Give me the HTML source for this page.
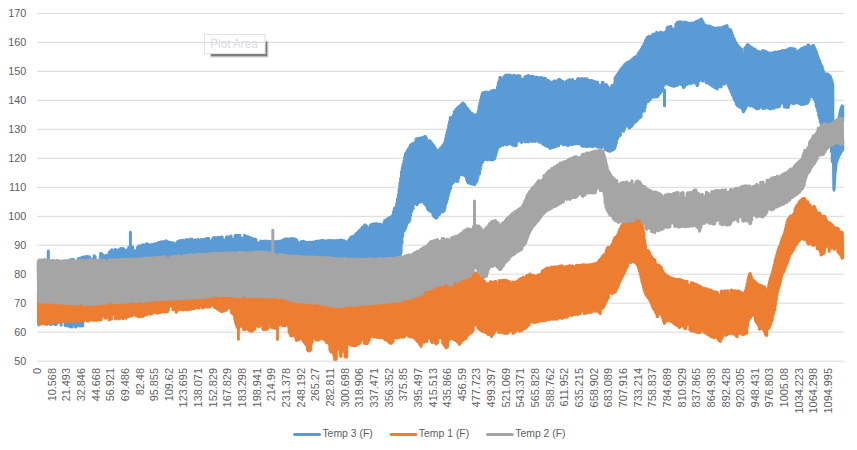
<!DOCTYPE html>
<html><head><meta charset="utf-8"><title>chart</title>
<style>
html,body{margin:0;padding:0;background:#fff;}
body{width:857px;height:450px;overflow:hidden;font-family:"Liberation Sans",sans-serif;}
svg{display:block;}
text{font-family:"Liberation Sans",sans-serif;font-size:10.4px;fill:#606060;}
.tip text{fill:#DCDCE4;font-size:12px;}
</style></head><body>
<svg width="857" height="450" viewBox="0 0 857 450">
<rect width="857" height="450" fill="#fff"/>
<g>
<line x1="37" y1="13.4" x2="844.2" y2="13.4" stroke="#D9D9D9" stroke-width="1"/>
<line x1="37" y1="42.4" x2="844.2" y2="42.4" stroke="#D9D9D9" stroke-width="1"/>
<line x1="37" y1="71.4" x2="844.2" y2="71.4" stroke="#D9D9D9" stroke-width="1"/>
<line x1="37" y1="100.3" x2="844.2" y2="100.3" stroke="#D9D9D9" stroke-width="1"/>
<line x1="37" y1="129.3" x2="844.2" y2="129.3" stroke="#D9D9D9" stroke-width="1"/>
<line x1="37" y1="158.3" x2="844.2" y2="158.3" stroke="#D9D9D9" stroke-width="1"/>
<line x1="37" y1="187.3" x2="844.2" y2="187.3" stroke="#D9D9D9" stroke-width="1"/>
<line x1="37" y1="216.3" x2="844.2" y2="216.3" stroke="#D9D9D9" stroke-width="1"/>
<line x1="37" y1="245.2" x2="844.2" y2="245.2" stroke="#D9D9D9" stroke-width="1"/>
<line x1="37" y1="274.2" x2="844.2" y2="274.2" stroke="#D9D9D9" stroke-width="1"/>
<line x1="37" y1="303.2" x2="844.2" y2="303.2" stroke="#D9D9D9" stroke-width="1"/>
<line x1="37" y1="332.2" x2="844.2" y2="332.2" stroke="#D9D9D9" stroke-width="1"/>
<line x1="37" y1="361.2" x2="844.2" y2="361.2" stroke="#D9D9D9" stroke-width="1"/>
</g>
<g>
<path d="M38.3,263.6 L39.1,266.2 L39.9,266.1 L40.7,265.3 L41.5,265.6 L42.3,265.5 L43.1,263.8 L43.9,263.6 L44.7,263.6 L45.5,262.5 L46.3,262.3 L47.1,262.8 L47.9,262.2 L48.7,262.4 L49.5,261.9 L50.3,262.2 L51.1,262.0 L51.9,262.0 L52.7,262.6 L53.5,262.1 L54.3,261.9 L55.1,262.3 L55.9,262.1 L56.7,262.4 L57.5,262.1 L58.3,262.4 L59.1,262.4 L59.9,263.2 L60.7,262.2 L61.5,261.9 L62.3,262.6 L63.1,261.8 L63.9,262.4 L64.7,261.9 L65.5,261.5 L66.3,261.0 L67.1,261.5 L67.9,261.2 L68.7,261.2 L69.5,260.8 L70.3,260.0 L71.1,259.4 L71.9,260.0 L72.7,259.4 L73.5,259.6 L74.3,262.4 L75.1,261.6 L75.9,262.3 L76.7,261.8 L77.5,261.7 L78.3,258.7 L79.1,258.5 L79.9,258.2 L80.7,258.1 L81.5,257.8 L82.3,257.3 L83.1,257.6 L83.9,257.1 L84.7,256.8 L85.5,257.0 L86.3,257.0 L87.1,256.4 L87.9,256.6 L88.7,257.2 L89.5,256.8 L90.3,259.6 L91.1,259.6 L91.9,259.2 L92.7,259.0 L93.5,259.2 L94.3,255.8 L95.1,256.7 L95.9,260.7 L96.7,263.2 L97.5,263.9 L98.3,261.4 L99.1,261.4 L99.9,259.0 L100.7,253.6 L101.5,253.4 L102.3,254.2 L103.1,255.7 L103.9,256.2 L104.7,255.9 L105.5,255.5 L106.3,256.0 L107.1,255.6 L107.9,256.3 L108.7,254.0 L109.5,252.1 L110.3,251.7 L111.1,250.6 L111.9,249.8 L112.7,250.7 L113.5,253.0 L114.3,252.5 L115.1,249.4 L115.9,250.0 L116.7,250.1 L117.5,250.5 L118.3,250.1 L119.1,249.8 L119.9,249.4 L120.7,248.6 L121.5,248.7 L122.3,248.4 L123.1,248.6 L123.9,248.9 L124.7,250.5 L125.5,251.2 L126.3,250.5 L127.1,250.0 L127.9,249.9 L128.7,247.4 L129.5,247.7 L130.3,247.1 L131.1,246.6 L131.9,247.0 L132.7,246.7 L133.5,250.2 L134.3,250.8 L135.1,251.3 L135.9,250.8 L136.7,250.1 L137.5,247.6 L138.3,246.4 L139.1,246.1 L139.9,246.0 L140.7,245.7 L141.5,245.7 L142.3,245.0 L143.1,244.7 L143.9,245.5 L144.7,245.1 L145.5,244.9 L146.3,244.1 L147.1,243.7 L147.9,244.1 L148.7,244.6 L149.5,247.1 L150.3,246.8 L151.1,244.9 L151.9,244.6 L152.7,244.6 L153.5,245.3 L154.3,244.1 L155.1,244.2 L155.9,244.3 L156.7,243.8 L157.5,243.3 L158.3,242.7 L159.1,242.5 L159.9,242.9 L160.7,242.1 L161.5,241.8 L162.3,242.0 L163.1,241.8 L163.9,241.8 L164.7,241.4 L165.5,241.2 L166.3,240.8 L167.1,241.8 L167.9,242.1 L168.7,241.9 L169.5,242.5 L170.3,242.4 L171.1,242.7 L171.9,243.1 L172.7,243.0 L173.5,243.0 L174.3,243.0 L175.1,245.3 L175.9,244.5 L176.7,245.4 L177.5,241.7 L178.3,241.8 L179.1,240.9 L179.9,241.0 L180.7,240.6 L181.5,241.1 L182.3,240.8 L183.1,240.2 L183.9,240.4 L184.7,241.3 L185.5,240.6 L186.3,239.8 L187.1,239.4 L187.9,239.9 L188.7,239.8 L189.5,239.6 L190.3,239.3 L191.1,240.0 L191.9,239.0 L192.7,240.0 L193.5,241.0 L194.3,240.2 L195.1,240.1 L195.9,239.9 L196.7,240.8 L197.5,239.7 L198.3,239.6 L199.1,240.6 L199.9,240.9 L200.7,240.0 L201.5,239.6 L202.3,239.7 L203.1,240.2 L203.9,239.4 L204.7,239.3 L205.5,238.9 L206.3,239.3 L207.1,238.6 L207.9,238.5 L208.7,238.6 L209.5,240.9 L210.3,240.9 L211.1,241.0 L211.9,240.8 L212.7,238.7 L213.5,237.8 L214.3,237.6 L215.1,238.5 L215.9,237.7 L216.7,238.6 L217.5,237.6 L218.3,237.2 L219.1,237.6 L219.9,237.9 L220.7,237.5 L221.5,236.9 L222.3,237.2 L223.1,240.7 L223.9,240.9 L224.7,240.3 L225.5,241.3 L226.3,237.6 L227.1,236.8 L227.9,237.0 L228.7,240.3 L229.5,239.6 L230.3,236.6 L231.1,236.1 L231.9,239.1 L232.7,239.8 L233.5,239.2 L234.3,239.1 L235.1,235.7 L235.9,235.3 L236.7,235.9 L237.5,235.2 L238.3,236.3 L239.1,235.4 L239.9,235.3 L240.7,238.6 L241.5,238.8 L242.3,238.8 L243.1,238.2 L243.9,238.7 L244.7,235.2 L245.5,235.9 L246.3,236.8 L247.1,236.8 L247.9,236.8 L248.7,237.1 L249.5,238.0 L250.3,237.7 L251.1,237.9 L251.9,239.1 L252.7,238.8 L253.5,238.9 L254.3,240.4 L255.1,239.1 L255.9,239.4 L256.7,242.8 L257.5,243.0 L258.3,242.9 L259.1,243.3 L259.9,243.7 L260.7,241.0 L261.5,241.4 L262.3,241.5 L263.1,241.2 L263.9,241.9 L264.7,242.1 L265.5,241.1 L266.3,241.2 L267.1,241.7 L267.9,241.3 L268.7,241.2 L269.5,241.5 L270.3,241.7 L271.1,241.7 L271.9,241.4 L272.7,240.9 L273.5,241.5 L274.3,241.4 L275.1,242.2 L275.9,241.7 L276.7,241.8 L277.5,241.3 L278.3,241.2 L279.1,241.9 L279.9,241.6 L280.7,241.1 L281.5,240.8 L282.3,240.6 L283.1,240.3 L283.9,239.4 L284.7,239.5 L285.5,239.4 L286.3,238.7 L287.1,238.9 L287.9,240.2 L288.7,240.0 L289.5,238.7 L290.3,239.3 L291.1,238.7 L291.9,238.5 L292.7,239.0 L293.5,238.8 L294.3,238.8 L295.1,239.6 L295.9,239.4 L296.7,240.0 L297.5,242.2 L298.3,242.2 L299.1,242.7 L299.9,243.0 L300.7,242.8 L301.5,241.5 L302.3,241.4 L303.1,241.3 L303.9,241.8 L304.7,242.0 L305.5,242.0 L306.3,242.8 L307.1,242.6 L307.9,242.6 L308.7,242.8 L309.5,242.3 L310.3,242.3 L311.1,242.7 L311.9,242.3 L312.7,242.1 L313.5,242.7 L314.3,242.4 L315.1,241.8 L315.9,241.2 L316.7,241.4 L317.5,241.7 L318.3,241.0 L319.1,240.9 L319.9,241.3 L320.7,241.1 L321.5,240.6 L322.3,240.6 L323.1,240.8 L323.9,240.8 L324.7,240.9 L325.5,240.9 L326.3,241.9 L327.1,241.3 L327.9,240.6 L328.7,241.2 L329.5,240.6 L330.3,240.7 L331.1,240.5 L331.9,240.8 L332.7,240.8 L333.5,241.0 L334.3,240.4 L335.1,241.2 L335.9,241.6 L336.7,240.6 L337.5,240.7 L338.3,240.9 L339.1,240.6 L339.9,240.6 L340.7,240.0 L341.5,240.6 L342.3,240.3 L343.1,240.7 L343.9,240.7 L344.7,241.0 L345.5,242.1 L346.3,242.0 L347.1,243.1 L347.9,241.5 L348.7,240.5 L349.5,239.2 L350.3,238.2 L351.1,237.1 L351.9,237.3 L352.7,236.5 L353.5,238.0 L354.3,237.7 L355.1,234.7 L355.9,233.9 L356.7,233.3 L357.5,232.7 L358.3,231.9 L359.1,230.8 L359.9,230.4 L360.7,229.6 L361.5,228.7 L362.3,227.3 L363.1,227.0 L363.9,226.8 L364.7,225.0 L365.5,225.0 L366.3,226.1 L367.1,226.6 L367.9,229.3 L368.7,230.1 L369.5,228.5 L370.3,225.4 L371.1,225.0 L371.9,224.3 L372.7,224.8 L373.5,223.9 L374.3,223.7 L375.1,223.8 L375.9,224.3 L376.7,223.8 L377.5,224.1 L378.3,224.6 L379.1,224.3 L379.9,224.0 L380.7,224.5 L381.5,225.2 L382.3,225.1 L383.1,224.6 L383.9,222.9 L384.7,220.6 L385.5,220.2 L386.3,219.7 L387.1,219.2 L387.9,218.7 L388.7,218.1 L389.5,218.1 L390.3,217.4 L391.1,217.1 L391.9,217.1 L392.7,215.2 L393.5,212.1 L394.3,208.4 L395.1,208.8 L395.9,206.8 L396.7,203.5 L397.5,199.3 L398.3,195.2 L399.1,189.2 L399.9,183.1 L400.7,178.3 L401.5,171.7 L402.3,167.8 L403.1,164.6 L403.9,161.1 L404.7,156.9 L405.5,154.0 L406.3,152.9 L407.1,150.9 L407.9,150.0 L408.7,148.4 L409.5,147.4 L410.3,145.6 L411.1,144.7 L411.9,143.9 L412.7,143.7 L413.5,143.2 L414.3,143.9 L415.1,142.9 L415.9,139.5 L416.7,138.7 L417.5,138.9 L418.3,138.3 L419.1,138.5 L419.9,138.2 L420.7,138.2 L421.5,137.8 L422.3,137.7 L423.1,137.6 L423.9,137.4 L424.7,136.5 L425.5,136.5 L426.3,137.8 L427.1,141.5 L427.9,141.6 L428.7,143.4 L429.5,140.4 L430.3,141.0 L431.1,142.5 L431.9,142.9 L432.7,144.4 L433.5,145.3 L434.3,146.5 L435.1,147.4 L435.9,149.0 L436.7,152.5 L437.5,153.5 L438.3,150.6 L439.1,150.3 L439.9,149.1 L440.7,147.9 L441.5,147.8 L442.3,146.2 L443.1,145.3 L443.9,143.9 L444.7,142.5 L445.5,139.1 L446.3,135.2 L447.1,132.0 L447.9,129.5 L448.7,125.2 L449.5,121.7 L450.3,117.4 L451.1,118.8 L451.9,117.5 L452.7,116.8 L453.5,115.1 L454.3,111.7 L455.1,110.9 L455.9,109.6 L456.7,109.2 L457.5,107.8 L458.3,107.6 L459.1,106.4 L459.9,106.3 L460.7,105.2 L461.5,104.5 L462.3,103.4 L463.1,103.1 L463.9,104.3 L464.7,104.6 L465.5,105.9 L466.3,107.4 L467.1,108.7 L467.9,108.7 L468.7,111.1 L469.5,111.0 L470.3,112.2 L471.1,113.1 L471.9,114.4 L472.7,113.8 L473.5,114.9 L474.3,115.1 L475.1,115.7 L475.9,114.7 L476.7,114.7 L477.5,115.3 L478.3,111.0 L479.1,106.5 L479.9,103.3 L480.7,99.6 L481.5,96.2 L482.3,93.6 L483.1,92.7 L483.9,93.1 L484.7,92.3 L485.5,92.4 L486.3,92.1 L487.1,92.6 L487.9,92.2 L488.7,92.7 L489.5,92.8 L490.3,91.9 L491.1,91.0 L491.9,91.9 L492.7,90.9 L493.5,90.3 L494.3,90.6 L495.1,90.5 L495.9,92.9 L496.7,90.9 L497.5,87.1 L498.3,83.1 L499.1,81.3 L499.9,77.4 L500.7,77.4 L501.5,80.1 L502.3,79.5 L503.1,79.8 L503.9,76.7 L504.7,76.5 L505.5,75.3 L506.3,75.8 L507.1,75.1 L507.9,75.3 L508.7,75.2 L509.5,75.6 L510.3,74.9 L511.1,75.7 L511.9,76.2 L512.7,75.7 L513.5,75.7 L514.3,75.3 L515.1,75.7 L515.9,75.9 L516.7,76.6 L517.5,76.4 L518.3,75.5 L519.1,76.1 L519.9,75.8 L520.7,78.4 L521.5,79.3 L522.3,79.3 L523.1,79.4 L523.9,79.4 L524.7,77.2 L525.5,76.4 L526.3,76.4 L527.1,76.0 L527.9,76.6 L528.7,75.5 L529.5,76.5 L530.3,76.4 L531.1,76.4 L531.9,76.6 L532.7,76.3 L533.5,77.4 L534.3,77.2 L535.1,77.3 L535.9,77.1 L536.7,77.7 L537.5,77.2 L538.3,78.1 L539.1,78.1 L539.9,77.9 L540.7,77.5 L541.5,77.7 L542.3,77.9 L543.1,78.4 L543.9,78.2 L544.7,78.3 L545.5,78.5 L546.3,79.7 L547.1,80.6 L547.9,80.3 L548.7,80.8 L549.5,81.6 L550.3,82.3 L551.1,82.7 L551.9,82.8 L552.7,82.1 L553.5,82.0 L554.3,80.9 L555.1,81.0 L555.9,81.1 L556.7,81.7 L557.5,81.1 L558.3,79.7 L559.1,79.6 L559.9,79.8 L560.7,79.9 L561.5,81.1 L562.3,81.6 L563.1,81.6 L563.9,82.4 L564.7,83.2 L565.5,82.9 L566.3,81.4 L567.1,81.1 L567.9,80.5 L568.7,80.1 L569.5,79.9 L570.3,79.8 L571.1,80.3 L571.9,80.4 L572.7,79.5 L573.5,81.0 L574.3,81.8 L575.1,81.5 L575.9,81.5 L576.7,81.1 L577.5,79.3 L578.3,78.6 L579.1,79.0 L579.9,78.8 L580.7,79.2 L581.5,78.7 L582.3,78.4 L583.1,78.9 L583.9,78.9 L584.7,78.8 L585.5,79.0 L586.3,79.0 L587.1,78.8 L587.9,80.0 L588.7,82.3 L589.5,82.5 L590.3,80.4 L591.1,80.6 L591.9,80.7 L592.7,80.8 L593.5,81.3 L594.3,82.2 L595.1,81.8 L595.9,82.2 L596.7,82.3 L597.5,82.0 L598.3,86.0 L599.1,85.1 L599.9,85.5 L600.7,85.2 L601.5,85.9 L602.3,82.4 L603.1,82.3 L603.9,85.2 L604.7,85.1 L605.5,85.0 L606.3,84.5 L607.1,85.4 L607.9,86.9 L608.7,89.5 L609.5,88.9 L610.3,88.0 L611.1,87.5 L611.9,85.6 L612.7,88.0 L613.5,85.4 L614.3,84.0 L615.1,77.8 L615.9,77.1 L616.7,75.5 L617.5,74.6 L618.3,73.5 L619.1,72.3 L619.9,70.7 L620.7,69.8 L621.5,68.5 L622.3,67.8 L623.1,66.9 L623.9,65.8 L624.7,64.4 L625.5,63.9 L626.3,63.4 L627.1,62.7 L627.9,62.3 L628.7,61.7 L629.5,62.0 L630.3,61.0 L631.1,60.6 L631.9,60.0 L632.7,58.8 L633.5,58.4 L634.3,57.6 L635.1,57.1 L635.9,57.3 L636.7,56.6 L637.5,55.5 L638.3,53.4 L639.1,52.7 L639.9,51.3 L640.7,50.6 L641.5,48.9 L642.3,47.2 L643.1,46.2 L643.9,44.5 L644.7,43.1 L645.5,40.6 L646.3,39.6 L647.1,37.4 L647.9,37.1 L648.7,37.1 L649.5,36.1 L650.3,36.7 L651.1,36.7 L651.9,36.5 L652.7,34.5 L653.5,34.5 L654.3,33.9 L655.1,34.0 L655.9,33.7 L656.7,32.3 L657.5,33.1 L658.3,33.3 L659.1,32.9 L659.9,32.8 L660.7,32.1 L661.5,32.9 L662.3,32.8 L663.1,32.9 L663.9,32.7 L664.7,33.4 L665.5,32.1 L666.3,31.0 L667.1,28.1 L667.9,27.1 L668.7,27.4 L669.5,27.0 L670.3,26.6 L671.1,26.6 L671.9,30.0 L672.7,29.5 L673.5,29.5 L674.3,28.8 L675.1,28.4 L675.9,24.1 L676.7,23.9 L677.5,22.2 L678.3,22.8 L679.1,22.0 L679.9,21.8 L680.7,21.8 L681.5,22.3 L682.3,22.2 L683.1,23.3 L683.9,23.1 L684.7,22.1 L685.5,22.8 L686.3,22.3 L687.1,22.7 L687.9,23.4 L688.7,23.0 L689.5,23.5 L690.3,23.5 L691.1,23.2 L691.9,23.0 L692.7,23.0 L693.5,23.0 L694.3,22.7 L695.1,22.8 L695.9,21.8 L696.7,21.3 L697.5,21.0 L698.3,21.0 L699.1,20.6 L699.9,19.8 L700.7,19.4 L701.5,18.9 L702.3,20.4 L703.1,21.7 L703.9,24.0 L704.7,25.2 L705.5,25.2 L706.3,25.8 L707.1,26.0 L707.9,25.9 L708.7,26.5 L709.5,26.1 L710.3,26.9 L711.1,26.7 L711.9,27.4 L712.7,27.7 L713.5,27.9 L714.3,28.3 L715.1,28.0 L715.9,28.9 L716.7,29.2 L717.5,28.0 L718.3,27.8 L719.1,28.1 L719.9,27.9 L720.7,27.7 L721.5,27.9 L722.3,27.4 L723.1,27.5 L723.9,26.7 L724.7,26.3 L725.5,26.8 L726.3,26.9 L727.1,25.5 L727.9,28.3 L728.7,29.6 L729.5,31.5 L730.3,29.6 L731.1,30.7 L731.9,32.9 L732.7,35.2 L733.5,37.8 L734.3,38.7 L735.1,40.9 L735.9,42.5 L736.7,43.8 L737.5,44.9 L738.3,45.8 L739.1,47.2 L739.9,47.5 L740.7,48.6 L741.5,49.1 L742.3,53.5 L743.1,54.0 L743.9,54.7 L744.7,48.6 L745.5,47.6 L746.3,46.6 L747.1,45.0 L747.9,44.5 L748.7,45.2 L749.5,45.9 L750.3,46.4 L751.1,47.2 L751.9,47.6 L752.7,48.8 L753.5,48.9 L754.3,49.1 L755.1,48.9 L755.9,51.5 L756.7,51.2 L757.5,51.1 L758.3,51.5 L759.1,51.7 L759.9,52.2 L760.7,52.9 L761.5,52.7 L762.3,50.7 L763.1,50.7 L763.9,51.0 L764.7,51.1 L765.5,51.6 L766.3,52.2 L767.1,52.3 L767.9,52.8 L768.7,53.0 L769.5,53.7 L770.3,52.9 L771.1,53.4 L771.9,53.4 L772.7,53.3 L773.5,52.6 L774.3,53.3 L775.1,52.1 L775.9,52.7 L776.7,52.2 L777.5,52.1 L778.3,51.8 L779.1,51.5 L779.9,51.4 L780.7,51.6 L781.5,51.8 L782.3,50.6 L783.1,51.1 L783.9,50.9 L784.7,50.6 L785.5,50.3 L786.3,50.3 L787.1,50.0 L787.9,49.6 L788.7,49.1 L789.5,48.9 L790.3,48.3 L791.1,48.6 L791.9,49.3 L792.7,48.4 L793.5,49.4 L794.3,49.9 L795.1,49.1 L795.9,50.9 L796.7,51.5 L797.5,52.3 L798.3,52.1 L799.1,50.5 L799.9,50.4 L800.7,49.5 L801.5,48.6 L802.3,48.3 L803.1,48.0 L803.9,47.8 L804.7,47.1 L805.5,47.0 L806.3,49.1 L807.1,48.3 L807.9,45.0 L808.7,44.9 L809.5,47.0 L810.3,47.3 L811.1,47.1 L811.9,46.3 L812.7,46.8 L813.5,45.3 L814.3,47.0 L815.1,48.8 L815.9,50.5 L816.7,52.5 L817.5,55.5 L818.3,57.5 L819.1,60.2 L819.9,60.7 L820.7,63.7 L821.5,65.5 L822.3,66.7 L823.1,70.1 L823.9,71.7 L824.7,73.7 L825.5,75.2 L826.3,75.8 L827.1,73.8 L827.9,74.5 L828.7,74.7 L829.5,75.5 L830.3,76.1 L831.1,82.2 L831.9,82.4 L832.3,161.8 L831.5,151.8 L830.7,138.1 L829.9,131.5 L829.1,129.9 L828.3,128.3 L827.5,126.5 L826.7,117.5 L825.9,115.4 L825.1,120.4 L824.3,126.7 L823.5,126.6 L822.7,126.8 L821.9,126.5 L821.1,124.5 L820.3,121.7 L819.5,118.4 L818.7,115.2 L817.9,111.5 L817.1,108.5 L816.3,106.2 L815.5,102.1 L814.7,99.3 L813.9,99.1 L813.1,96.8 L812.3,96.7 L811.5,96.8 L810.7,96.7 L809.9,97.1 L809.1,100.2 L808.3,102.1 L807.5,103.3 L806.7,103.6 L805.9,103.7 L805.1,103.7 L804.3,104.2 L803.5,104.1 L802.7,104.4 L801.9,104.4 L801.1,104.6 L800.3,104.1 L799.5,103.7 L798.7,102.6 L797.9,103.1 L797.1,102.7 L796.3,102.7 L795.5,103.1 L794.7,103.0 L793.9,103.7 L793.1,103.4 L792.3,102.5 L791.5,102.9 L790.7,102.4 L789.9,102.5 L789.1,104.8 L788.3,107.6 L787.5,107.3 L786.7,107.4 L785.9,106.7 L785.1,107.0 L784.3,106.9 L783.5,103.1 L782.7,102.3 L781.9,102.0 L781.1,103.4 L780.3,102.2 L779.5,106.4 L778.7,106.2 L777.9,107.0 L777.1,107.2 L776.3,107.0 L775.5,107.0 L774.7,107.8 L773.9,108.2 L773.1,108.6 L772.3,106.1 L771.5,106.3 L770.7,108.9 L769.9,109.0 L769.1,108.4 L768.3,108.3 L767.5,107.4 L766.7,107.0 L765.9,107.5 L765.1,108.5 L764.3,108.2 L763.5,107.9 L762.7,108.6 L761.9,106.1 L761.1,105.7 L760.3,105.2 L759.5,107.7 L758.7,108.4 L757.9,108.0 L757.1,108.8 L756.3,108.7 L755.5,107.7 L754.7,107.5 L753.9,106.9 L753.1,105.7 L752.3,106.0 L751.5,105.7 L750.7,105.1 L749.9,105.9 L749.1,105.0 L748.3,104.8 L747.5,104.8 L746.7,106.2 L745.9,107.7 L745.1,109.5 L744.3,110.4 L743.5,111.9 L742.7,110.2 L741.9,108.2 L741.1,107.4 L740.3,107.3 L739.5,107.2 L738.7,106.6 L737.9,105.9 L737.1,105.6 L736.3,104.0 L735.5,101.4 L734.7,99.9 L733.9,98.6 L733.1,96.3 L732.3,94.9 L731.5,92.7 L730.7,91.2 L729.9,89.1 L729.1,87.5 L728.3,85.5 L727.5,82.1 L726.7,82.3 L725.9,81.7 L725.1,83.8 L724.3,84.0 L723.5,83.9 L722.7,84.1 L721.9,84.6 L721.1,86.9 L720.3,86.0 L719.5,86.5 L718.7,87.1 L717.9,87.1 L717.1,88.9 L716.3,87.9 L715.5,87.7 L714.7,87.7 L713.9,86.7 L713.1,86.3 L712.3,86.2 L711.5,85.3 L710.7,84.8 L709.9,84.5 L709.1,83.9 L708.3,83.0 L707.5,82.7 L706.7,82.9 L705.9,82.2 L705.1,79.4 L704.3,78.2 L703.5,78.7 L702.7,81.2 L701.9,78.2 L701.1,78.9 L700.3,79.5 L699.5,80.7 L698.7,81.3 L697.9,85.1 L697.1,85.7 L696.3,83.8 L695.5,82.5 L694.7,82.0 L693.9,82.7 L693.1,82.6 L692.3,82.6 L691.5,83.1 L690.7,83.7 L689.9,83.4 L689.1,83.0 L688.3,83.4 L687.5,84.3 L686.7,84.6 L685.9,84.6 L685.1,85.7 L684.3,87.0 L683.5,87.8 L682.7,85.0 L681.9,85.0 L681.1,82.6 L680.3,83.9 L679.5,83.8 L678.7,84.3 L677.9,85.1 L677.1,85.4 L676.3,85.6 L675.5,85.6 L674.7,86.2 L673.9,86.2 L673.1,86.1 L672.3,85.9 L671.5,85.2 L670.7,85.4 L669.9,84.4 L669.1,84.5 L668.3,84.4 L667.5,84.0 L666.7,81.3 L665.9,81.3 L665.1,83.7 L664.3,85.1 L663.5,85.7 L662.7,90.1 L661.9,90.9 L661.1,92.3 L660.3,92.7 L659.5,94.1 L658.7,94.9 L657.9,96.6 L657.1,96.9 L656.3,96.4 L655.5,96.7 L654.7,97.3 L653.9,96.4 L653.1,96.6 L652.3,97.1 L651.5,97.9 L650.7,98.8 L649.9,100.0 L649.1,100.3 L648.3,101.6 L647.5,100.6 L646.7,101.5 L645.9,104.1 L645.1,107.6 L644.3,111.2 L643.5,109.6 L642.7,111.0 L641.9,112.3 L641.1,116.5 L640.3,117.5 L639.5,117.9 L638.7,118.3 L637.9,119.5 L637.1,120.2 L636.3,121.4 L635.5,121.7 L634.7,122.0 L633.9,123.3 L633.1,123.9 L632.3,125.6 L631.5,126.4 L630.7,127.0 L629.9,127.8 L629.1,127.9 L628.3,124.7 L627.5,126.0 L626.7,126.1 L625.9,126.3 L625.1,127.1 L624.3,130.0 L623.5,131.6 L622.7,129.1 L621.9,129.4 L621.1,130.8 L620.3,135.2 L619.5,136.1 L618.7,136.3 L617.9,138.1 L617.1,139.6 L616.3,143.2 L615.5,146.2 L614.7,148.5 L613.9,149.3 L613.1,149.7 L612.3,150.2 L611.5,149.9 L610.7,150.8 L609.9,151.4 L609.1,151.0 L608.3,150.7 L607.5,150.7 L606.7,149.9 L605.9,149.6 L605.1,149.4 L604.3,145.4 L603.5,144.9 L602.7,144.1 L601.9,147.4 L601.1,147.6 L600.3,147.0 L599.5,146.9 L598.7,147.1 L597.9,147.3 L597.1,147.0 L596.3,146.2 L595.5,143.3 L594.7,143.2 L593.9,145.8 L593.1,146.7 L592.3,146.3 L591.5,146.4 L590.7,145.9 L589.9,145.7 L589.1,146.3 L588.3,146.3 L587.5,145.9 L586.7,146.7 L585.9,146.5 L585.1,145.9 L584.3,145.8 L583.5,146.2 L582.7,146.4 L581.9,146.1 L581.1,144.9 L580.3,143.6 L579.5,143.1 L578.7,143.7 L577.9,143.7 L577.1,143.2 L576.3,143.8 L575.5,144.0 L574.7,143.8 L573.9,143.9 L573.1,144.0 L572.3,144.4 L571.5,144.4 L570.7,144.4 L569.9,144.4 L569.1,145.1 L568.3,145.6 L567.5,145.2 L566.7,145.3 L565.9,143.4 L565.1,144.1 L564.3,144.6 L563.5,145.1 L562.7,143.4 L561.9,143.5 L561.1,143.4 L560.3,143.1 L559.5,142.6 L558.7,145.8 L557.9,145.6 L557.1,145.8 L556.3,146.5 L555.5,146.2 L554.7,146.9 L553.9,146.5 L553.1,147.5 L552.3,147.5 L551.5,147.8 L550.7,147.9 L549.9,148.4 L549.1,144.4 L548.3,144.3 L547.5,146.8 L546.7,146.3 L545.9,145.6 L545.1,145.4 L544.3,145.1 L543.5,144.6 L542.7,144.1 L541.9,143.3 L541.1,142.5 L540.3,141.9 L539.5,142.1 L538.7,141.9 L537.9,138.7 L537.1,138.7 L536.3,138.7 L535.5,141.5 L534.7,141.3 L533.9,141.4 L533.1,141.0 L532.3,141.1 L531.5,141.4 L530.7,141.2 L529.9,140.7 L529.1,141.1 L528.3,142.0 L527.5,141.7 L526.7,141.4 L525.9,141.8 L525.1,142.0 L524.3,138.5 L523.5,138.8 L522.7,138.8 L521.9,142.4 L521.1,142.2 L520.3,138.7 L519.5,139.2 L518.7,140.8 L517.9,141.2 L517.1,141.4 L516.3,145.4 L515.5,146.1 L514.7,144.5 L513.9,144.1 L513.1,145.4 L512.3,145.1 L511.5,143.9 L510.7,143.8 L509.9,143.4 L509.1,144.1 L508.3,143.9 L507.5,143.7 L506.7,144.8 L505.9,141.4 L505.1,140.8 L504.3,144.6 L503.5,144.9 L502.7,145.2 L501.9,145.2 L501.1,144.9 L500.3,146.2 L499.5,146.7 L498.7,146.8 L497.9,148.1 L497.1,150.6 L496.3,153.4 L495.5,156.3 L494.7,158.8 L493.9,159.3 L493.1,159.7 L492.3,159.8 L491.5,159.8 L490.7,160.1 L489.9,159.3 L489.1,159.3 L488.3,159.3 L487.5,159.9 L486.7,159.3 L485.9,159.2 L485.1,159.6 L484.3,159.5 L483.5,160.0 L482.7,162.2 L481.9,163.1 L481.1,165.5 L480.3,169.5 L479.5,173.9 L478.7,174.2 L477.9,178.1 L477.1,180.8 L476.3,182.2 L475.5,183.1 L474.7,184.8 L473.9,184.4 L473.1,184.3 L472.3,183.9 L471.5,183.9 L470.7,183.8 L469.9,183.4 L469.1,183.1 L468.3,183.0 L467.5,182.0 L466.7,179.9 L465.9,177.0 L465.1,175.9 L464.3,175.3 L463.5,174.4 L462.7,174.9 L461.9,174.3 L461.1,174.5 L460.3,174.9 L459.5,174.9 L458.7,177.9 L457.9,181.5 L457.1,181.1 L456.3,181.3 L455.5,181.1 L454.7,181.2 L453.9,181.8 L453.1,182.9 L452.3,182.6 L451.5,184.5 L450.7,188.2 L449.9,190.5 L449.1,192.7 L448.3,195.9 L447.5,199.4 L446.7,201.9 L445.9,204.1 L445.1,208.3 L444.3,210.7 L443.5,210.7 L442.7,211.9 L441.9,211.6 L441.1,212.1 L440.3,212.6 L439.5,214.5 L438.7,214.9 L437.9,215.4 L437.1,217.4 L436.3,218.2 L435.5,218.0 L434.7,216.7 L433.9,216.8 L433.1,215.3 L432.3,212.7 L431.5,212.0 L430.7,211.3 L429.9,211.3 L429.1,210.6 L428.3,210.0 L427.5,208.7 L426.7,206.4 L425.9,205.0 L425.1,204.5 L424.3,203.7 L423.5,202.2 L422.7,200.5 L421.9,201.0 L421.1,202.1 L420.3,200.6 L419.5,201.7 L418.7,202.7 L417.9,203.1 L417.1,204.7 L416.3,202.8 L415.5,203.5 L414.7,203.1 L413.9,204.6 L413.1,209.0 L412.3,207.7 L411.5,211.7 L410.7,215.6 L409.9,219.9 L409.1,222.1 L408.3,220.5 L407.5,223.0 L406.7,224.9 L405.9,227.4 L405.1,229.2 L404.3,231.1 L403.5,229.9 L402.7,236.0 L401.9,243.6 L401.1,252.9 L400.3,258.2 L399.5,260.5 L398.7,260.6 L397.9,261.5 L397.1,261.7 L396.3,262.0 L395.5,262.9 L394.7,262.8 L393.9,263.4 L393.1,263.0 L392.3,263.8 L391.5,263.8 L390.7,264.6 L389.9,265.0 L389.1,264.5 L388.3,265.7 L387.5,265.6 L386.7,265.8 L385.9,266.5 L385.1,265.9 L384.3,266.2 L383.5,265.8 L382.7,266.2 L381.9,265.1 L381.1,265.4 L380.3,268.4 L379.5,268.3 L378.7,267.7 L377.9,268.1 L377.1,267.8 L376.3,268.1 L375.5,268.3 L374.7,268.8 L373.9,268.9 L373.1,268.6 L372.3,268.2 L371.5,268.9 L370.7,268.4 L369.9,268.3 L369.1,268.3 L368.3,268.7 L367.5,268.6 L366.7,269.3 L365.9,268.3 L365.1,268.7 L364.3,268.8 L363.5,268.1 L362.7,268.4 L361.9,268.8 L361.1,268.3 L360.3,268.9 L359.5,268.0 L358.7,268.5 L357.9,266.1 L357.1,266.5 L356.3,266.1 L355.5,265.8 L354.7,265.2 L353.9,267.7 L353.1,267.4 L352.3,267.6 L351.5,268.1 L350.7,268.1 L349.9,267.8 L349.1,267.7 L348.3,268.2 L347.5,269.3 L346.7,268.5 L345.9,268.6 L345.1,266.4 L344.3,266.2 L343.5,266.4 L342.7,266.4 L341.9,266.6 L341.1,268.5 L340.3,268.2 L339.5,267.6 L338.7,268.1 L337.9,267.8 L337.1,267.9 L336.3,268.4 L335.5,268.0 L334.7,267.3 L333.9,267.2 L333.1,267.7 L332.3,268.0 L331.5,268.1 L330.7,268.1 L329.9,268.5 L329.1,269.0 L328.3,268.2 L327.5,268.4 L326.7,268.6 L325.9,268.7 L325.1,268.2 L324.3,268.3 L323.5,267.8 L322.7,267.9 L321.9,267.5 L321.1,267.5 L320.3,267.6 L319.5,268.1 L318.7,268.1 L317.9,268.9 L317.1,268.6 L316.3,266.5 L315.5,266.3 L314.7,268.1 L313.9,268.3 L313.1,268.1 L312.3,267.7 L311.5,268.2 L310.7,268.6 L309.9,268.8 L309.1,268.6 L308.3,268.7 L307.5,267.7 L306.7,268.2 L305.9,268.1 L305.1,266.7 L304.3,268.0 L303.5,267.5 L302.7,267.2 L301.9,268.2 L301.1,267.8 L300.3,268.7 L299.5,268.3 L298.7,267.5 L297.9,268.0 L297.1,267.9 L296.3,268.8 L295.5,268.0 L294.7,268.6 L293.9,267.8 L293.1,265.1 L292.3,265.2 L291.5,268.3 L290.7,265.9 L289.9,266.3 L289.1,268.9 L288.3,268.3 L287.5,268.3 L286.7,268.5 L285.9,268.9 L285.1,268.4 L284.3,268.4 L283.5,268.4 L282.7,268.5 L281.9,268.4 L281.1,268.3 L280.3,268.8 L279.5,268.9 L278.7,268.2 L277.9,268.5 L277.1,268.7 L276.3,268.2 L275.5,267.6 L274.7,268.3 L273.9,266.0 L273.1,265.4 L272.3,265.6 L271.5,265.7 L270.7,268.7 L269.9,269.3 L269.1,268.2 L268.3,268.1 L267.5,268.2 L266.7,268.5 L265.9,268.9 L265.1,268.3 L264.3,268.2 L263.5,268.5 L262.7,268.1 L261.9,268.6 L261.1,268.3 L260.3,268.6 L259.5,268.4 L258.7,268.5 L257.9,268.0 L257.1,268.0 L256.3,267.1 L255.5,268.5 L254.7,266.0 L253.9,265.5 L253.1,265.8 L252.3,266.5 L251.5,265.4 L250.7,267.5 L249.9,266.7 L249.1,266.4 L248.3,266.8 L247.5,268.6 L246.7,268.5 L245.9,268.5 L245.1,268.7 L244.3,268.0 L243.5,268.2 L242.7,264.8 L241.9,264.6 L241.1,265.2 L240.3,264.8 L239.5,268.0 L238.7,268.2 L237.9,268.6 L237.1,269.0 L236.3,267.9 L235.5,268.2 L234.7,268.1 L233.9,268.5 L233.1,267.1 L232.3,267.8 L231.5,268.4 L230.7,268.4 L229.9,268.4 L229.1,268.4 L228.3,268.2 L227.5,268.5 L226.7,269.2 L225.9,267.4 L225.1,266.7 L224.3,266.9 L223.5,269.0 L222.7,268.2 L221.9,267.9 L221.1,267.8 L220.3,268.3 L219.5,268.4 L218.7,268.7 L217.9,268.6 L217.1,268.0 L216.3,268.5 L215.5,268.8 L214.7,268.6 L213.9,268.0 L213.1,268.6 L212.3,268.6 L211.5,268.2 L210.7,268.5 L209.9,269.1 L209.1,268.4 L208.3,268.1 L207.5,268.3 L206.7,268.0 L205.9,268.3 L205.1,267.5 L204.3,268.2 L203.5,267.7 L202.7,268.0 L201.9,268.2 L201.1,267.7 L200.3,268.3 L199.5,268.1 L198.7,268.5 L197.9,268.3 L197.1,267.9 L196.3,268.7 L195.5,268.1 L194.7,268.8 L193.9,268.6 L193.1,268.5 L192.3,268.4 L191.5,268.2 L190.7,267.9 L189.9,268.3 L189.1,268.0 L188.3,268.9 L187.5,268.2 L186.7,268.3 L185.9,268.2 L185.1,264.5 L184.3,264.4 L183.5,268.1 L182.7,268.0 L181.9,268.4 L181.1,268.6 L180.3,268.4 L179.5,267.9 L178.7,268.1 L177.9,268.7 L177.1,268.8 L176.3,268.7 L175.5,268.6 L174.7,267.9 L173.9,268.4 L173.1,267.5 L172.3,267.6 L171.5,267.6 L170.7,267.7 L169.9,268.7 L169.1,267.9 L168.3,267.9 L167.5,268.7 L166.7,268.7 L165.9,268.0 L165.1,268.8 L164.3,268.4 L163.5,268.8 L162.7,268.1 L161.9,268.3 L161.1,267.8 L160.3,267.9 L159.5,267.9 L158.7,267.9 L157.9,268.0 L157.1,267.9 L156.3,267.5 L155.5,267.5 L154.7,267.5 L153.9,267.6 L153.1,268.4 L152.3,268.4 L151.5,268.0 L150.7,268.2 L149.9,268.9 L149.1,268.7 L148.3,268.4 L147.5,268.2 L146.7,268.1 L145.9,267.7 L145.1,268.3 L144.3,268.7 L143.5,268.6 L142.7,264.9 L141.9,265.3 L141.1,264.9 L140.3,265.2 L139.5,263.9 L138.7,267.2 L137.9,267.0 L137.1,267.3 L136.3,267.8 L135.5,267.9 L134.7,268.1 L133.9,268.2 L133.1,268.4 L132.3,268.4 L131.5,268.9 L130.7,268.2 L129.9,268.8 L129.1,267.8 L128.3,268.5 L127.5,268.5 L126.7,268.6 L125.9,268.2 L125.1,268.6 L124.3,267.5 L123.5,268.2 L122.7,268.1 L121.9,268.7 L121.1,268.5 L120.3,267.9 L119.5,268.8 L118.7,268.5 L117.9,267.6 L117.1,268.4 L116.3,269.0 L115.5,268.5 L114.7,266.4 L113.9,266.6 L113.1,267.1 L112.3,266.5 L111.5,268.3 L110.7,268.5 L109.9,268.4 L109.1,267.8 L108.3,267.6 L107.5,268.4 L106.7,268.3 L105.9,268.8 L105.1,269.0 L104.3,268.6 L103.5,268.0 L102.7,268.4 L101.9,268.3 L101.1,267.7 L100.3,268.8 L99.5,269.7 L98.7,272.0 L97.9,275.2 L97.1,277.3 L96.3,279.9 L95.5,281.9 L94.7,283.5 L93.9,285.6 L93.1,287.9 L92.3,290.2 L91.5,293.7 L90.7,295.5 L89.9,295.5 L89.1,298.6 L88.3,301.0 L87.5,303.8 L86.7,305.8 L85.9,312.2 L85.1,314.2 L84.3,317.0 L83.5,321.4 L82.7,325.9 L81.9,325.2 L81.1,326.1 L80.3,325.9 L79.5,326.0 L78.7,325.4 L77.9,325.3 L77.1,325.5 L76.3,327.0 L75.5,326.9 L74.7,323.7 L73.9,323.3 L73.1,323.3 L72.3,327.1 L71.5,326.9 L70.7,326.5 L69.9,326.7 L69.1,326.2 L68.3,325.7 L67.5,325.8 L66.7,325.7 L65.9,325.5 L65.1,325.4 L64.3,321.5 L63.5,320.8 L62.7,321.2 L61.9,321.7 L61.1,325.2 L60.3,322.5 L59.5,322.3 L58.7,321.4 L57.9,322.0 L57.1,322.3 L56.3,324.6 L55.5,324.8 L54.7,324.0 L53.9,323.7 L53.1,323.5 L52.3,323.9 L51.5,324.1 L50.7,324.7 L49.9,324.0 L49.1,320.9 L48.3,321.1 L47.5,324.3 L46.7,324.3 L45.9,324.2 L45.1,321.9 L44.3,321.1 L43.5,321.2 L42.7,321.2 L41.9,320.5 L41.1,321.0 L40.3,321.0 L39.5,321.3 L38.7,324.9Z" fill="#5B9BD5"/><path d="M38.3,263.6 L38.7,324.9 L39.1,266.2 L39.5,321.3 L39.9,266.1 L40.3,321.0 L40.7,265.3 L41.1,321.0 L41.5,265.6 L41.9,320.5 L42.3,265.5 L42.7,321.2 L43.1,263.8 L43.5,321.2 L43.9,263.6 L44.3,321.1 L44.7,263.6 L45.1,321.9 L45.5,262.5 L45.9,324.2 L46.3,262.3 L46.7,324.3 L47.1,262.8 L47.5,324.3 L47.9,262.2 L48.3,321.1 L48.7,262.4 L49.1,320.9 L49.5,261.9 L49.9,324.0 L50.3,262.2 L50.7,324.7 L51.1,262.0 L51.5,324.1 L51.9,262.0 L52.3,323.9 L52.7,262.6 L53.1,323.5 L53.5,262.1 L53.9,323.7 L54.3,261.9 L54.7,324.0 L55.1,262.3 L55.5,324.8 L55.9,262.1 L56.3,324.6 L56.7,262.4 L57.1,322.3 L57.5,262.1 L57.9,322.0 L58.3,262.4 L58.7,321.4 L59.1,262.4 L59.5,322.3 L59.9,263.2 L60.3,322.5 L60.7,262.2 L61.1,325.2 L61.5,261.9 L61.9,321.7 L62.3,262.6 L62.7,321.2 L63.1,261.8 L63.5,320.8 L63.9,262.4 L64.3,321.5 L64.7,261.9 L65.1,325.4 L65.5,261.5 L65.9,325.5 L66.3,261.0 L66.7,325.7 L67.1,261.5 L67.5,325.8 L67.9,261.2 L68.3,325.7 L68.7,261.2 L69.1,326.2 L69.5,260.8 L69.9,326.7 L70.3,260.0 L70.7,326.5 L71.1,259.4 L71.5,326.9 L71.9,260.0 L72.3,327.1 L72.7,259.4 L73.1,323.3 L73.5,259.6 L73.9,323.3 L74.3,262.4 L74.7,323.7 L75.1,261.6 L75.5,326.9 L75.9,262.3 L76.3,327.0 L76.7,261.8 L77.1,325.5 L77.5,261.7 L77.9,325.3 L78.3,258.7 L78.7,325.4 L79.1,258.5 L79.5,326.0 L79.9,258.2 L80.3,325.9 L80.7,258.1 L81.1,326.1 L81.5,257.8 L81.9,325.2 L82.3,257.3 L82.7,325.9 L83.1,257.6 L83.5,321.4 L83.9,257.1 L84.3,317.0 L84.7,256.8 L85.1,314.2 L85.5,257.0 L85.9,312.2 L86.3,257.0 L86.7,305.8 L87.1,256.4 L87.5,303.8 L87.9,256.6 L88.3,301.0 L88.7,257.2 L89.1,298.6 L89.5,256.8 L89.9,295.5 L90.3,259.6 L90.7,295.5 L91.1,259.6 L91.5,293.7 L91.9,259.2 L92.3,290.2 L92.7,259.0 L93.1,287.9 L93.5,259.2 L93.9,285.6 L94.3,255.8 L94.7,283.5 L95.1,256.7 L95.5,281.9 L95.9,260.7 L96.3,279.9 L96.7,263.2 L97.1,277.3 L97.5,263.9 L97.9,275.2 L98.3,261.4 L98.7,272.0 L99.1,261.4 L99.5,269.7 L99.9,259.0 L100.3,268.8 L100.7,253.6 L101.1,267.7 L101.5,253.4 L101.9,268.3 L102.3,254.2 L102.7,268.4 L103.1,255.7 L103.5,268.0 L103.9,256.2 L104.3,268.6 L104.7,255.9 L105.1,269.0 L105.5,255.5 L105.9,268.8 L106.3,256.0 L106.7,268.3 L107.1,255.6 L107.5,268.4 L107.9,256.3 L108.3,267.6 L108.7,254.0 L109.1,267.8 L109.5,252.1 L109.9,268.4 L110.3,251.7 L110.7,268.5 L111.1,250.6 L111.5,268.3 L111.9,249.8 L112.3,266.5 L112.7,250.7 L113.1,267.1 L113.5,253.0 L113.9,266.6 L114.3,252.5 L114.7,266.4 L115.1,249.4 L115.5,268.5 L115.9,250.0 L116.3,269.0 L116.7,250.1 L117.1,268.4 L117.5,250.5 L117.9,267.6 L118.3,250.1 L118.7,268.5 L119.1,249.8 L119.5,268.8 L119.9,249.4 L120.3,267.9 L120.7,248.6 L121.1,268.5 L121.5,248.7 L121.9,268.7 L122.3,248.4 L122.7,268.1 L123.1,248.6 L123.5,268.2 L123.9,248.9 L124.3,267.5 L124.7,250.5 L125.1,268.6 L125.5,251.2 L125.9,268.2 L126.3,250.5 L126.7,268.6 L127.1,250.0 L127.5,268.5 L127.9,249.9 L128.3,268.5 L128.7,247.4 L129.1,267.8 L129.5,247.7 L129.9,268.8 L130.3,247.1 L130.7,268.2 L131.1,246.6 L131.5,268.9 L131.9,247.0 L132.3,268.4 L132.7,246.7 L133.1,268.4 L133.5,250.2 L133.9,268.2 L134.3,250.8 L134.7,268.1 L135.1,251.3 L135.5,267.9 L135.9,250.8 L136.3,267.8 L136.7,250.1 L137.1,267.3 L137.5,247.6 L137.9,267.0 L138.3,246.4 L138.7,267.2 L139.1,246.1 L139.5,263.9 L139.9,246.0 L140.3,265.2 L140.7,245.7 L141.1,264.9 L141.5,245.7 L141.9,265.3 L142.3,245.0 L142.7,264.9 L143.1,244.7 L143.5,268.6 L143.9,245.5 L144.3,268.7 L144.7,245.1 L145.1,268.3 L145.5,244.9 L145.9,267.7 L146.3,244.1 L146.7,268.1 L147.1,243.7 L147.5,268.2 L147.9,244.1 L148.3,268.4 L148.7,244.6 L149.1,268.7 L149.5,247.1 L149.9,268.9 L150.3,246.8 L150.7,268.2 L151.1,244.9 L151.5,268.0 L151.9,244.6 L152.3,268.4 L152.7,244.6 L153.1,268.4 L153.5,245.3 L153.9,267.6 L154.3,244.1 L154.7,267.5 L155.1,244.2 L155.5,267.5 L155.9,244.3 L156.3,267.5 L156.7,243.8 L157.1,267.9 L157.5,243.3 L157.9,268.0 L158.3,242.7 L158.7,267.9 L159.1,242.5 L159.5,267.9 L159.9,242.9 L160.3,267.9 L160.7,242.1 L161.1,267.8 L161.5,241.8 L161.9,268.3 L162.3,242.0 L162.7,268.1 L163.1,241.8 L163.5,268.8 L163.9,241.8 L164.3,268.4 L164.7,241.4 L165.1,268.8 L165.5,241.2 L165.9,268.0 L166.3,240.8 L166.7,268.7 L167.1,241.8 L167.5,268.7 L167.9,242.1 L168.3,267.9 L168.7,241.9 L169.1,267.9 L169.5,242.5 L169.9,268.7 L170.3,242.4 L170.7,267.7 L171.1,242.7 L171.5,267.6 L171.9,243.1 L172.3,267.6 L172.7,243.0 L173.1,267.5 L173.5,243.0 L173.9,268.4 L174.3,243.0 L174.7,267.9 L175.1,245.3 L175.5,268.6 L175.9,244.5 L176.3,268.7 L176.7,245.4 L177.1,268.8 L177.5,241.7 L177.9,268.7 L178.3,241.8 L178.7,268.1 L179.1,240.9 L179.5,267.9 L179.9,241.0 L180.3,268.4 L180.7,240.6 L181.1,268.6 L181.5,241.1 L181.9,268.4 L182.3,240.8 L182.7,268.0 L183.1,240.2 L183.5,268.1 L183.9,240.4 L184.3,264.4 L184.7,241.3 L185.1,264.5 L185.5,240.6 L185.9,268.2 L186.3,239.8 L186.7,268.3 L187.1,239.4 L187.5,268.2 L187.9,239.9 L188.3,268.9 L188.7,239.8 L189.1,268.0 L189.5,239.6 L189.9,268.3 L190.3,239.3 L190.7,267.9 L191.1,240.0 L191.5,268.2 L191.9,239.0 L192.3,268.4 L192.7,240.0 L193.1,268.5 L193.5,241.0 L193.9,268.6 L194.3,240.2 L194.7,268.8 L195.1,240.1 L195.5,268.1 L195.9,239.9 L196.3,268.7 L196.7,240.8 L197.1,267.9 L197.5,239.7 L197.9,268.3 L198.3,239.6 L198.7,268.5 L199.1,240.6 L199.5,268.1 L199.9,240.9 L200.3,268.3 L200.7,240.0 L201.1,267.7 L201.5,239.6 L201.9,268.2 L202.3,239.7 L202.7,268.0 L203.1,240.2 L203.5,267.7 L203.9,239.4 L204.3,268.2 L204.7,239.3 L205.1,267.5 L205.5,238.9 L205.9,268.3 L206.3,239.3 L206.7,268.0 L207.1,238.6 L207.5,268.3 L207.9,238.5 L208.3,268.1 L208.7,238.6 L209.1,268.4 L209.5,240.9 L209.9,269.1 L210.3,240.9 L210.7,268.5 L211.1,241.0 L211.5,268.2 L211.9,240.8 L212.3,268.6 L212.7,238.7 L213.1,268.6 L213.5,237.8 L213.9,268.0 L214.3,237.6 L214.7,268.6 L215.1,238.5 L215.5,268.8 L215.9,237.7 L216.3,268.5 L216.7,238.6 L217.1,268.0 L217.5,237.6 L217.9,268.6 L218.3,237.2 L218.7,268.7 L219.1,237.6 L219.5,268.4 L219.9,237.9 L220.3,268.3 L220.7,237.5 L221.1,267.8 L221.5,236.9 L221.9,267.9 L222.3,237.2 L222.7,268.2 L223.1,240.7 L223.5,269.0 L223.9,240.9 L224.3,266.9 L224.7,240.3 L225.1,266.7 L225.5,241.3 L225.9,267.4 L226.3,237.6 L226.7,269.2 L227.1,236.8 L227.5,268.5 L227.9,237.0 L228.3,268.2 L228.7,240.3 L229.1,268.4 L229.5,239.6 L229.9,268.4 L230.3,236.6 L230.7,268.4 L231.1,236.1 L231.5,268.4 L231.9,239.1 L232.3,267.8 L232.7,239.8 L233.1,267.1 L233.5,239.2 L233.9,268.5 L234.3,239.1 L234.7,268.1 L235.1,235.7 L235.5,268.2 L235.9,235.3 L236.3,267.9 L236.7,235.9 L237.1,269.0 L237.5,235.2 L237.9,268.6 L238.3,236.3 L238.7,268.2 L239.1,235.4 L239.5,268.0 L239.9,235.3 L240.3,264.8 L240.7,238.6 L241.1,265.2 L241.5,238.8 L241.9,264.6 L242.3,238.8 L242.7,264.8 L243.1,238.2 L243.5,268.2 L243.9,238.7 L244.3,268.0 L244.7,235.2 L245.1,268.7 L245.5,235.9 L245.9,268.5 L246.3,236.8 L246.7,268.5 L247.1,236.8 L247.5,268.6 L247.9,236.8 L248.3,266.8 L248.7,237.1 L249.1,266.4 L249.5,238.0 L249.9,266.7 L250.3,237.7 L250.7,267.5 L251.1,237.9 L251.5,265.4 L251.9,239.1 L252.3,266.5 L252.7,238.8 L253.1,265.8 L253.5,238.9 L253.9,265.5 L254.3,240.4 L254.7,266.0 L255.1,239.1 L255.5,268.5 L255.9,239.4 L256.3,267.1 L256.7,242.8 L257.1,268.0 L257.5,243.0 L257.9,268.0 L258.3,242.9 L258.7,268.5 L259.1,243.3 L259.5,268.4 L259.9,243.7 L260.3,268.6 L260.7,241.0 L261.1,268.3 L261.5,241.4 L261.9,268.6 L262.3,241.5 L262.7,268.1 L263.1,241.2 L263.5,268.5 L263.9,241.9 L264.3,268.2 L264.7,242.1 L265.1,268.3 L265.5,241.1 L265.9,268.9 L266.3,241.2 L266.7,268.5 L267.1,241.7 L267.5,268.2 L267.9,241.3 L268.3,268.1 L268.7,241.2 L269.1,268.2 L269.5,241.5 L269.9,269.3 L270.3,241.7 L270.7,268.7 L271.1,241.7 L271.5,265.7 L271.9,241.4 L272.3,265.6 L272.7,240.9 L273.1,265.4 L273.5,241.5 L273.9,266.0 L274.3,241.4 L274.7,268.3 L275.1,242.2 L275.5,267.6 L275.9,241.7 L276.3,268.2 L276.7,241.8 L277.1,268.7 L277.5,241.3 L277.9,268.5 L278.3,241.2 L278.7,268.2 L279.1,241.9 L279.5,268.9 L279.9,241.6 L280.3,268.8 L280.7,241.1 L281.1,268.3 L281.5,240.8 L281.9,268.4 L282.3,240.6 L282.7,268.5 L283.1,240.3 L283.5,268.4 L283.9,239.4 L284.3,268.4 L284.7,239.5 L285.1,268.4 L285.5,239.4 L285.9,268.9 L286.3,238.7 L286.7,268.5 L287.1,238.9 L287.5,268.3 L287.9,240.2 L288.3,268.3 L288.7,240.0 L289.1,268.9 L289.5,238.7 L289.9,266.3 L290.3,239.3 L290.7,265.9 L291.1,238.7 L291.5,268.3 L291.9,238.5 L292.3,265.2 L292.7,239.0 L293.1,265.1 L293.5,238.8 L293.9,267.8 L294.3,238.8 L294.7,268.6 L295.1,239.6 L295.5,268.0 L295.9,239.4 L296.3,268.8 L296.7,240.0 L297.1,267.9 L297.5,242.2 L297.9,268.0 L298.3,242.2 L298.7,267.5 L299.1,242.7 L299.5,268.3 L299.9,243.0 L300.3,268.7 L300.7,242.8 L301.1,267.8 L301.5,241.5 L301.9,268.2 L302.3,241.4 L302.7,267.2 L303.1,241.3 L303.5,267.5 L303.9,241.8 L304.3,268.0 L304.7,242.0 L305.1,266.7 L305.5,242.0 L305.9,268.1 L306.3,242.8 L306.7,268.2 L307.1,242.6 L307.5,267.7 L307.9,242.6 L308.3,268.7 L308.7,242.8 L309.1,268.6 L309.5,242.3 L309.9,268.8 L310.3,242.3 L310.7,268.6 L311.1,242.7 L311.5,268.2 L311.9,242.3 L312.3,267.7 L312.7,242.1 L313.1,268.1 L313.5,242.7 L313.9,268.3 L314.3,242.4 L314.7,268.1 L315.1,241.8 L315.5,266.3 L315.9,241.2 L316.3,266.5 L316.7,241.4 L317.1,268.6 L317.5,241.7 L317.9,268.9 L318.3,241.0 L318.7,268.1 L319.1,240.9 L319.5,268.1 L319.9,241.3 L320.3,267.6 L320.7,241.1 L321.1,267.5 L321.5,240.6 L321.9,267.5 L322.3,240.6 L322.7,267.9 L323.1,240.8 L323.5,267.8 L323.9,240.8 L324.3,268.3 L324.7,240.9 L325.1,268.2 L325.5,240.9 L325.9,268.7 L326.3,241.9 L326.7,268.6 L327.1,241.3 L327.5,268.4 L327.9,240.6 L328.3,268.2 L328.7,241.2 L329.1,269.0 L329.5,240.6 L329.9,268.5 L330.3,240.7 L330.7,268.1 L331.1,240.5 L331.5,268.1 L331.9,240.8 L332.3,268.0 L332.7,240.8 L333.1,267.7 L333.5,241.0 L333.9,267.2 L334.3,240.4 L334.7,267.3 L335.1,241.2 L335.5,268.0 L335.9,241.6 L336.3,268.4 L336.7,240.6 L337.1,267.9 L337.5,240.7 L337.9,267.8 L338.3,240.9 L338.7,268.1 L339.1,240.6 L339.5,267.6 L339.9,240.6 L340.3,268.2 L340.7,240.0 L341.1,268.5 L341.5,240.6 L341.9,266.6 L342.3,240.3 L342.7,266.4 L343.1,240.7 L343.5,266.4 L343.9,240.7 L344.3,266.2 L344.7,241.0 L345.1,266.4 L345.5,242.1 L345.9,268.6 L346.3,242.0 L346.7,268.5 L347.1,243.1 L347.5,269.3 L347.9,241.5 L348.3,268.2 L348.7,240.5 L349.1,267.7 L349.5,239.2 L349.9,267.8 L350.3,238.2 L350.7,268.1 L351.1,237.1 L351.5,268.1 L351.9,237.3 L352.3,267.6 L352.7,236.5 L353.1,267.4 L353.5,238.0 L353.9,267.7 L354.3,237.7 L354.7,265.2 L355.1,234.7 L355.5,265.8 L355.9,233.9 L356.3,266.1 L356.7,233.3 L357.1,266.5 L357.5,232.7 L357.9,266.1 L358.3,231.9 L358.7,268.5 L359.1,230.8 L359.5,268.0 L359.9,230.4 L360.3,268.9 L360.7,229.6 L361.1,268.3 L361.5,228.7 L361.9,268.8 L362.3,227.3 L362.7,268.4 L363.1,227.0 L363.5,268.1 L363.9,226.8 L364.3,268.8 L364.7,225.0 L365.1,268.7 L365.5,225.0 L365.9,268.3 L366.3,226.1 L366.7,269.3 L367.1,226.6 L367.5,268.6 L367.9,229.3 L368.3,268.7 L368.7,230.1 L369.1,268.3 L369.5,228.5 L369.9,268.3 L370.3,225.4 L370.7,268.4 L371.1,225.0 L371.5,268.9 L371.9,224.3 L372.3,268.2 L372.7,224.8 L373.1,268.6 L373.5,223.9 L373.9,268.9 L374.3,223.7 L374.7,268.8 L375.1,223.8 L375.5,268.3 L375.9,224.3 L376.3,268.1 L376.7,223.8 L377.1,267.8 L377.5,224.1 L377.9,268.1 L378.3,224.6 L378.7,267.7 L379.1,224.3 L379.5,268.3 L379.9,224.0 L380.3,268.4 L380.7,224.5 L381.1,265.4 L381.5,225.2 L381.9,265.1 L382.3,225.1 L382.7,266.2 L383.1,224.6 L383.5,265.8 L383.9,222.9 L384.3,266.2 L384.7,220.6 L385.1,265.9 L385.5,220.2 L385.9,266.5 L386.3,219.7 L386.7,265.8 L387.1,219.2 L387.5,265.6 L387.9,218.7 L388.3,265.7 L388.7,218.1 L389.1,264.5 L389.5,218.1 L389.9,265.0 L390.3,217.4 L390.7,264.6 L391.1,217.1 L391.5,263.8 L391.9,217.1 L392.3,263.8 L392.7,215.2 L393.1,263.0 L393.5,212.1 L393.9,263.4 L394.3,208.4 L394.7,262.8 L395.1,208.8 L395.5,262.9 L395.9,206.8 L396.3,262.0 L396.7,203.5 L397.1,261.7 L397.5,199.3 L397.9,261.5 L398.3,195.2 L398.7,260.6 L399.1,189.2 L399.5,260.5 L399.9,183.1 L400.3,258.2 L400.7,178.3 L401.1,252.9 L401.5,171.7 L401.9,243.6 L402.3,167.8 L402.7,236.0 L403.1,164.6 L403.5,229.9 L403.9,161.1 L404.3,231.1 L404.7,156.9 L405.1,229.2 L405.5,154.0 L405.9,227.4 L406.3,152.9 L406.7,224.9 L407.1,150.9 L407.5,223.0 L407.9,150.0 L408.3,220.5 L408.7,148.4 L409.1,222.1 L409.5,147.4 L409.9,219.9 L410.3,145.6 L410.7,215.6 L411.1,144.7 L411.5,211.7 L411.9,143.9 L412.3,207.7 L412.7,143.7 L413.1,209.0 L413.5,143.2 L413.9,204.6 L414.3,143.9 L414.7,203.1 L415.1,142.9 L415.5,203.5 L415.9,139.5 L416.3,202.8 L416.7,138.7 L417.1,204.7 L417.5,138.9 L417.9,203.1 L418.3,138.3 L418.7,202.7 L419.1,138.5 L419.5,201.7 L419.9,138.2 L420.3,200.6 L420.7,138.2 L421.1,202.1 L421.5,137.8 L421.9,201.0 L422.3,137.7 L422.7,200.5 L423.1,137.6 L423.5,202.2 L423.9,137.4 L424.3,203.7 L424.7,136.5 L425.1,204.5 L425.5,136.5 L425.9,205.0 L426.3,137.8 L426.7,206.4 L427.1,141.5 L427.5,208.7 L427.9,141.6 L428.3,210.0 L428.7,143.4 L429.1,210.6 L429.5,140.4 L429.9,211.3 L430.3,141.0 L430.7,211.3 L431.1,142.5 L431.5,212.0 L431.9,142.9 L432.3,212.7 L432.7,144.4 L433.1,215.3 L433.5,145.3 L433.9,216.8 L434.3,146.5 L434.7,216.7 L435.1,147.4 L435.5,218.0 L435.9,149.0 L436.3,218.2 L436.7,152.5 L437.1,217.4 L437.5,153.5 L437.9,215.4 L438.3,150.6 L438.7,214.9 L439.1,150.3 L439.5,214.5 L439.9,149.1 L440.3,212.6 L440.7,147.9 L441.1,212.1 L441.5,147.8 L441.9,211.6 L442.3,146.2 L442.7,211.9 L443.1,145.3 L443.5,210.7 L443.9,143.9 L444.3,210.7 L444.7,142.5 L445.1,208.3 L445.5,139.1 L445.9,204.1 L446.3,135.2 L446.7,201.9 L447.1,132.0 L447.5,199.4 L447.9,129.5 L448.3,195.9 L448.7,125.2 L449.1,192.7 L449.5,121.7 L449.9,190.5 L450.3,117.4 L450.7,188.2 L451.1,118.8 L451.5,184.5 L451.9,117.5 L452.3,182.6 L452.7,116.8 L453.1,182.9 L453.5,115.1 L453.9,181.8 L454.3,111.7 L454.7,181.2 L455.1,110.9 L455.5,181.1 L455.9,109.6 L456.3,181.3 L456.7,109.2 L457.1,181.1 L457.5,107.8 L457.9,181.5 L458.3,107.6 L458.7,177.9 L459.1,106.4 L459.5,174.9 L459.9,106.3 L460.3,174.9 L460.7,105.2 L461.1,174.5 L461.5,104.5 L461.9,174.3 L462.3,103.4 L462.7,174.9 L463.1,103.1 L463.5,174.4 L463.9,104.3 L464.3,175.3 L464.7,104.6 L465.1,175.9 L465.5,105.9 L465.9,177.0 L466.3,107.4 L466.7,179.9 L467.1,108.7 L467.5,182.0 L467.9,108.7 L468.3,183.0 L468.7,111.1 L469.1,183.1 L469.5,111.0 L469.9,183.4 L470.3,112.2 L470.7,183.8 L471.1,113.1 L471.5,183.9 L471.9,114.4 L472.3,183.9 L472.7,113.8 L473.1,184.3 L473.5,114.9 L473.9,184.4 L474.3,115.1 L474.7,184.8 L475.1,115.7 L475.5,183.1 L475.9,114.7 L476.3,182.2 L476.7,114.7 L477.1,180.8 L477.5,115.3 L477.9,178.1 L478.3,111.0 L478.7,174.2 L479.1,106.5 L479.5,173.9 L479.9,103.3 L480.3,169.5 L480.7,99.6 L481.1,165.5 L481.5,96.2 L481.9,163.1 L482.3,93.6 L482.7,162.2 L483.1,92.7 L483.5,160.0 L483.9,93.1 L484.3,159.5 L484.7,92.3 L485.1,159.6 L485.5,92.4 L485.9,159.2 L486.3,92.1 L486.7,159.3 L487.1,92.6 L487.5,159.9 L487.9,92.2 L488.3,159.3 L488.7,92.7 L489.1,159.3 L489.5,92.8 L489.9,159.3 L490.3,91.9 L490.7,160.1 L491.1,91.0 L491.5,159.8 L491.9,91.9 L492.3,159.8 L492.7,90.9 L493.1,159.7 L493.5,90.3 L493.9,159.3 L494.3,90.6 L494.7,158.8 L495.1,90.5 L495.5,156.3 L495.9,92.9 L496.3,153.4 L496.7,90.9 L497.1,150.6 L497.5,87.1 L497.9,148.1 L498.3,83.1 L498.7,146.8 L499.1,81.3 L499.5,146.7 L499.9,77.4 L500.3,146.2 L500.7,77.4 L501.1,144.9 L501.5,80.1 L501.9,145.2 L502.3,79.5 L502.7,145.2 L503.1,79.8 L503.5,144.9 L503.9,76.7 L504.3,144.6 L504.7,76.5 L505.1,140.8 L505.5,75.3 L505.9,141.4 L506.3,75.8 L506.7,144.8 L507.1,75.1 L507.5,143.7 L507.9,75.3 L508.3,143.9 L508.7,75.2 L509.1,144.1 L509.5,75.6 L509.9,143.4 L510.3,74.9 L510.7,143.8 L511.1,75.7 L511.5,143.9 L511.9,76.2 L512.3,145.1 L512.7,75.7 L513.1,145.4 L513.5,75.7 L513.9,144.1 L514.3,75.3 L514.7,144.5 L515.1,75.7 L515.5,146.1 L515.9,75.9 L516.3,145.4 L516.7,76.6 L517.1,141.4 L517.5,76.4 L517.9,141.2 L518.3,75.5 L518.7,140.8 L519.1,76.1 L519.5,139.2 L519.9,75.8 L520.3,138.7 L520.7,78.4 L521.1,142.2 L521.5,79.3 L521.9,142.4 L522.3,79.3 L522.7,138.8 L523.1,79.4 L523.5,138.8 L523.9,79.4 L524.3,138.5 L524.7,77.2 L525.1,142.0 L525.5,76.4 L525.9,141.8 L526.3,76.4 L526.7,141.4 L527.1,76.0 L527.5,141.7 L527.9,76.6 L528.3,142.0 L528.7,75.5 L529.1,141.1 L529.5,76.5 L529.9,140.7 L530.3,76.4 L530.7,141.2 L531.1,76.4 L531.5,141.4 L531.9,76.6 L532.3,141.1 L532.7,76.3 L533.1,141.0 L533.5,77.4 L533.9,141.4 L534.3,77.2 L534.7,141.3 L535.1,77.3 L535.5,141.5 L535.9,77.1 L536.3,138.7 L536.7,77.7 L537.1,138.7 L537.5,77.2 L537.9,138.7 L538.3,78.1 L538.7,141.9 L539.1,78.1 L539.5,142.1 L539.9,77.9 L540.3,141.9 L540.7,77.5 L541.1,142.5 L541.5,77.7 L541.9,143.3 L542.3,77.9 L542.7,144.1 L543.1,78.4 L543.5,144.6 L543.9,78.2 L544.3,145.1 L544.7,78.3 L545.1,145.4 L545.5,78.5 L545.9,145.6 L546.3,79.7 L546.7,146.3 L547.1,80.6 L547.5,146.8 L547.9,80.3 L548.3,144.3 L548.7,80.8 L549.1,144.4 L549.5,81.6 L549.9,148.4 L550.3,82.3 L550.7,147.9 L551.1,82.7 L551.5,147.8 L551.9,82.8 L552.3,147.5 L552.7,82.1 L553.1,147.5 L553.5,82.0 L553.9,146.5 L554.3,80.9 L554.7,146.9 L555.1,81.0 L555.5,146.2 L555.9,81.1 L556.3,146.5 L556.7,81.7 L557.1,145.8 L557.5,81.1 L557.9,145.6 L558.3,79.7 L558.7,145.8 L559.1,79.6 L559.5,142.6 L559.9,79.8 L560.3,143.1 L560.7,79.9 L561.1,143.4 L561.5,81.1 L561.9,143.5 L562.3,81.6 L562.7,143.4 L563.1,81.6 L563.5,145.1 L563.9,82.4 L564.3,144.6 L564.7,83.2 L565.1,144.1 L565.5,82.9 L565.9,143.4 L566.3,81.4 L566.7,145.3 L567.1,81.1 L567.5,145.2 L567.9,80.5 L568.3,145.6 L568.7,80.1 L569.1,145.1 L569.5,79.9 L569.9,144.4 L570.3,79.8 L570.7,144.4 L571.1,80.3 L571.5,144.4 L571.9,80.4 L572.3,144.4 L572.7,79.5 L573.1,144.0 L573.5,81.0 L573.9,143.9 L574.3,81.8 L574.7,143.8 L575.1,81.5 L575.5,144.0 L575.9,81.5 L576.3,143.8 L576.7,81.1 L577.1,143.2 L577.5,79.3 L577.9,143.7 L578.3,78.6 L578.7,143.7 L579.1,79.0 L579.5,143.1 L579.9,78.8 L580.3,143.6 L580.7,79.2 L581.1,144.9 L581.5,78.7 L581.9,146.1 L582.3,78.4 L582.7,146.4 L583.1,78.9 L583.5,146.2 L583.9,78.9 L584.3,145.8 L584.7,78.8 L585.1,145.9 L585.5,79.0 L585.9,146.5 L586.3,79.0 L586.7,146.7 L587.1,78.8 L587.5,145.9 L587.9,80.0 L588.3,146.3 L588.7,82.3 L589.1,146.3 L589.5,82.5 L589.9,145.7 L590.3,80.4 L590.7,145.9 L591.1,80.6 L591.5,146.4 L591.9,80.7 L592.3,146.3 L592.7,80.8 L593.1,146.7 L593.5,81.3 L593.9,145.8 L594.3,82.2 L594.7,143.2 L595.1,81.8 L595.5,143.3 L595.9,82.2 L596.3,146.2 L596.7,82.3 L597.1,147.0 L597.5,82.0 L597.9,147.3 L598.3,86.0 L598.7,147.1 L599.1,85.1 L599.5,146.9 L599.9,85.5 L600.3,147.0 L600.7,85.2 L601.1,147.6 L601.5,85.9 L601.9,147.4 L602.3,82.4 L602.7,144.1 L603.1,82.3 L603.5,144.9 L603.9,85.2 L604.3,145.4 L604.7,85.1 L605.1,149.4 L605.5,85.0 L605.9,149.6 L606.3,84.5 L606.7,149.9 L607.1,85.4 L607.5,150.7 L607.9,86.9 L608.3,150.7 L608.7,89.5 L609.1,151.0 L609.5,88.9 L609.9,151.4 L610.3,88.0 L610.7,150.8 L611.1,87.5 L611.5,149.9 L611.9,85.6 L612.3,150.2 L612.7,88.0 L613.1,149.7 L613.5,85.4 L613.9,149.3 L614.3,84.0 L614.7,148.5 L615.1,77.8 L615.5,146.2 L615.9,77.1 L616.3,143.2 L616.7,75.5 L617.1,139.6 L617.5,74.6 L617.9,138.1 L618.3,73.5 L618.7,136.3 L619.1,72.3 L619.5,136.1 L619.9,70.7 L620.3,135.2 L620.7,69.8 L621.1,130.8 L621.5,68.5 L621.9,129.4 L622.3,67.8 L622.7,129.1 L623.1,66.9 L623.5,131.6 L623.9,65.8 L624.3,130.0 L624.7,64.4 L625.1,127.1 L625.5,63.9 L625.9,126.3 L626.3,63.4 L626.7,126.1 L627.1,62.7 L627.5,126.0 L627.9,62.3 L628.3,124.7 L628.7,61.7 L629.1,127.9 L629.5,62.0 L629.9,127.8 L630.3,61.0 L630.7,127.0 L631.1,60.6 L631.5,126.4 L631.9,60.0 L632.3,125.6 L632.7,58.8 L633.1,123.9 L633.5,58.4 L633.9,123.3 L634.3,57.6 L634.7,122.0 L635.1,57.1 L635.5,121.7 L635.9,57.3 L636.3,121.4 L636.7,56.6 L637.1,120.2 L637.5,55.5 L637.9,119.5 L638.3,53.4 L638.7,118.3 L639.1,52.7 L639.5,117.9 L639.9,51.3 L640.3,117.5 L640.7,50.6 L641.1,116.5 L641.5,48.9 L641.9,112.3 L642.3,47.2 L642.7,111.0 L643.1,46.2 L643.5,109.6 L643.9,44.5 L644.3,111.2 L644.7,43.1 L645.1,107.6 L645.5,40.6 L645.9,104.1 L646.3,39.6 L646.7,101.5 L647.1,37.4 L647.5,100.6 L647.9,37.1 L648.3,101.6 L648.7,37.1 L649.1,100.3 L649.5,36.1 L649.9,100.0 L650.3,36.7 L650.7,98.8 L651.1,36.7 L651.5,97.9 L651.9,36.5 L652.3,97.1 L652.7,34.5 L653.1,96.6 L653.5,34.5 L653.9,96.4 L654.3,33.9 L654.7,97.3 L655.1,34.0 L655.5,96.7 L655.9,33.7 L656.3,96.4 L656.7,32.3 L657.1,96.9 L657.5,33.1 L657.9,96.6 L658.3,33.3 L658.7,94.9 L659.1,32.9 L659.5,94.1 L659.9,32.8 L660.3,92.7 L660.7,32.1 L661.1,92.3 L661.5,32.9 L661.9,90.9 L662.3,32.8 L662.7,90.1 L663.1,32.9 L663.5,85.7 L663.9,32.7 L664.3,85.1 L664.7,33.4 L665.1,83.7 L665.5,32.1 L665.9,81.3 L666.3,31.0 L666.7,81.3 L667.1,28.1 L667.5,84.0 L667.9,27.1 L668.3,84.4 L668.7,27.4 L669.1,84.5 L669.5,27.0 L669.9,84.4 L670.3,26.6 L670.7,85.4 L671.1,26.6 L671.5,85.2 L671.9,30.0 L672.3,85.9 L672.7,29.5 L673.1,86.1 L673.5,29.5 L673.9,86.2 L674.3,28.8 L674.7,86.2 L675.1,28.4 L675.5,85.6 L675.9,24.1 L676.3,85.6 L676.7,23.9 L677.1,85.4 L677.5,22.2 L677.9,85.1 L678.3,22.8 L678.7,84.3 L679.1,22.0 L679.5,83.8 L679.9,21.8 L680.3,83.9 L680.7,21.8 L681.1,82.6 L681.5,22.3 L681.9,85.0 L682.3,22.2 L682.7,85.0 L683.1,23.3 L683.5,87.8 L683.9,23.1 L684.3,87.0 L684.7,22.1 L685.1,85.7 L685.5,22.8 L685.9,84.6 L686.3,22.3 L686.7,84.6 L687.1,22.7 L687.5,84.3 L687.9,23.4 L688.3,83.4 L688.7,23.0 L689.1,83.0 L689.5,23.5 L689.9,83.4 L690.3,23.5 L690.7,83.7 L691.1,23.2 L691.5,83.1 L691.9,23.0 L692.3,82.6 L692.7,23.0 L693.1,82.6 L693.5,23.0 L693.9,82.7 L694.3,22.7 L694.7,82.0 L695.1,22.8 L695.5,82.5 L695.9,21.8 L696.3,83.8 L696.7,21.3 L697.1,85.7 L697.5,21.0 L697.9,85.1 L698.3,21.0 L698.7,81.3 L699.1,20.6 L699.5,80.7 L699.9,19.8 L700.3,79.5 L700.7,19.4 L701.1,78.9 L701.5,18.9 L701.9,78.2 L702.3,20.4 L702.7,81.2 L703.1,21.7 L703.5,78.7 L703.9,24.0 L704.3,78.2 L704.7,25.2 L705.1,79.4 L705.5,25.2 L705.9,82.2 L706.3,25.8 L706.7,82.9 L707.1,26.0 L707.5,82.7 L707.9,25.9 L708.3,83.0 L708.7,26.5 L709.1,83.9 L709.5,26.1 L709.9,84.5 L710.3,26.9 L710.7,84.8 L711.1,26.7 L711.5,85.3 L711.9,27.4 L712.3,86.2 L712.7,27.7 L713.1,86.3 L713.5,27.9 L713.9,86.7 L714.3,28.3 L714.7,87.7 L715.1,28.0 L715.5,87.7 L715.9,28.9 L716.3,87.9 L716.7,29.2 L717.1,88.9 L717.5,28.0 L717.9,87.1 L718.3,27.8 L718.7,87.1 L719.1,28.1 L719.5,86.5 L719.9,27.9 L720.3,86.0 L720.7,27.7 L721.1,86.9 L721.5,27.9 L721.9,84.6 L722.3,27.4 L722.7,84.1 L723.1,27.5 L723.5,83.9 L723.9,26.7 L724.3,84.0 L724.7,26.3 L725.1,83.8 L725.5,26.8 L725.9,81.7 L726.3,26.9 L726.7,82.3 L727.1,25.5 L727.5,82.1 L727.9,28.3 L728.3,85.5 L728.7,29.6 L729.1,87.5 L729.5,31.5 L729.9,89.1 L730.3,29.6 L730.7,91.2 L731.1,30.7 L731.5,92.7 L731.9,32.9 L732.3,94.9 L732.7,35.2 L733.1,96.3 L733.5,37.8 L733.9,98.6 L734.3,38.7 L734.7,99.9 L735.1,40.9 L735.5,101.4 L735.9,42.5 L736.3,104.0 L736.7,43.8 L737.1,105.6 L737.5,44.9 L737.9,105.9 L738.3,45.8 L738.7,106.6 L739.1,47.2 L739.5,107.2 L739.9,47.5 L740.3,107.3 L740.7,48.6 L741.1,107.4 L741.5,49.1 L741.9,108.2 L742.3,53.5 L742.7,110.2 L743.1,54.0 L743.5,111.9 L743.9,54.7 L744.3,110.4 L744.7,48.6 L745.1,109.5 L745.5,47.6 L745.9,107.7 L746.3,46.6 L746.7,106.2 L747.1,45.0 L747.5,104.8 L747.9,44.5 L748.3,104.8 L748.7,45.2 L749.1,105.0 L749.5,45.9 L749.9,105.9 L750.3,46.4 L750.7,105.1 L751.1,47.2 L751.5,105.7 L751.9,47.6 L752.3,106.0 L752.7,48.8 L753.1,105.7 L753.5,48.9 L753.9,106.9 L754.3,49.1 L754.7,107.5 L755.1,48.9 L755.5,107.7 L755.9,51.5 L756.3,108.7 L756.7,51.2 L757.1,108.8 L757.5,51.1 L757.9,108.0 L758.3,51.5 L758.7,108.4 L759.1,51.7 L759.5,107.7 L759.9,52.2 L760.3,105.2 L760.7,52.9 L761.1,105.7 L761.5,52.7 L761.9,106.1 L762.3,50.7 L762.7,108.6 L763.1,50.7 L763.5,107.9 L763.9,51.0 L764.3,108.2 L764.7,51.1 L765.1,108.5 L765.5,51.6 L765.9,107.5 L766.3,52.2 L766.7,107.0 L767.1,52.3 L767.5,107.4 L767.9,52.8 L768.3,108.3 L768.7,53.0 L769.1,108.4 L769.5,53.7 L769.9,109.0 L770.3,52.9 L770.7,108.9 L771.1,53.4 L771.5,106.3 L771.9,53.4 L772.3,106.1 L772.7,53.3 L773.1,108.6 L773.5,52.6 L773.9,108.2 L774.3,53.3 L774.7,107.8 L775.1,52.1 L775.5,107.0 L775.9,52.7 L776.3,107.0 L776.7,52.2 L777.1,107.2 L777.5,52.1 L777.9,107.0 L778.3,51.8 L778.7,106.2 L779.1,51.5 L779.5,106.4 L779.9,51.4 L780.3,102.2 L780.7,51.6 L781.1,103.4 L781.5,51.8 L781.9,102.0 L782.3,50.6 L782.7,102.3 L783.1,51.1 L783.5,103.1 L783.9,50.9 L784.3,106.9 L784.7,50.6 L785.1,107.0 L785.5,50.3 L785.9,106.7 L786.3,50.3 L786.7,107.4 L787.1,50.0 L787.5,107.3 L787.9,49.6 L788.3,107.6 L788.7,49.1 L789.1,104.8 L789.5,48.9 L789.9,102.5 L790.3,48.3 L790.7,102.4 L791.1,48.6 L791.5,102.9 L791.9,49.3 L792.3,102.5 L792.7,48.4 L793.1,103.4 L793.5,49.4 L793.9,103.7 L794.3,49.9 L794.7,103.0 L795.1,49.1 L795.5,103.1 L795.9,50.9 L796.3,102.7 L796.7,51.5 L797.1,102.7 L797.5,52.3 L797.9,103.1 L798.3,52.1 L798.7,102.6 L799.1,50.5 L799.5,103.7 L799.9,50.4 L800.3,104.1 L800.7,49.5 L801.1,104.6 L801.5,48.6 L801.9,104.4 L802.3,48.3 L802.7,104.4 L803.1,48.0 L803.5,104.1 L803.9,47.8 L804.3,104.2 L804.7,47.1 L805.1,103.7 L805.5,47.0 L805.9,103.7 L806.3,49.1 L806.7,103.6 L807.1,48.3 L807.5,103.3 L807.9,45.0 L808.3,102.1 L808.7,44.9 L809.1,100.2 L809.5,47.0 L809.9,97.1 L810.3,47.3 L810.7,96.7 L811.1,47.1 L811.5,96.8 L811.9,46.3 L812.3,96.7 L812.7,46.8 L813.1,96.8 L813.5,45.3 L813.9,99.1 L814.3,47.0 L814.7,99.3 L815.1,48.8 L815.5,102.1 L815.9,50.5 L816.3,106.2 L816.7,52.5 L817.1,108.5 L817.5,55.5 L817.9,111.5 L818.3,57.5 L818.7,115.2 L819.1,60.2 L819.5,118.4 L819.9,60.7 L820.3,121.7 L820.7,63.7 L821.1,124.5 L821.5,65.5 L821.9,126.5 L822.3,66.7 L822.7,126.8 L823.1,70.1 L823.5,126.6 L823.9,71.7 L824.3,126.7 L824.7,73.7 L825.1,120.4 L825.5,75.2 L825.9,115.4 L826.3,75.8 L826.7,117.5 L827.1,73.8 L827.5,126.5 L827.9,74.5 L828.3,128.3 L828.7,74.7 L829.1,129.9 L829.5,75.5 L829.9,131.5 L830.3,76.1 L830.7,138.1 L831.1,82.2 L831.5,151.8 L831.9,82.4 L832.3,161.8" fill="none" stroke="#5B9BD5" stroke-width="3" stroke-linejoin="round" stroke-linecap="round"/>
<path d="M829,74 L832.3,77.8 L833.5,81 L834.3,85 L834.3,126 L829,126Z" fill="#5B9BD5"/>
<path d="M830.8,140 L831.1,148 L832.0,163.3 L832.3,188 L832.6,190.5 L833.4,191.8 L834.6,191.8 L835.4,190.5 L835.7,187 L836.4,175 L837.7,163.3 L839.8,157.6 L842.2,153 L844.2,150.3 L844.2,140Z" fill="#5B9BD5"/>
<path d="M837.4,122 L837.5,118 L838.6,112 L840,107 L841.3,104.4 L842.4,104.2 L843.3,105 L844.2,105.6 L844.2,122Z" fill="#5B9BD5"/>
<line x1="48.3" y1="251.0" x2="48.3" y2="262.0" stroke="#5B9BD5" stroke-width="3" stroke-linecap="round"/>
<line x1="130.4" y1="232.2" x2="130.4" y2="250.0" stroke="#5B9BD5" stroke-width="3" stroke-linecap="round"/>
<line x1="664.5" y1="90.0" x2="664.5" y2="105.8" stroke="#5B9BD5" stroke-width="3" stroke-linecap="round"/>
<path d="M38.3,293.0 L39.1,293.8 L39.9,293.4 L40.7,294.0 L41.5,293.0 L42.3,293.1 L43.1,293.9 L43.9,293.9 L44.7,293.9 L45.5,293.9 L46.3,293.4 L47.1,293.7 L47.9,293.9 L48.7,294.5 L49.5,294.0 L50.3,293.4 L51.1,296.6 L51.9,297.1 L52.7,297.1 L53.5,296.1 L54.3,293.3 L55.1,293.1 L55.9,293.5 L56.7,294.0 L57.5,293.6 L58.3,294.0 L59.1,293.5 L59.9,293.7 L60.7,293.9 L61.5,293.3 L62.3,293.7 L63.1,293.3 L63.9,292.9 L64.7,293.6 L65.5,293.9 L66.3,293.5 L67.1,293.2 L67.9,293.1 L68.7,293.8 L69.5,293.4 L70.3,293.3 L71.1,293.0 L71.9,293.8 L72.7,293.9 L73.5,293.6 L74.3,293.8 L75.1,293.8 L75.9,293.7 L76.7,294.8 L77.5,294.6 L78.3,293.8 L79.1,293.7 L79.9,293.9 L80.7,293.7 L81.5,294.2 L82.3,294.4 L83.1,294.5 L83.9,293.7 L84.7,293.8 L85.5,293.4 L86.3,292.8 L87.1,293.5 L87.9,294.1 L88.7,296.2 L89.5,295.9 L90.3,296.1 L91.1,293.0 L91.9,293.1 L92.7,294.2 L93.5,293.7 L94.3,295.7 L95.1,295.9 L95.9,295.8 L96.7,296.7 L97.5,296.5 L98.3,296.4 L99.1,297.8 L99.9,296.7 L100.7,294.0 L101.5,293.6 L102.3,293.4 L103.1,293.7 L103.9,293.7 L104.7,293.6 L105.5,293.9 L106.3,293.5 L107.1,293.1 L107.9,293.7 L108.7,297.4 L109.5,296.4 L110.3,296.5 L111.1,296.3 L111.9,296.8 L112.7,294.0 L113.5,293.8 L114.3,294.2 L115.1,294.0 L115.9,294.0 L116.7,293.0 L117.5,293.3 L118.3,293.1 L119.1,293.6 L119.9,294.6 L120.7,294.0 L121.5,294.3 L122.3,294.8 L123.1,294.7 L123.9,294.6 L124.7,293.8 L125.5,294.1 L126.3,294.6 L127.1,294.6 L127.9,294.1 L128.7,293.9 L129.5,294.1 L130.3,294.7 L131.1,294.4 L131.9,293.7 L132.7,294.4 L133.5,294.2 L134.3,294.2 L135.1,294.0 L135.9,293.9 L136.7,293.2 L137.5,296.1 L138.3,296.7 L139.1,296.6 L139.9,296.7 L140.7,293.6 L141.5,293.9 L142.3,293.7 L143.1,293.7 L143.9,293.9 L144.7,293.4 L145.5,293.6 L146.3,292.9 L147.1,293.8 L147.9,293.5 L148.7,293.8 L149.5,294.0 L150.3,294.4 L151.1,294.2 L151.9,296.3 L152.7,296.8 L153.5,296.5 L154.3,296.5 L155.1,293.7 L155.9,293.3 L156.7,296.2 L157.5,296.6 L158.3,296.5 L159.1,294.0 L159.9,293.8 L160.7,293.6 L161.5,293.4 L162.3,293.8 L163.1,293.6 L163.9,293.9 L164.7,293.6 L165.5,294.6 L166.3,293.4 L167.1,293.3 L167.9,293.5 L168.7,292.9 L169.5,293.6 L170.3,293.6 L171.1,293.6 L171.9,293.2 L172.7,294.3 L173.5,294.3 L174.3,294.0 L175.1,293.3 L175.9,293.5 L176.7,293.4 L177.5,292.9 L178.3,293.3 L179.1,293.0 L179.9,293.8 L180.7,296.3 L181.5,296.7 L182.3,297.0 L183.1,297.2 L183.9,297.1 L184.7,293.3 L185.5,293.7 L186.3,296.0 L187.1,296.3 L187.9,296.6 L188.7,296.8 L189.5,293.9 L190.3,293.7 L191.1,294.6 L191.9,293.3 L192.7,294.3 L193.5,293.8 L194.3,293.9 L195.1,293.5 L195.9,293.9 L196.7,293.7 L197.5,293.9 L198.3,293.4 L199.1,293.4 L199.9,293.4 L200.7,293.4 L201.5,293.7 L202.3,293.5 L203.1,293.7 L203.9,293.4 L204.7,293.5 L205.5,293.7 L206.3,293.5 L207.1,293.4 L207.9,295.1 L208.7,295.5 L209.5,295.0 L210.3,295.2 L211.1,296.4 L211.9,296.2 L212.7,297.0 L213.5,294.0 L214.3,293.7 L215.1,293.0 L215.9,293.0 L216.7,296.2 L217.5,295.6 L218.3,295.6 L219.1,295.4 L219.9,293.5 L220.7,293.5 L221.5,293.5 L222.3,293.5 L223.1,293.2 L223.9,293.4 L224.7,293.8 L225.5,293.5 L226.3,293.5 L227.1,294.0 L227.9,296.5 L228.7,297.0 L229.5,297.1 L230.3,297.1 L231.1,296.8 L231.9,294.4 L232.7,294.7 L233.5,293.5 L234.3,293.3 L235.1,293.6 L235.9,293.8 L236.7,293.9 L237.5,294.0 L238.3,293.9 L239.1,293.6 L239.9,293.5 L240.7,293.9 L241.5,293.9 L242.3,294.2 L243.1,295.3 L243.9,295.3 L244.7,294.8 L245.5,294.6 L246.3,294.2 L247.1,293.5 L247.9,293.1 L248.7,293.7 L249.5,293.5 L250.3,294.0 L251.1,293.7 L251.9,296.8 L252.7,296.6 L253.5,296.8 L254.3,293.5 L255.1,293.8 L255.9,293.3 L256.7,296.0 L257.5,296.0 L258.3,295.6 L259.1,294.1 L259.9,294.3 L260.7,294.3 L261.5,292.9 L262.3,293.9 L263.1,293.7 L263.9,294.2 L264.7,293.4 L265.5,293.9 L266.3,293.8 L267.1,294.0 L267.9,293.8 L268.7,293.8 L269.5,293.1 L270.3,293.5 L271.1,293.5 L271.9,293.7 L272.7,293.6 L273.5,293.7 L274.3,293.6 L275.1,293.2 L275.9,293.3 L276.7,293.6 L277.5,293.6 L278.3,293.4 L279.1,293.5 L279.9,293.2 L280.7,293.1 L281.5,293.2 L282.3,293.3 L283.1,294.2 L283.9,293.8 L284.7,293.5 L285.5,294.1 L286.3,293.7 L287.1,293.7 L287.9,294.3 L288.7,293.5 L289.5,294.0 L290.3,294.1 L291.1,294.3 L291.9,293.9 L292.7,294.2 L293.5,298.4 L294.3,297.7 L295.1,297.9 L295.9,298.1 L296.7,295.0 L297.5,293.9 L298.3,293.9 L299.1,293.8 L299.9,293.7 L300.7,293.6 L301.5,293.2 L302.3,293.5 L303.1,293.7 L303.9,294.4 L304.7,293.2 L305.5,293.6 L306.3,293.5 L307.1,293.8 L307.9,293.7 L308.7,292.9 L309.5,293.7 L310.3,293.7 L311.1,293.5 L311.9,293.8 L312.7,293.3 L313.5,293.1 L314.3,293.4 L315.1,293.3 L315.9,293.3 L316.7,293.6 L317.5,293.2 L318.3,293.7 L319.1,293.8 L319.9,294.7 L320.7,294.3 L321.5,293.7 L322.3,293.1 L323.1,293.6 L323.9,293.9 L324.7,293.8 L325.5,293.7 L326.3,293.2 L327.1,293.6 L327.9,293.6 L328.7,293.9 L329.5,293.3 L330.3,293.0 L331.1,293.5 L331.9,293.1 L332.7,293.2 L333.5,293.8 L334.3,293.7 L335.1,294.1 L335.9,293.9 L336.7,293.1 L337.5,293.1 L338.3,294.1 L339.1,293.8 L339.9,293.9 L340.7,296.1 L341.5,296.7 L342.3,297.1 L343.1,296.7 L343.9,294.1 L344.7,293.9 L345.5,294.9 L346.3,293.7 L347.1,294.2 L347.9,294.0 L348.7,294.0 L349.5,294.6 L350.3,294.2 L351.1,293.8 L351.9,293.9 L352.7,294.5 L353.5,293.6 L354.3,293.9 L355.1,294.0 L355.9,295.5 L356.7,295.0 L357.5,293.4 L358.3,293.9 L359.1,292.8 L359.9,293.5 L360.7,294.1 L361.5,293.3 L362.3,293.7 L363.1,295.8 L363.9,296.7 L364.7,296.7 L365.5,296.3 L366.3,295.8 L367.1,293.8 L367.9,293.0 L368.7,293.3 L369.5,294.2 L370.3,294.3 L371.1,293.9 L371.9,292.9 L372.7,293.0 L373.5,293.2 L374.3,293.3 L375.1,293.4 L375.9,293.9 L376.7,293.2 L377.5,294.1 L378.3,293.6 L379.1,293.6 L379.9,293.3 L380.7,293.6 L381.5,293.1 L382.3,295.5 L383.1,295.9 L383.9,296.3 L384.7,294.0 L385.5,293.0 L386.3,293.8 L387.1,293.2 L387.9,293.5 L388.7,294.2 L389.5,293.8 L390.3,298.0 L391.1,298.3 L391.9,298.2 L392.7,294.3 L393.5,294.2 L394.3,294.6 L395.1,293.5 L395.9,293.6 L396.7,293.7 L397.5,293.7 L398.3,295.4 L399.1,295.6 L399.9,294.1 L400.7,293.2 L401.5,292.5 L402.3,291.8 L403.1,291.5 L403.9,291.3 L404.7,290.3 L405.5,289.5 L406.3,288.9 L407.1,290.6 L407.9,290.0 L408.7,287.8 L409.5,287.3 L410.3,286.4 L411.1,285.9 L411.9,284.8 L412.7,285.0 L413.5,284.3 L414.3,283.5 L415.1,283.5 L415.9,282.8 L416.7,281.6 L417.5,281.4 L418.3,281.0 L419.1,280.5 L419.9,279.7 L420.7,280.2 L421.5,279.5 L422.3,279.6 L423.1,279.2 L423.9,279.0 L424.7,279.1 L425.5,279.2 L426.3,279.0 L427.1,279.2 L427.9,278.5 L428.7,279.3 L429.5,281.6 L430.3,280.8 L431.1,279.0 L431.9,279.2 L432.7,278.3 L433.5,279.1 L434.3,279.1 L435.1,279.0 L435.9,278.7 L436.7,278.7 L437.5,278.2 L438.3,278.0 L439.1,278.2 L439.9,278.1 L440.7,278.1 L441.5,277.8 L442.3,278.1 L443.1,278.2 L443.9,278.5 L444.7,276.9 L445.5,277.5 L446.3,277.7 L447.1,278.1 L447.9,278.5 L448.7,277.7 L449.5,280.8 L450.3,280.3 L451.1,280.2 L451.9,277.3 L452.7,277.2 L453.5,277.8 L454.3,277.8 L455.1,277.2 L455.9,277.0 L456.7,280.1 L457.5,280.5 L458.3,280.5 L459.1,280.2 L459.9,276.1 L460.7,275.8 L461.5,275.6 L462.3,275.7 L463.1,276.1 L463.9,277.0 L464.7,276.8 L465.5,277.3 L466.3,276.0 L467.1,276.3 L467.9,275.8 L468.7,276.0 L469.5,279.4 L470.3,278.8 L471.1,278.8 L471.9,278.0 L472.7,273.8 L473.5,273.7 L474.3,273.6 L475.1,273.1 L475.9,273.2 L476.7,273.6 L477.5,274.7 L478.3,275.2 L479.1,276.2 L479.9,277.5 L480.7,278.6 L481.5,278.2 L482.3,278.1 L483.1,280.1 L483.9,281.1 L484.7,281.6 L485.5,283.3 L486.3,283.5 L487.1,284.2 L487.9,283.8 L488.7,284.0 L489.5,283.6 L490.3,281.7 L491.1,282.1 L491.9,282.1 L492.7,283.0 L493.5,282.6 L494.3,282.4 L495.1,281.4 L495.9,281.5 L496.7,285.0 L497.5,285.3 L498.3,285.0 L499.1,280.6 L499.9,281.1 L500.7,280.7 L501.5,280.9 L502.3,280.6 L503.1,280.4 L503.9,280.8 L504.7,280.3 L505.5,280.3 L506.3,280.5 L507.1,280.7 L507.9,281.2 L508.7,281.6 L509.5,281.8 L510.3,283.2 L511.1,283.5 L511.9,284.1 L512.7,282.0 L513.5,282.6 L514.3,282.4 L515.1,282.7 L515.9,281.7 L516.7,281.7 L517.5,281.4 L518.3,280.4 L519.1,279.8 L519.9,279.2 L520.7,278.6 L521.5,280.6 L522.3,279.5 L523.1,277.2 L523.9,278.8 L524.7,278.3 L525.5,278.1 L526.3,276.0 L527.1,275.7 L527.9,275.5 L528.7,275.2 L529.5,274.5 L530.3,274.0 L531.1,276.6 L531.9,275.8 L532.7,275.3 L533.5,275.8 L534.3,275.8 L535.1,276.6 L535.9,276.2 L536.7,276.0 L537.5,276.1 L538.3,274.9 L539.1,274.8 L539.9,274.8 L540.7,274.4 L541.5,273.4 L542.3,271.1 L543.1,270.7 L543.9,270.2 L544.7,269.8 L545.5,269.1 L546.3,268.8 L547.1,267.9 L547.9,268.2 L548.7,268.4 L549.5,268.4 L550.3,267.9 L551.1,267.3 L551.9,267.4 L552.7,266.9 L553.5,267.7 L554.3,267.8 L555.1,267.1 L555.9,266.7 L556.7,267.5 L557.5,267.4 L558.3,266.7 L559.1,266.3 L559.9,268.0 L560.7,268.0 L561.5,265.8 L562.3,266.0 L563.1,266.9 L563.9,267.6 L564.7,267.2 L565.5,266.7 L566.3,266.7 L567.1,266.5 L567.9,266.5 L568.7,265.9 L569.5,265.8 L570.3,265.9 L571.1,266.0 L571.9,266.3 L572.7,266.0 L573.5,268.4 L574.3,268.0 L575.1,268.5 L575.9,266.1 L576.7,265.2 L577.5,265.7 L578.3,265.3 L579.1,265.8 L579.9,265.4 L580.7,265.4 L581.5,265.2 L582.3,264.8 L583.1,265.4 L583.9,264.8 L584.7,265.0 L585.5,265.3 L586.3,265.2 L587.1,265.0 L587.9,264.9 L588.7,265.2 L589.5,265.6 L590.3,264.6 L591.1,265.0 L591.9,264.6 L592.7,264.2 L593.5,264.1 L594.3,263.7 L595.1,264.1 L595.9,263.4 L596.7,263.3 L597.5,263.0 L598.3,261.9 L599.1,260.7 L599.9,259.7 L600.7,259.2 L601.5,258.3 L602.3,256.5 L603.1,256.1 L603.9,254.8 L604.7,256.0 L605.5,253.9 L606.3,250.9 L607.1,248.6 L607.9,247.4 L608.7,247.2 L609.5,248.2 L610.3,247.3 L611.1,246.3 L611.9,244.5 L612.7,243.4 L613.5,240.9 L614.3,239.0 L615.1,237.6 L615.9,238.0 L616.7,236.7 L617.5,235.2 L618.3,233.8 L619.1,231.4 L619.9,228.9 L620.7,228.2 L621.5,226.1 L622.3,224.7 L623.1,221.0 L623.9,218.3 L624.7,219.3 L625.5,219.3 L626.3,219.7 L627.1,219.5 L627.9,219.4 L628.7,217.0 L629.5,221.4 L630.3,221.2 L631.1,221.6 L631.9,221.1 L632.7,218.8 L633.5,218.2 L634.3,218.0 L635.1,221.3 L635.9,220.6 L636.7,220.6 L637.5,217.0 L638.3,217.7 L639.1,217.0 L639.9,217.0 L640.7,217.2 L641.5,220.2 L642.3,223.2 L643.1,227.9 L643.9,232.4 L644.7,240.0 L645.5,245.2 L646.3,249.8 L647.1,250.7 L647.9,250.6 L648.7,251.1 L649.5,252.4 L650.3,255.1 L651.1,255.9 L651.9,257.1 L652.7,258.5 L653.5,260.0 L654.3,259.6 L655.1,260.2 L655.9,265.1 L656.7,266.7 L657.5,264.7 L658.3,265.3 L659.1,265.4 L659.9,266.0 L660.7,267.5 L661.5,267.6 L662.3,270.2 L663.1,271.3 L663.9,273.0 L664.7,274.3 L665.5,274.6 L666.3,275.6 L667.1,276.3 L667.9,276.1 L668.7,276.9 L669.5,277.1 L670.3,277.4 L671.1,278.3 L671.9,278.7 L672.7,278.3 L673.5,278.7 L674.3,278.9 L675.1,279.4 L675.9,279.3 L676.7,279.4 L677.5,279.4 L678.3,279.7 L679.1,280.0 L679.9,279.3 L680.7,280.3 L681.5,280.3 L682.3,280.5 L683.1,280.8 L683.9,282.0 L684.7,281.2 L685.5,281.7 L686.3,281.6 L687.1,281.6 L687.9,285.3 L688.7,285.7 L689.5,285.3 L690.3,285.6 L691.1,282.8 L691.9,283.0 L692.7,282.8 L693.5,283.6 L694.3,283.9 L695.1,283.9 L695.9,284.4 L696.7,284.8 L697.5,285.0 L698.3,285.5 L699.1,286.1 L699.9,286.9 L700.7,286.5 L701.5,287.9 L702.3,288.1 L703.1,288.5 L703.9,288.2 L704.7,288.7 L705.5,288.9 L706.3,289.2 L707.1,288.8 L707.9,290.1 L708.7,289.9 L709.5,290.0 L710.3,289.8 L711.1,290.3 L711.9,291.1 L712.7,292.0 L713.5,291.8 L714.3,292.0 L715.1,292.8 L715.9,292.1 L716.7,291.9 L717.5,292.8 L718.3,297.4 L719.1,295.9 L719.9,295.5 L720.7,295.8 L721.5,290.9 L722.3,291.6 L723.1,292.2 L723.9,291.5 L724.7,291.1 L725.5,291.0 L726.3,291.0 L727.1,291.7 L727.9,290.8 L728.7,295.8 L729.5,295.4 L730.3,294.9 L731.1,290.2 L731.9,289.9 L732.7,291.3 L733.5,290.9 L734.3,291.3 L735.1,290.8 L735.9,291.3 L736.7,291.3 L737.5,291.5 L738.3,290.9 L739.1,291.1 L739.9,291.8 L740.7,292.2 L741.5,292.7 L742.3,293.0 L743.1,296.8 L743.9,297.0 L744.7,292.9 L745.5,290.5 L746.3,287.7 L747.1,283.8 L747.9,279.7 L748.7,276.5 L749.5,274.3 L750.3,273.4 L751.1,275.9 L751.9,278.1 L752.7,280.1 L753.5,281.2 L754.3,281.0 L755.1,281.9 L755.9,282.3 L756.7,283.8 L757.5,284.8 L758.3,284.3 L759.1,284.9 L759.9,285.6 L760.7,285.8 L761.5,285.4 L762.3,286.2 L763.1,287.1 L763.9,287.0 L764.7,287.0 L765.5,288.4 L766.3,292.4 L767.1,291.2 L767.9,290.3 L768.7,284.9 L769.5,281.7 L770.3,278.4 L771.1,276.5 L771.9,274.1 L772.7,271.4 L773.5,267.9 L774.3,264.7 L775.1,260.3 L775.9,258.1 L776.7,255.1 L777.5,252.2 L778.3,249.5 L779.1,247.1 L779.9,246.3 L780.7,243.1 L781.5,240.7 L782.3,238.2 L783.1,236.5 L783.9,234.8 L784.7,232.0 L785.5,228.7 L786.3,225.3 L787.1,222.1 L787.9,219.8 L788.7,218.6 L789.5,217.7 L790.3,216.2 L791.1,215.8 L791.9,216.9 L792.7,216.0 L793.5,214.5 L794.3,212.9 L795.1,208.9 L795.9,207.5 L796.7,205.8 L797.5,204.9 L798.3,203.9 L799.1,202.0 L799.9,201.4 L800.7,200.6 L801.5,199.9 L802.3,199.1 L803.1,198.4 L803.9,198.9 L804.7,198.4 L805.5,199.9 L806.3,202.7 L807.1,203.1 L807.9,201.8 L808.7,204.1 L809.5,204.8 L810.3,205.2 L811.1,207.2 L811.9,207.7 L812.7,207.3 L813.5,207.1 L814.3,206.2 L815.1,207.8 L815.9,210.1 L816.7,212.0 L817.5,212.8 L818.3,213.3 L819.1,213.7 L819.9,213.0 L820.7,215.0 L821.5,216.4 L822.3,216.9 L823.1,216.5 L823.9,216.5 L824.7,216.3 L825.5,217.9 L826.3,219.9 L827.1,222.4 L827.9,222.2 L828.7,222.5 L829.5,223.0 L830.3,223.1 L831.1,224.5 L831.9,224.6 L832.7,225.4 L833.5,226.7 L834.3,227.5 L835.1,228.0 L835.9,227.9 L836.7,229.2 L837.5,228.5 L838.3,228.4 L839.1,231.6 L839.9,231.9 L840.7,232.4 L841.5,232.1 L842.3,232.5 L842.7,257.9 L841.9,258.2 L841.1,255.7 L840.3,254.3 L839.5,253.8 L838.7,252.7 L837.9,251.9 L837.1,247.8 L836.3,247.2 L835.5,246.3 L834.7,249.4 L833.9,248.8 L833.1,247.8 L832.3,247.5 L831.5,247.1 L830.7,248.6 L829.9,249.1 L829.1,251.5 L828.3,246.6 L827.5,245.0 L826.7,244.0 L825.9,246.8 L825.1,247.8 L824.3,252.9 L823.5,253.5 L822.7,253.2 L821.9,254.4 L821.1,255.0 L820.3,251.8 L819.5,249.9 L818.7,248.5 L817.9,249.1 L817.1,248.8 L816.3,244.2 L815.5,242.6 L814.7,242.7 L813.9,245.2 L813.1,245.4 L812.3,245.0 L811.5,242.6 L810.7,242.2 L809.9,241.1 L809.1,244.3 L808.3,244.1 L807.5,243.1 L806.7,240.4 L805.9,239.6 L805.1,239.7 L804.3,238.9 L803.5,239.2 L802.7,237.7 L801.9,238.0 L801.1,238.0 L800.3,239.5 L799.5,240.4 L798.7,241.4 L797.9,242.0 L797.1,243.5 L796.3,245.0 L795.5,245.5 L794.7,247.3 L793.9,249.3 L793.1,250.4 L792.3,251.6 L791.5,252.8 L790.7,253.8 L789.9,255.2 L789.1,257.8 L788.3,260.0 L787.5,262.2 L786.7,264.3 L785.9,266.3 L785.1,268.3 L784.3,270.7 L783.5,272.5 L782.7,273.0 L781.9,275.8 L781.1,279.0 L780.3,282.4 L779.5,285.5 L778.7,288.1 L777.9,291.3 L777.1,294.7 L776.3,299.9 L775.5,305.3 L774.7,310.3 L773.9,313.2 L773.1,315.5 L772.3,320.0 L771.5,321.8 L770.7,324.4 L769.9,326.3 L769.1,328.3 L768.3,326.3 L767.5,328.9 L766.7,335.4 L765.9,335.2 L765.1,333.8 L764.3,331.2 L763.5,329.7 L762.7,328.6 L761.9,326.1 L761.1,328.3 L760.3,328.9 L759.5,329.3 L758.7,326.3 L757.9,324.2 L757.1,323.2 L756.3,322.3 L755.5,320.7 L754.7,315.9 L753.9,314.7 L753.1,315.2 L752.3,315.3 L751.5,313.6 L750.7,317.6 L749.9,317.0 L749.1,319.5 L748.3,321.3 L747.5,326.4 L746.7,333.1 L745.9,333.5 L745.1,333.3 L744.3,334.1 L743.5,334.8 L742.7,334.2 L741.9,334.3 L741.1,332.6 L740.3,333.0 L739.5,333.3 L738.7,333.8 L737.9,333.5 L737.1,336.8 L736.3,336.3 L735.5,334.1 L734.7,332.9 L733.9,334.2 L733.1,333.2 L732.3,333.2 L731.5,333.5 L730.7,332.5 L729.9,332.7 L729.1,333.5 L728.3,333.5 L727.5,334.1 L726.7,334.9 L725.9,335.5 L725.1,332.3 L724.3,332.2 L723.5,333.6 L722.7,336.8 L721.9,338.5 L721.1,339.5 L720.3,341.5 L719.5,341.0 L718.7,340.4 L717.9,339.1 L717.1,337.8 L716.3,336.5 L715.5,336.2 L714.7,337.2 L713.9,338.1 L713.1,337.2 L712.3,337.1 L711.5,335.7 L710.7,336.5 L709.9,335.6 L709.1,334.5 L708.3,335.0 L707.5,334.6 L706.7,333.7 L705.9,333.0 L705.1,332.7 L704.3,332.4 L703.5,331.4 L702.7,328.2 L701.9,328.3 L701.1,328.5 L700.3,332.4 L699.5,332.6 L698.7,332.4 L697.9,332.6 L697.1,331.9 L696.3,332.2 L695.5,332.0 L694.7,330.8 L693.9,331.3 L693.1,331.0 L692.3,331.3 L691.5,331.0 L690.7,329.9 L689.9,329.9 L689.1,324.6 L688.3,323.9 L687.5,324.3 L686.7,324.5 L685.9,328.3 L685.1,328.9 L684.3,327.8 L683.5,324.5 L682.7,326.1 L681.9,325.4 L681.1,324.1 L680.3,327.1 L679.5,327.8 L678.7,326.4 L677.9,325.4 L677.1,325.8 L676.3,325.0 L675.5,324.0 L674.7,324.3 L673.9,323.5 L673.1,322.2 L672.3,322.3 L671.5,321.7 L670.7,321.4 L669.9,320.7 L669.1,320.3 L668.3,319.9 L667.5,320.8 L666.7,319.6 L665.9,320.6 L665.1,322.6 L664.3,323.6 L663.5,321.2 L662.7,318.4 L661.9,315.7 L661.1,314.5 L660.3,312.8 L659.5,313.0 L658.7,314.2 L657.9,316.5 L657.1,316.8 L656.3,313.5 L655.5,312.3 L654.7,310.3 L653.9,309.2 L653.1,308.3 L652.3,306.2 L651.5,303.7 L650.7,302.1 L649.9,300.7 L649.1,298.9 L648.3,298.0 L647.5,296.8 L646.7,295.9 L645.9,294.6 L645.1,293.0 L644.3,290.4 L643.5,287.4 L642.7,284.3 L641.9,281.5 L641.1,277.9 L640.3,274.4 L639.5,271.3 L638.7,268.6 L637.9,265.7 L637.1,264.7 L636.3,263.8 L635.5,263.1 L634.7,262.2 L633.9,261.0 L633.1,260.3 L632.3,261.4 L631.5,262.1 L630.7,262.7 L629.9,260.0 L629.1,262.1 L628.3,262.8 L627.5,266.3 L626.7,267.6 L625.9,269.5 L625.1,270.9 L624.3,273.3 L623.5,274.4 L622.7,276.2 L621.9,277.8 L621.1,279.6 L620.3,280.8 L619.5,282.6 L618.7,284.8 L617.9,286.7 L617.1,288.3 L616.3,289.8 L615.5,291.7 L614.7,292.6 L613.9,291.6 L613.1,292.5 L612.3,293.8 L611.5,292.3 L610.7,292.1 L609.9,292.7 L609.1,293.3 L608.3,298.0 L607.5,299.1 L606.7,300.9 L605.9,301.7 L605.1,304.3 L604.3,306.1 L603.5,307.2 L602.7,308.3 L601.9,305.8 L601.1,308.0 L600.3,313.7 L599.5,312.6 L598.7,312.2 L597.9,309.6 L597.1,310.3 L596.3,310.7 L595.5,311.4 L594.7,309.4 L593.9,308.4 L593.1,308.8 L592.3,311.8 L591.5,312.2 L590.7,311.5 L589.9,312.5 L589.1,311.9 L588.3,311.4 L587.5,312.2 L586.7,313.2 L585.9,312.3 L585.1,312.6 L584.3,313.8 L583.5,310.8 L582.7,311.0 L581.9,310.8 L581.1,310.4 L580.3,313.4 L579.5,313.5 L578.7,313.9 L577.9,314.5 L577.1,313.1 L576.3,313.3 L575.5,314.5 L574.7,314.3 L573.9,314.4 L573.1,313.9 L572.3,314.7 L571.5,315.8 L570.7,313.4 L569.9,313.5 L569.1,313.3 L568.3,316.3 L567.5,316.2 L566.7,317.3 L565.9,316.1 L565.1,317.1 L564.3,317.4 L563.5,317.4 L562.7,317.6 L561.9,318.4 L561.1,317.7 L560.3,317.2 L559.5,317.4 L558.7,317.9 L557.9,318.2 L557.1,319.3 L556.3,318.5 L555.5,319.0 L554.7,319.3 L553.9,319.1 L553.1,319.1 L552.3,319.3 L551.5,318.5 L550.7,319.3 L549.9,319.4 L549.1,319.6 L548.3,319.2 L547.5,318.8 L546.7,319.8 L545.9,320.4 L545.1,319.8 L544.3,319.5 L543.5,321.1 L542.7,320.3 L541.9,319.9 L541.1,320.9 L540.3,316.5 L539.5,316.7 L538.7,321.4 L537.9,321.8 L537.1,321.9 L536.3,321.9 L535.5,321.7 L534.7,322.7 L533.9,322.0 L533.1,321.9 L532.3,322.3 L531.5,319.5 L530.7,320.4 L529.9,321.8 L529.1,324.7 L528.3,325.4 L527.5,326.4 L526.7,327.2 L525.9,328.0 L525.1,328.3 L524.3,329.0 L523.5,328.8 L522.7,329.3 L521.9,330.5 L521.1,330.6 L520.3,331.2 L519.5,331.3 L518.7,329.3 L517.9,328.8 L517.1,328.1 L516.3,331.1 L515.5,331.4 L514.7,332.2 L513.9,333.0 L513.1,333.5 L512.3,331.5 L511.5,331.1 L510.7,330.4 L509.9,330.3 L509.1,331.2 L508.3,332.9 L507.5,333.0 L506.7,333.5 L505.9,332.4 L505.1,333.1 L504.3,333.4 L503.5,332.6 L502.7,332.4 L501.9,331.1 L501.1,332.0 L500.3,332.4 L499.5,332.1 L498.7,332.4 L497.9,329.4 L497.1,329.0 L496.3,328.5 L495.5,330.4 L494.7,331.8 L493.9,333.6 L493.1,334.6 L492.3,335.0 L491.5,336.7 L490.7,333.2 L489.9,332.0 L489.1,334.5 L488.3,334.7 L487.5,333.6 L486.7,332.5 L485.9,332.8 L485.1,332.1 L484.3,332.0 L483.5,331.7 L482.7,331.4 L481.9,331.0 L481.1,330.5 L480.3,329.4 L479.5,329.6 L478.7,328.0 L477.9,328.0 L477.1,323.7 L476.3,322.7 L475.5,324.6 L474.7,324.4 L473.9,326.2 L473.1,330.8 L472.3,331.3 L471.5,332.8 L470.7,333.3 L469.9,333.8 L469.1,334.3 L468.3,334.9 L467.5,335.1 L466.7,337.3 L465.9,338.4 L465.1,338.9 L464.3,339.1 L463.5,339.5 L462.7,340.5 L461.9,341.1 L461.1,342.6 L460.3,343.0 L459.5,344.5 L458.7,343.3 L457.9,342.6 L457.1,341.4 L456.3,340.4 L455.5,340.5 L454.7,340.1 L453.9,339.4 L453.1,339.2 L452.3,338.6 L451.5,338.3 L450.7,337.8 L449.9,339.0 L449.1,339.7 L448.3,340.5 L447.5,347.1 L446.7,347.4 L445.9,348.1 L445.1,342.2 L444.3,345.6 L443.5,344.3 L442.7,343.1 L441.9,338.1 L441.1,337.6 L440.3,337.7 L439.5,337.6 L438.7,337.7 L437.9,342.5 L437.1,343.1 L436.3,343.9 L435.5,343.4 L434.7,339.1 L433.9,338.5 L433.1,338.7 L432.3,342.8 L431.5,342.0 L430.7,338.5 L429.9,338.4 L429.1,338.0 L428.3,338.1 L427.5,337.9 L426.7,341.4 L425.9,341.6 L425.1,341.1 L424.3,342.3 L423.5,340.0 L422.7,340.9 L421.9,344.0 L421.1,346.5 L420.3,345.3 L419.5,343.9 L418.7,342.4 L417.9,341.9 L417.1,340.8 L416.3,340.2 L415.5,339.3 L414.7,338.1 L413.9,337.6 L413.1,337.4 L412.3,337.3 L411.5,336.0 L410.7,336.3 L409.9,337.1 L409.1,336.5 L408.3,335.9 L407.5,333.8 L406.7,332.5 L405.9,332.8 L405.1,336.0 L404.3,336.9 L403.5,336.9 L402.7,337.3 L401.9,337.3 L401.1,336.9 L400.3,336.8 L399.5,336.9 L398.7,337.8 L397.9,337.9 L397.1,338.2 L396.3,337.7 L395.5,335.8 L394.7,336.9 L393.9,338.3 L393.1,341.8 L392.3,342.4 L391.5,343.3 L390.7,343.6 L389.9,342.6 L389.1,342.5 L388.3,341.5 L387.5,340.5 L386.7,340.2 L385.9,339.1 L385.1,339.7 L384.3,339.1 L383.5,337.5 L382.7,337.6 L381.9,337.1 L381.1,337.8 L380.3,336.8 L379.5,337.5 L378.7,336.3 L377.9,336.8 L377.1,337.5 L376.3,336.5 L375.5,336.5 L374.7,337.0 L373.9,337.0 L373.1,336.0 L372.3,336.3 L371.5,335.0 L370.7,336.5 L369.9,337.8 L369.1,340.5 L368.3,341.7 L367.5,343.4 L366.7,343.7 L365.9,343.5 L365.1,343.3 L364.3,343.4 L363.5,339.6 L362.7,339.7 L361.9,339.8 L361.1,338.6 L360.3,342.7 L359.5,343.2 L358.7,344.1 L357.9,343.9 L357.1,344.6 L356.3,345.3 L355.5,345.8 L354.7,345.8 L353.9,345.5 L353.1,345.4 L352.3,344.8 L351.5,345.4 L350.7,344.9 L349.9,344.5 L349.1,344.3 L348.3,344.5 L347.5,345.2 L346.7,357.1 L345.9,356.6 L345.1,357.1 L344.3,350.3 L343.5,346.4 L342.7,346.8 L341.9,352.2 L341.1,356.6 L340.3,355.8 L339.5,349.3 L338.7,348.0 L337.9,347.2 L337.1,349.8 L336.3,359.3 L335.5,358.5 L334.7,359.6 L333.9,355.4 L333.1,353.0 L332.3,352.4 L331.5,352.2 L330.7,351.8 L329.9,349.7 L329.1,344.2 L328.3,342.8 L327.5,341.7 L326.7,342.7 L325.9,341.3 L325.1,340.3 L324.3,339.8 L323.5,339.0 L322.7,339.0 L321.9,338.7 L321.1,338.5 L320.3,338.7 L319.5,339.6 L318.7,340.0 L317.9,340.0 L317.1,340.0 L316.3,340.1 L315.5,339.4 L314.7,335.7 L313.9,335.9 L313.1,336.9 L312.3,341.4 L311.5,343.9 L310.7,349.6 L309.9,351.1 L309.1,350.8 L308.3,351.0 L307.5,350.1 L306.7,346.1 L305.9,344.1 L305.1,343.8 L304.3,342.4 L303.5,341.5 L302.7,340.3 L301.9,339.1 L301.1,337.4 L300.3,338.5 L299.5,338.7 L298.7,339.7 L297.9,339.8 L297.1,339.3 L296.3,340.6 L295.5,336.9 L294.7,335.8 L293.9,335.6 L293.1,335.0 L292.3,333.9 L291.5,336.2 L290.7,335.8 L289.9,333.7 L289.1,332.5 L288.3,326.3 L287.5,324.5 L286.7,322.9 L285.9,321.0 L285.1,325.9 L284.3,325.1 L283.5,325.6 L282.7,325.7 L281.9,325.3 L281.1,324.7 L280.3,324.4 L279.5,325.2 L278.7,321.1 L277.9,323.3 L277.1,323.9 L276.3,327.7 L275.5,328.4 L274.7,328.2 L273.9,323.6 L273.1,324.1 L272.3,328.0 L271.5,327.4 L270.7,322.6 L269.9,323.0 L269.1,322.5 L268.3,328.1 L267.5,329.0 L266.7,329.2 L265.9,328.4 L265.1,329.6 L264.3,329.4 L263.5,329.7 L262.7,328.6 L261.9,323.2 L261.1,322.5 L260.3,322.5 L259.5,326.4 L258.7,327.1 L257.9,325.6 L257.1,325.3 L256.3,325.9 L255.5,325.5 L254.7,329.2 L253.9,329.5 L253.1,330.5 L252.3,331.2 L251.5,330.8 L250.7,331.2 L249.9,330.6 L249.1,330.5 L248.3,329.1 L247.5,328.9 L246.7,329.1 L245.9,328.6 L245.1,329.2 L244.3,329.9 L243.5,329.5 L242.7,326.1 L241.9,326.4 L241.1,326.2 L240.3,325.7 L239.5,325.0 L238.7,328.4 L237.9,328.3 L237.1,327.4 L236.3,325.1 L235.5,322.5 L234.7,319.2 L233.9,315.1 L233.1,313.8 L232.3,311.7 L231.5,312.9 L230.7,308.7 L229.9,308.1 L229.1,307.6 L228.3,307.7 L227.5,308.2 L226.7,309.8 L225.9,310.5 L225.1,309.9 L224.3,310.5 L223.5,311.1 L222.7,311.3 L221.9,311.7 L221.1,311.5 L220.3,310.5 L219.5,310.4 L218.7,309.5 L217.9,308.7 L217.1,309.1 L216.3,307.7 L215.5,307.5 L214.7,307.7 L213.9,305.0 L213.1,305.5 L212.3,305.3 L211.5,304.8 L210.7,304.5 L209.9,306.9 L209.1,307.1 L208.3,306.3 L207.5,306.1 L206.7,307.2 L205.9,306.5 L205.1,304.1 L204.3,304.2 L203.5,307.9 L202.7,307.4 L201.9,307.7 L201.1,304.8 L200.3,304.9 L199.5,304.6 L198.7,308.2 L197.9,307.9 L197.1,307.8 L196.3,307.1 L195.5,307.4 L194.7,308.5 L193.9,308.6 L193.1,308.7 L192.3,308.3 L191.5,308.8 L190.7,309.4 L189.9,309.3 L189.1,309.2 L188.3,309.6 L187.5,310.0 L186.7,309.8 L185.9,308.8 L185.1,309.4 L184.3,309.6 L183.5,310.1 L182.7,309.6 L181.9,309.5 L181.1,309.4 L180.3,309.5 L179.5,308.8 L178.7,308.9 L177.9,310.0 L177.1,311.3 L176.3,312.3 L175.5,307.8 L174.7,306.8 L173.9,309.6 L173.1,310.0 L172.3,305.6 L171.5,305.9 L170.7,306.1 L169.9,305.7 L169.1,305.9 L168.3,310.6 L167.5,311.7 L166.7,312.0 L165.9,311.6 L165.1,311.7 L164.3,311.2 L163.5,311.5 L162.7,311.9 L161.9,311.4 L161.1,312.0 L160.3,312.5 L159.5,312.2 L158.7,312.7 L157.9,313.3 L157.1,312.9 L156.3,312.5 L155.5,312.7 L154.7,312.0 L153.9,310.1 L153.1,309.7 L152.3,313.8 L151.5,313.7 L150.7,314.2 L149.9,313.8 L149.1,313.3 L148.3,313.9 L147.5,314.0 L146.7,314.9 L145.9,314.4 L145.1,314.8 L144.3,315.4 L143.5,316.0 L142.7,316.5 L141.9,316.2 L141.1,316.7 L140.3,313.8 L139.5,312.8 L138.7,316.9 L137.9,316.3 L137.1,316.1 L136.3,315.6 L135.5,315.1 L134.7,314.4 L133.9,314.6 L133.1,314.8 L132.3,315.7 L131.5,315.9 L130.7,315.8 L129.9,315.7 L129.1,316.6 L128.3,316.6 L127.5,317.0 L126.7,317.1 L125.9,318.3 L125.1,315.9 L124.3,315.8 L123.5,318.5 L122.7,318.7 L121.9,317.8 L121.1,313.1 L120.3,313.9 L119.5,318.8 L118.7,319.1 L117.9,317.6 L117.1,317.9 L116.3,318.2 L115.5,319.0 L114.7,313.9 L113.9,314.3 L113.1,314.7 L112.3,315.1 L111.5,319.1 L110.7,319.2 L109.9,319.5 L109.1,319.9 L108.3,315.8 L107.5,316.6 L106.7,316.0 L105.9,318.2 L105.1,318.1 L104.3,315.3 L103.5,316.1 L102.7,316.3 L101.9,316.3 L101.1,320.0 L100.3,319.6 L99.5,319.0 L98.7,319.5 L97.9,320.1 L97.1,319.7 L96.3,320.4 L95.5,320.2 L94.7,320.0 L93.9,320.3 L93.1,320.3 L92.3,319.7 L91.5,319.6 L90.7,319.9 L89.9,320.0 L89.1,319.9 L88.3,321.2 L87.5,321.0 L86.7,321.0 L85.9,317.0 L85.1,316.0 L84.3,316.1 L83.5,320.7 L82.7,320.3 L81.9,320.2 L81.1,320.4 L80.3,320.7 L79.5,321.4 L78.7,317.0 L77.9,316.6 L77.1,320.7 L76.3,321.5 L75.5,321.6 L74.7,317.0 L73.9,316.9 L73.1,320.6 L72.3,321.6 L71.5,321.2 L70.7,320.6 L69.9,321.0 L69.1,322.1 L68.3,320.6 L67.5,321.6 L66.7,321.0 L65.9,321.7 L65.1,321.0 L64.3,321.1 L63.5,321.8 L62.7,321.6 L61.9,321.5 L61.1,321.4 L60.3,321.7 L59.5,322.0 L58.7,322.3 L57.9,322.2 L57.1,321.2 L56.3,321.1 L55.5,321.1 L54.7,321.6 L53.9,321.7 L53.1,322.0 L52.3,322.5 L51.5,323.4 L50.7,323.1 L49.9,322.3 L49.1,322.4 L48.3,322.6 L47.5,323.0 L46.7,323.6 L45.9,322.7 L45.1,324.0 L44.3,323.7 L43.5,323.8 L42.7,323.5 L41.9,323.5 L41.1,324.3 L40.3,323.5 L39.5,323.6 L38.7,322.3Z" fill="#ED7D31"/><path d="M38.3,293.0 L38.7,322.3 L39.1,293.8 L39.5,323.6 L39.9,293.4 L40.3,323.5 L40.7,294.0 L41.1,324.3 L41.5,293.0 L41.9,323.5 L42.3,293.1 L42.7,323.5 L43.1,293.9 L43.5,323.8 L43.9,293.9 L44.3,323.7 L44.7,293.9 L45.1,324.0 L45.5,293.9 L45.9,322.7 L46.3,293.4 L46.7,323.6 L47.1,293.7 L47.5,323.0 L47.9,293.9 L48.3,322.6 L48.7,294.5 L49.1,322.4 L49.5,294.0 L49.9,322.3 L50.3,293.4 L50.7,323.1 L51.1,296.6 L51.5,323.4 L51.9,297.1 L52.3,322.5 L52.7,297.1 L53.1,322.0 L53.5,296.1 L53.9,321.7 L54.3,293.3 L54.7,321.6 L55.1,293.1 L55.5,321.1 L55.9,293.5 L56.3,321.1 L56.7,294.0 L57.1,321.2 L57.5,293.6 L57.9,322.2 L58.3,294.0 L58.7,322.3 L59.1,293.5 L59.5,322.0 L59.9,293.7 L60.3,321.7 L60.7,293.9 L61.1,321.4 L61.5,293.3 L61.9,321.5 L62.3,293.7 L62.7,321.6 L63.1,293.3 L63.5,321.8 L63.9,292.9 L64.3,321.1 L64.7,293.6 L65.1,321.0 L65.5,293.9 L65.9,321.7 L66.3,293.5 L66.7,321.0 L67.1,293.2 L67.5,321.6 L67.9,293.1 L68.3,320.6 L68.7,293.8 L69.1,322.1 L69.5,293.4 L69.9,321.0 L70.3,293.3 L70.7,320.6 L71.1,293.0 L71.5,321.2 L71.9,293.8 L72.3,321.6 L72.7,293.9 L73.1,320.6 L73.5,293.6 L73.9,316.9 L74.3,293.8 L74.7,317.0 L75.1,293.8 L75.5,321.6 L75.9,293.7 L76.3,321.5 L76.7,294.8 L77.1,320.7 L77.5,294.6 L77.9,316.6 L78.3,293.8 L78.7,317.0 L79.1,293.7 L79.5,321.4 L79.9,293.9 L80.3,320.7 L80.7,293.7 L81.1,320.4 L81.5,294.2 L81.9,320.2 L82.3,294.4 L82.7,320.3 L83.1,294.5 L83.5,320.7 L83.9,293.7 L84.3,316.1 L84.7,293.8 L85.1,316.0 L85.5,293.4 L85.9,317.0 L86.3,292.8 L86.7,321.0 L87.1,293.5 L87.5,321.0 L87.9,294.1 L88.3,321.2 L88.7,296.2 L89.1,319.9 L89.5,295.9 L89.9,320.0 L90.3,296.1 L90.7,319.9 L91.1,293.0 L91.5,319.6 L91.9,293.1 L92.3,319.7 L92.7,294.2 L93.1,320.3 L93.5,293.7 L93.9,320.3 L94.3,295.7 L94.7,320.0 L95.1,295.9 L95.5,320.2 L95.9,295.8 L96.3,320.4 L96.7,296.7 L97.1,319.7 L97.5,296.5 L97.9,320.1 L98.3,296.4 L98.7,319.5 L99.1,297.8 L99.5,319.0 L99.9,296.7 L100.3,319.6 L100.7,294.0 L101.1,320.0 L101.5,293.6 L101.9,316.3 L102.3,293.4 L102.7,316.3 L103.1,293.7 L103.5,316.1 L103.9,293.7 L104.3,315.3 L104.7,293.6 L105.1,318.1 L105.5,293.9 L105.9,318.2 L106.3,293.5 L106.7,316.0 L107.1,293.1 L107.5,316.6 L107.9,293.7 L108.3,315.8 L108.7,297.4 L109.1,319.9 L109.5,296.4 L109.9,319.5 L110.3,296.5 L110.7,319.2 L111.1,296.3 L111.5,319.1 L111.9,296.8 L112.3,315.1 L112.7,294.0 L113.1,314.7 L113.5,293.8 L113.9,314.3 L114.3,294.2 L114.7,313.9 L115.1,294.0 L115.5,319.0 L115.9,294.0 L116.3,318.2 L116.7,293.0 L117.1,317.9 L117.5,293.3 L117.9,317.6 L118.3,293.1 L118.7,319.1 L119.1,293.6 L119.5,318.8 L119.9,294.6 L120.3,313.9 L120.7,294.0 L121.1,313.1 L121.5,294.3 L121.9,317.8 L122.3,294.8 L122.7,318.7 L123.1,294.7 L123.5,318.5 L123.9,294.6 L124.3,315.8 L124.7,293.8 L125.1,315.9 L125.5,294.1 L125.9,318.3 L126.3,294.6 L126.7,317.1 L127.1,294.6 L127.5,317.0 L127.9,294.1 L128.3,316.6 L128.7,293.9 L129.1,316.6 L129.5,294.1 L129.9,315.7 L130.3,294.7 L130.7,315.8 L131.1,294.4 L131.5,315.9 L131.9,293.7 L132.3,315.7 L132.7,294.4 L133.1,314.8 L133.5,294.2 L133.9,314.6 L134.3,294.2 L134.7,314.4 L135.1,294.0 L135.5,315.1 L135.9,293.9 L136.3,315.6 L136.7,293.2 L137.1,316.1 L137.5,296.1 L137.9,316.3 L138.3,296.7 L138.7,316.9 L139.1,296.6 L139.5,312.8 L139.9,296.7 L140.3,313.8 L140.7,293.6 L141.1,316.7 L141.5,293.9 L141.9,316.2 L142.3,293.7 L142.7,316.5 L143.1,293.7 L143.5,316.0 L143.9,293.9 L144.3,315.4 L144.7,293.4 L145.1,314.8 L145.5,293.6 L145.9,314.4 L146.3,292.9 L146.7,314.9 L147.1,293.8 L147.5,314.0 L147.9,293.5 L148.3,313.9 L148.7,293.8 L149.1,313.3 L149.5,294.0 L149.9,313.8 L150.3,294.4 L150.7,314.2 L151.1,294.2 L151.5,313.7 L151.9,296.3 L152.3,313.8 L152.7,296.8 L153.1,309.7 L153.5,296.5 L153.9,310.1 L154.3,296.5 L154.7,312.0 L155.1,293.7 L155.5,312.7 L155.9,293.3 L156.3,312.5 L156.7,296.2 L157.1,312.9 L157.5,296.6 L157.9,313.3 L158.3,296.5 L158.7,312.7 L159.1,294.0 L159.5,312.2 L159.9,293.8 L160.3,312.5 L160.7,293.6 L161.1,312.0 L161.5,293.4 L161.9,311.4 L162.3,293.8 L162.7,311.9 L163.1,293.6 L163.5,311.5 L163.9,293.9 L164.3,311.2 L164.7,293.6 L165.1,311.7 L165.5,294.6 L165.9,311.6 L166.3,293.4 L166.7,312.0 L167.1,293.3 L167.5,311.7 L167.9,293.5 L168.3,310.6 L168.7,292.9 L169.1,305.9 L169.5,293.6 L169.9,305.7 L170.3,293.6 L170.7,306.1 L171.1,293.6 L171.5,305.9 L171.9,293.2 L172.3,305.6 L172.7,294.3 L173.1,310.0 L173.5,294.3 L173.9,309.6 L174.3,294.0 L174.7,306.8 L175.1,293.3 L175.5,307.8 L175.9,293.5 L176.3,312.3 L176.7,293.4 L177.1,311.3 L177.5,292.9 L177.9,310.0 L178.3,293.3 L178.7,308.9 L179.1,293.0 L179.5,308.8 L179.9,293.8 L180.3,309.5 L180.7,296.3 L181.1,309.4 L181.5,296.7 L181.9,309.5 L182.3,297.0 L182.7,309.6 L183.1,297.2 L183.5,310.1 L183.9,297.1 L184.3,309.6 L184.7,293.3 L185.1,309.4 L185.5,293.7 L185.9,308.8 L186.3,296.0 L186.7,309.8 L187.1,296.3 L187.5,310.0 L187.9,296.6 L188.3,309.6 L188.7,296.8 L189.1,309.2 L189.5,293.9 L189.9,309.3 L190.3,293.7 L190.7,309.4 L191.1,294.6 L191.5,308.8 L191.9,293.3 L192.3,308.3 L192.7,294.3 L193.1,308.7 L193.5,293.8 L193.9,308.6 L194.3,293.9 L194.7,308.5 L195.1,293.5 L195.5,307.4 L195.9,293.9 L196.3,307.1 L196.7,293.7 L197.1,307.8 L197.5,293.9 L197.9,307.9 L198.3,293.4 L198.7,308.2 L199.1,293.4 L199.5,304.6 L199.9,293.4 L200.3,304.9 L200.7,293.4 L201.1,304.8 L201.5,293.7 L201.9,307.7 L202.3,293.5 L202.7,307.4 L203.1,293.7 L203.5,307.9 L203.9,293.4 L204.3,304.2 L204.7,293.5 L205.1,304.1 L205.5,293.7 L205.9,306.5 L206.3,293.5 L206.7,307.2 L207.1,293.4 L207.5,306.1 L207.9,295.1 L208.3,306.3 L208.7,295.5 L209.1,307.1 L209.5,295.0 L209.9,306.9 L210.3,295.2 L210.7,304.5 L211.1,296.4 L211.5,304.8 L211.9,296.2 L212.3,305.3 L212.7,297.0 L213.1,305.5 L213.5,294.0 L213.9,305.0 L214.3,293.7 L214.7,307.7 L215.1,293.0 L215.5,307.5 L215.9,293.0 L216.3,307.7 L216.7,296.2 L217.1,309.1 L217.5,295.6 L217.9,308.7 L218.3,295.6 L218.7,309.5 L219.1,295.4 L219.5,310.4 L219.9,293.5 L220.3,310.5 L220.7,293.5 L221.1,311.5 L221.5,293.5 L221.9,311.7 L222.3,293.5 L222.7,311.3 L223.1,293.2 L223.5,311.1 L223.9,293.4 L224.3,310.5 L224.7,293.8 L225.1,309.9 L225.5,293.5 L225.9,310.5 L226.3,293.5 L226.7,309.8 L227.1,294.0 L227.5,308.2 L227.9,296.5 L228.3,307.7 L228.7,297.0 L229.1,307.6 L229.5,297.1 L229.9,308.1 L230.3,297.1 L230.7,308.7 L231.1,296.8 L231.5,312.9 L231.9,294.4 L232.3,311.7 L232.7,294.7 L233.1,313.8 L233.5,293.5 L233.9,315.1 L234.3,293.3 L234.7,319.2 L235.1,293.6 L235.5,322.5 L235.9,293.8 L236.3,325.1 L236.7,293.9 L237.1,327.4 L237.5,294.0 L237.9,328.3 L238.3,293.9 L238.7,328.4 L239.1,293.6 L239.5,325.0 L239.9,293.5 L240.3,325.7 L240.7,293.9 L241.1,326.2 L241.5,293.9 L241.9,326.4 L242.3,294.2 L242.7,326.1 L243.1,295.3 L243.5,329.5 L243.9,295.3 L244.3,329.9 L244.7,294.8 L245.1,329.2 L245.5,294.6 L245.9,328.6 L246.3,294.2 L246.7,329.1 L247.1,293.5 L247.5,328.9 L247.9,293.1 L248.3,329.1 L248.7,293.7 L249.1,330.5 L249.5,293.5 L249.9,330.6 L250.3,294.0 L250.7,331.2 L251.1,293.7 L251.5,330.8 L251.9,296.8 L252.3,331.2 L252.7,296.6 L253.1,330.5 L253.5,296.8 L253.9,329.5 L254.3,293.5 L254.7,329.2 L255.1,293.8 L255.5,325.5 L255.9,293.3 L256.3,325.9 L256.7,296.0 L257.1,325.3 L257.5,296.0 L257.9,325.6 L258.3,295.6 L258.7,327.1 L259.1,294.1 L259.5,326.4 L259.9,294.3 L260.3,322.5 L260.7,294.3 L261.1,322.5 L261.5,292.9 L261.9,323.2 L262.3,293.9 L262.7,328.6 L263.1,293.7 L263.5,329.7 L263.9,294.2 L264.3,329.4 L264.7,293.4 L265.1,329.6 L265.5,293.9 L265.9,328.4 L266.3,293.8 L266.7,329.2 L267.1,294.0 L267.5,329.0 L267.9,293.8 L268.3,328.1 L268.7,293.8 L269.1,322.5 L269.5,293.1 L269.9,323.0 L270.3,293.5 L270.7,322.6 L271.1,293.5 L271.5,327.4 L271.9,293.7 L272.3,328.0 L272.7,293.6 L273.1,324.1 L273.5,293.7 L273.9,323.6 L274.3,293.6 L274.7,328.2 L275.1,293.2 L275.5,328.4 L275.9,293.3 L276.3,327.7 L276.7,293.6 L277.1,323.9 L277.5,293.6 L277.9,323.3 L278.3,293.4 L278.7,321.1 L279.1,293.5 L279.5,325.2 L279.9,293.2 L280.3,324.4 L280.7,293.1 L281.1,324.7 L281.5,293.2 L281.9,325.3 L282.3,293.3 L282.7,325.7 L283.1,294.2 L283.5,325.6 L283.9,293.8 L284.3,325.1 L284.7,293.5 L285.1,325.9 L285.5,294.1 L285.9,321.0 L286.3,293.7 L286.7,322.9 L287.1,293.7 L287.5,324.5 L287.9,294.3 L288.3,326.3 L288.7,293.5 L289.1,332.5 L289.5,294.0 L289.9,333.7 L290.3,294.1 L290.7,335.8 L291.1,294.3 L291.5,336.2 L291.9,293.9 L292.3,333.9 L292.7,294.2 L293.1,335.0 L293.5,298.4 L293.9,335.6 L294.3,297.7 L294.7,335.8 L295.1,297.9 L295.5,336.9 L295.9,298.1 L296.3,340.6 L296.7,295.0 L297.1,339.3 L297.5,293.9 L297.9,339.8 L298.3,293.9 L298.7,339.7 L299.1,293.8 L299.5,338.7 L299.9,293.7 L300.3,338.5 L300.7,293.6 L301.1,337.4 L301.5,293.2 L301.9,339.1 L302.3,293.5 L302.7,340.3 L303.1,293.7 L303.5,341.5 L303.9,294.4 L304.3,342.4 L304.7,293.2 L305.1,343.8 L305.5,293.6 L305.9,344.1 L306.3,293.5 L306.7,346.1 L307.1,293.8 L307.5,350.1 L307.9,293.7 L308.3,351.0 L308.7,292.9 L309.1,350.8 L309.5,293.7 L309.9,351.1 L310.3,293.7 L310.7,349.6 L311.1,293.5 L311.5,343.9 L311.9,293.8 L312.3,341.4 L312.7,293.3 L313.1,336.9 L313.5,293.1 L313.9,335.9 L314.3,293.4 L314.7,335.7 L315.1,293.3 L315.5,339.4 L315.9,293.3 L316.3,340.1 L316.7,293.6 L317.1,340.0 L317.5,293.2 L317.9,340.0 L318.3,293.7 L318.7,340.0 L319.1,293.8 L319.5,339.6 L319.9,294.7 L320.3,338.7 L320.7,294.3 L321.1,338.5 L321.5,293.7 L321.9,338.7 L322.3,293.1 L322.7,339.0 L323.1,293.6 L323.5,339.0 L323.9,293.9 L324.3,339.8 L324.7,293.8 L325.1,340.3 L325.5,293.7 L325.9,341.3 L326.3,293.2 L326.7,342.7 L327.1,293.6 L327.5,341.7 L327.9,293.6 L328.3,342.8 L328.7,293.9 L329.1,344.2 L329.5,293.3 L329.9,349.7 L330.3,293.0 L330.7,351.8 L331.1,293.5 L331.5,352.2 L331.9,293.1 L332.3,352.4 L332.7,293.2 L333.1,353.0 L333.5,293.8 L333.9,355.4 L334.3,293.7 L334.7,359.6 L335.1,294.1 L335.5,358.5 L335.9,293.9 L336.3,359.3 L336.7,293.1 L337.1,349.8 L337.5,293.1 L337.9,347.2 L338.3,294.1 L338.7,348.0 L339.1,293.8 L339.5,349.3 L339.9,293.9 L340.3,355.8 L340.7,296.1 L341.1,356.6 L341.5,296.7 L341.9,352.2 L342.3,297.1 L342.7,346.8 L343.1,296.7 L343.5,346.4 L343.9,294.1 L344.3,350.3 L344.7,293.9 L345.1,357.1 L345.5,294.9 L345.9,356.6 L346.3,293.7 L346.7,357.1 L347.1,294.2 L347.5,345.2 L347.9,294.0 L348.3,344.5 L348.7,294.0 L349.1,344.3 L349.5,294.6 L349.9,344.5 L350.3,294.2 L350.7,344.9 L351.1,293.8 L351.5,345.4 L351.9,293.9 L352.3,344.8 L352.7,294.5 L353.1,345.4 L353.5,293.6 L353.9,345.5 L354.3,293.9 L354.7,345.8 L355.1,294.0 L355.5,345.8 L355.9,295.5 L356.3,345.3 L356.7,295.0 L357.1,344.6 L357.5,293.4 L357.9,343.9 L358.3,293.9 L358.7,344.1 L359.1,292.8 L359.5,343.2 L359.9,293.5 L360.3,342.7 L360.7,294.1 L361.1,338.6 L361.5,293.3 L361.9,339.8 L362.3,293.7 L362.7,339.7 L363.1,295.8 L363.5,339.6 L363.9,296.7 L364.3,343.4 L364.7,296.7 L365.1,343.3 L365.5,296.3 L365.9,343.5 L366.3,295.8 L366.7,343.7 L367.1,293.8 L367.5,343.4 L367.9,293.0 L368.3,341.7 L368.7,293.3 L369.1,340.5 L369.5,294.2 L369.9,337.8 L370.3,294.3 L370.7,336.5 L371.1,293.9 L371.5,335.0 L371.9,292.9 L372.3,336.3 L372.7,293.0 L373.1,336.0 L373.5,293.2 L373.9,337.0 L374.3,293.3 L374.7,337.0 L375.1,293.4 L375.5,336.5 L375.9,293.9 L376.3,336.5 L376.7,293.2 L377.1,337.5 L377.5,294.1 L377.9,336.8 L378.3,293.6 L378.7,336.3 L379.1,293.6 L379.5,337.5 L379.9,293.3 L380.3,336.8 L380.7,293.6 L381.1,337.8 L381.5,293.1 L381.9,337.1 L382.3,295.5 L382.7,337.6 L383.1,295.9 L383.5,337.5 L383.9,296.3 L384.3,339.1 L384.7,294.0 L385.1,339.7 L385.5,293.0 L385.9,339.1 L386.3,293.8 L386.7,340.2 L387.1,293.2 L387.5,340.5 L387.9,293.5 L388.3,341.5 L388.7,294.2 L389.1,342.5 L389.5,293.8 L389.9,342.6 L390.3,298.0 L390.7,343.6 L391.1,298.3 L391.5,343.3 L391.9,298.2 L392.3,342.4 L392.7,294.3 L393.1,341.8 L393.5,294.2 L393.9,338.3 L394.3,294.6 L394.7,336.9 L395.1,293.5 L395.5,335.8 L395.9,293.6 L396.3,337.7 L396.7,293.7 L397.1,338.2 L397.5,293.7 L397.9,337.9 L398.3,295.4 L398.7,337.8 L399.1,295.6 L399.5,336.9 L399.9,294.1 L400.3,336.8 L400.7,293.2 L401.1,336.9 L401.5,292.5 L401.9,337.3 L402.3,291.8 L402.7,337.3 L403.1,291.5 L403.5,336.9 L403.9,291.3 L404.3,336.9 L404.7,290.3 L405.1,336.0 L405.5,289.5 L405.9,332.8 L406.3,288.9 L406.7,332.5 L407.1,290.6 L407.5,333.8 L407.9,290.0 L408.3,335.9 L408.7,287.8 L409.1,336.5 L409.5,287.3 L409.9,337.1 L410.3,286.4 L410.7,336.3 L411.1,285.9 L411.5,336.0 L411.9,284.8 L412.3,337.3 L412.7,285.0 L413.1,337.4 L413.5,284.3 L413.9,337.6 L414.3,283.5 L414.7,338.1 L415.1,283.5 L415.5,339.3 L415.9,282.8 L416.3,340.2 L416.7,281.6 L417.1,340.8 L417.5,281.4 L417.9,341.9 L418.3,281.0 L418.7,342.4 L419.1,280.5 L419.5,343.9 L419.9,279.7 L420.3,345.3 L420.7,280.2 L421.1,346.5 L421.5,279.5 L421.9,344.0 L422.3,279.6 L422.7,340.9 L423.1,279.2 L423.5,340.0 L423.9,279.0 L424.3,342.3 L424.7,279.1 L425.1,341.1 L425.5,279.2 L425.9,341.6 L426.3,279.0 L426.7,341.4 L427.1,279.2 L427.5,337.9 L427.9,278.5 L428.3,338.1 L428.7,279.3 L429.1,338.0 L429.5,281.6 L429.9,338.4 L430.3,280.8 L430.7,338.5 L431.1,279.0 L431.5,342.0 L431.9,279.2 L432.3,342.8 L432.7,278.3 L433.1,338.7 L433.5,279.1 L433.9,338.5 L434.3,279.1 L434.7,339.1 L435.1,279.0 L435.5,343.4 L435.9,278.7 L436.3,343.9 L436.7,278.7 L437.1,343.1 L437.5,278.2 L437.9,342.5 L438.3,278.0 L438.7,337.7 L439.1,278.2 L439.5,337.6 L439.9,278.1 L440.3,337.7 L440.7,278.1 L441.1,337.6 L441.5,277.8 L441.9,338.1 L442.3,278.1 L442.7,343.1 L443.1,278.2 L443.5,344.3 L443.9,278.5 L444.3,345.6 L444.7,276.9 L445.1,342.2 L445.5,277.5 L445.9,348.1 L446.3,277.7 L446.7,347.4 L447.1,278.1 L447.5,347.1 L447.9,278.5 L448.3,340.5 L448.7,277.7 L449.1,339.7 L449.5,280.8 L449.9,339.0 L450.3,280.3 L450.7,337.8 L451.1,280.2 L451.5,338.3 L451.9,277.3 L452.3,338.6 L452.7,277.2 L453.1,339.2 L453.5,277.8 L453.9,339.4 L454.3,277.8 L454.7,340.1 L455.1,277.2 L455.5,340.5 L455.9,277.0 L456.3,340.4 L456.7,280.1 L457.1,341.4 L457.5,280.5 L457.9,342.6 L458.3,280.5 L458.7,343.3 L459.1,280.2 L459.5,344.5 L459.9,276.1 L460.3,343.0 L460.7,275.8 L461.1,342.6 L461.5,275.6 L461.9,341.1 L462.3,275.7 L462.7,340.5 L463.1,276.1 L463.5,339.5 L463.9,277.0 L464.3,339.1 L464.7,276.8 L465.1,338.9 L465.5,277.3 L465.9,338.4 L466.3,276.0 L466.7,337.3 L467.1,276.3 L467.5,335.1 L467.9,275.8 L468.3,334.9 L468.7,276.0 L469.1,334.3 L469.5,279.4 L469.9,333.8 L470.3,278.8 L470.7,333.3 L471.1,278.8 L471.5,332.8 L471.9,278.0 L472.3,331.3 L472.7,273.8 L473.1,330.8 L473.5,273.7 L473.9,326.2 L474.3,273.6 L474.7,324.4 L475.1,273.1 L475.5,324.6 L475.9,273.2 L476.3,322.7 L476.7,273.6 L477.1,323.7 L477.5,274.7 L477.9,328.0 L478.3,275.2 L478.7,328.0 L479.1,276.2 L479.5,329.6 L479.9,277.5 L480.3,329.4 L480.7,278.6 L481.1,330.5 L481.5,278.2 L481.9,331.0 L482.3,278.1 L482.7,331.4 L483.1,280.1 L483.5,331.7 L483.9,281.1 L484.3,332.0 L484.7,281.6 L485.1,332.1 L485.5,283.3 L485.9,332.8 L486.3,283.5 L486.7,332.5 L487.1,284.2 L487.5,333.6 L487.9,283.8 L488.3,334.7 L488.7,284.0 L489.1,334.5 L489.5,283.6 L489.9,332.0 L490.3,281.7 L490.7,333.2 L491.1,282.1 L491.5,336.7 L491.9,282.1 L492.3,335.0 L492.7,283.0 L493.1,334.6 L493.5,282.6 L493.9,333.6 L494.3,282.4 L494.7,331.8 L495.1,281.4 L495.5,330.4 L495.9,281.5 L496.3,328.5 L496.7,285.0 L497.1,329.0 L497.5,285.3 L497.9,329.4 L498.3,285.0 L498.7,332.4 L499.1,280.6 L499.5,332.1 L499.9,281.1 L500.3,332.4 L500.7,280.7 L501.1,332.0 L501.5,280.9 L501.9,331.1 L502.3,280.6 L502.7,332.4 L503.1,280.4 L503.5,332.6 L503.9,280.8 L504.3,333.4 L504.7,280.3 L505.1,333.1 L505.5,280.3 L505.9,332.4 L506.3,280.5 L506.7,333.5 L507.1,280.7 L507.5,333.0 L507.9,281.2 L508.3,332.9 L508.7,281.6 L509.1,331.2 L509.5,281.8 L509.9,330.3 L510.3,283.2 L510.7,330.4 L511.1,283.5 L511.5,331.1 L511.9,284.1 L512.3,331.5 L512.7,282.0 L513.1,333.5 L513.5,282.6 L513.9,333.0 L514.3,282.4 L514.7,332.2 L515.1,282.7 L515.5,331.4 L515.9,281.7 L516.3,331.1 L516.7,281.7 L517.1,328.1 L517.5,281.4 L517.9,328.8 L518.3,280.4 L518.7,329.3 L519.1,279.8 L519.5,331.3 L519.9,279.2 L520.3,331.2 L520.7,278.6 L521.1,330.6 L521.5,280.6 L521.9,330.5 L522.3,279.5 L522.7,329.3 L523.1,277.2 L523.5,328.8 L523.9,278.8 L524.3,329.0 L524.7,278.3 L525.1,328.3 L525.5,278.1 L525.9,328.0 L526.3,276.0 L526.7,327.2 L527.1,275.7 L527.5,326.4 L527.9,275.5 L528.3,325.4 L528.7,275.2 L529.1,324.7 L529.5,274.5 L529.9,321.8 L530.3,274.0 L530.7,320.4 L531.1,276.6 L531.5,319.5 L531.9,275.8 L532.3,322.3 L532.7,275.3 L533.1,321.9 L533.5,275.8 L533.9,322.0 L534.3,275.8 L534.7,322.7 L535.1,276.6 L535.5,321.7 L535.9,276.2 L536.3,321.9 L536.7,276.0 L537.1,321.9 L537.5,276.1 L537.9,321.8 L538.3,274.9 L538.7,321.4 L539.1,274.8 L539.5,316.7 L539.9,274.8 L540.3,316.5 L540.7,274.4 L541.1,320.9 L541.5,273.4 L541.9,319.9 L542.3,271.1 L542.7,320.3 L543.1,270.7 L543.5,321.1 L543.9,270.2 L544.3,319.5 L544.7,269.8 L545.1,319.8 L545.5,269.1 L545.9,320.4 L546.3,268.8 L546.7,319.8 L547.1,267.9 L547.5,318.8 L547.9,268.2 L548.3,319.2 L548.7,268.4 L549.1,319.6 L549.5,268.4 L549.9,319.4 L550.3,267.9 L550.7,319.3 L551.1,267.3 L551.5,318.5 L551.9,267.4 L552.3,319.3 L552.7,266.9 L553.1,319.1 L553.5,267.7 L553.9,319.1 L554.3,267.8 L554.7,319.3 L555.1,267.1 L555.5,319.0 L555.9,266.7 L556.3,318.5 L556.7,267.5 L557.1,319.3 L557.5,267.4 L557.9,318.2 L558.3,266.7 L558.7,317.9 L559.1,266.3 L559.5,317.4 L559.9,268.0 L560.3,317.2 L560.7,268.0 L561.1,317.7 L561.5,265.8 L561.9,318.4 L562.3,266.0 L562.7,317.6 L563.1,266.9 L563.5,317.4 L563.9,267.6 L564.3,317.4 L564.7,267.2 L565.1,317.1 L565.5,266.7 L565.9,316.1 L566.3,266.7 L566.7,317.3 L567.1,266.5 L567.5,316.2 L567.9,266.5 L568.3,316.3 L568.7,265.9 L569.1,313.3 L569.5,265.8 L569.9,313.5 L570.3,265.9 L570.7,313.4 L571.1,266.0 L571.5,315.8 L571.9,266.3 L572.3,314.7 L572.7,266.0 L573.1,313.9 L573.5,268.4 L573.9,314.4 L574.3,268.0 L574.7,314.3 L575.1,268.5 L575.5,314.5 L575.9,266.1 L576.3,313.3 L576.7,265.2 L577.1,313.1 L577.5,265.7 L577.9,314.5 L578.3,265.3 L578.7,313.9 L579.1,265.8 L579.5,313.5 L579.9,265.4 L580.3,313.4 L580.7,265.4 L581.1,310.4 L581.5,265.2 L581.9,310.8 L582.3,264.8 L582.7,311.0 L583.1,265.4 L583.5,310.8 L583.9,264.8 L584.3,313.8 L584.7,265.0 L585.1,312.6 L585.5,265.3 L585.9,312.3 L586.3,265.2 L586.7,313.2 L587.1,265.0 L587.5,312.2 L587.9,264.9 L588.3,311.4 L588.7,265.2 L589.1,311.9 L589.5,265.6 L589.9,312.5 L590.3,264.6 L590.7,311.5 L591.1,265.0 L591.5,312.2 L591.9,264.6 L592.3,311.8 L592.7,264.2 L593.1,308.8 L593.5,264.1 L593.9,308.4 L594.3,263.7 L594.7,309.4 L595.1,264.1 L595.5,311.4 L595.9,263.4 L596.3,310.7 L596.7,263.3 L597.1,310.3 L597.5,263.0 L597.9,309.6 L598.3,261.9 L598.7,312.2 L599.1,260.7 L599.5,312.6 L599.9,259.7 L600.3,313.7 L600.7,259.2 L601.1,308.0 L601.5,258.3 L601.9,305.8 L602.3,256.5 L602.7,308.3 L603.1,256.1 L603.5,307.2 L603.9,254.8 L604.3,306.1 L604.7,256.0 L605.1,304.3 L605.5,253.9 L605.9,301.7 L606.3,250.9 L606.7,300.9 L607.1,248.6 L607.5,299.1 L607.9,247.4 L608.3,298.0 L608.7,247.2 L609.1,293.3 L609.5,248.2 L609.9,292.7 L610.3,247.3 L610.7,292.1 L611.1,246.3 L611.5,292.3 L611.9,244.5 L612.3,293.8 L612.7,243.4 L613.1,292.5 L613.5,240.9 L613.9,291.6 L614.3,239.0 L614.7,292.6 L615.1,237.6 L615.5,291.7 L615.9,238.0 L616.3,289.8 L616.7,236.7 L617.1,288.3 L617.5,235.2 L617.9,286.7 L618.3,233.8 L618.7,284.8 L619.1,231.4 L619.5,282.6 L619.9,228.9 L620.3,280.8 L620.7,228.2 L621.1,279.6 L621.5,226.1 L621.9,277.8 L622.3,224.7 L622.7,276.2 L623.1,221.0 L623.5,274.4 L623.9,218.3 L624.3,273.3 L624.7,219.3 L625.1,270.9 L625.5,219.3 L625.9,269.5 L626.3,219.7 L626.7,267.6 L627.1,219.5 L627.5,266.3 L627.9,219.4 L628.3,262.8 L628.7,217.0 L629.1,262.1 L629.5,221.4 L629.9,260.0 L630.3,221.2 L630.7,262.7 L631.1,221.6 L631.5,262.1 L631.9,221.1 L632.3,261.4 L632.7,218.8 L633.1,260.3 L633.5,218.2 L633.9,261.0 L634.3,218.0 L634.7,262.2 L635.1,221.3 L635.5,263.1 L635.9,220.6 L636.3,263.8 L636.7,220.6 L637.1,264.7 L637.5,217.0 L637.9,265.7 L638.3,217.7 L638.7,268.6 L639.1,217.0 L639.5,271.3 L639.9,217.0 L640.3,274.4 L640.7,217.2 L641.1,277.9 L641.5,220.2 L641.9,281.5 L642.3,223.2 L642.7,284.3 L643.1,227.9 L643.5,287.4 L643.9,232.4 L644.3,290.4 L644.7,240.0 L645.1,293.0 L645.5,245.2 L645.9,294.6 L646.3,249.8 L646.7,295.9 L647.1,250.7 L647.5,296.8 L647.9,250.6 L648.3,298.0 L648.7,251.1 L649.1,298.9 L649.5,252.4 L649.9,300.7 L650.3,255.1 L650.7,302.1 L651.1,255.9 L651.5,303.7 L651.9,257.1 L652.3,306.2 L652.7,258.5 L653.1,308.3 L653.5,260.0 L653.9,309.2 L654.3,259.6 L654.7,310.3 L655.1,260.2 L655.5,312.3 L655.9,265.1 L656.3,313.5 L656.7,266.7 L657.1,316.8 L657.5,264.7 L657.9,316.5 L658.3,265.3 L658.7,314.2 L659.1,265.4 L659.5,313.0 L659.9,266.0 L660.3,312.8 L660.7,267.5 L661.1,314.5 L661.5,267.6 L661.9,315.7 L662.3,270.2 L662.7,318.4 L663.1,271.3 L663.5,321.2 L663.9,273.0 L664.3,323.6 L664.7,274.3 L665.1,322.6 L665.5,274.6 L665.9,320.6 L666.3,275.6 L666.7,319.6 L667.1,276.3 L667.5,320.8 L667.9,276.1 L668.3,319.9 L668.7,276.9 L669.1,320.3 L669.5,277.1 L669.9,320.7 L670.3,277.4 L670.7,321.4 L671.1,278.3 L671.5,321.7 L671.9,278.7 L672.3,322.3 L672.7,278.3 L673.1,322.2 L673.5,278.7 L673.9,323.5 L674.3,278.9 L674.7,324.3 L675.1,279.4 L675.5,324.0 L675.9,279.3 L676.3,325.0 L676.7,279.4 L677.1,325.8 L677.5,279.4 L677.9,325.4 L678.3,279.7 L678.7,326.4 L679.1,280.0 L679.5,327.8 L679.9,279.3 L680.3,327.1 L680.7,280.3 L681.1,324.1 L681.5,280.3 L681.9,325.4 L682.3,280.5 L682.7,326.1 L683.1,280.8 L683.5,324.5 L683.9,282.0 L684.3,327.8 L684.7,281.2 L685.1,328.9 L685.5,281.7 L685.9,328.3 L686.3,281.6 L686.7,324.5 L687.1,281.6 L687.5,324.3 L687.9,285.3 L688.3,323.9 L688.7,285.7 L689.1,324.6 L689.5,285.3 L689.9,329.9 L690.3,285.6 L690.7,329.9 L691.1,282.8 L691.5,331.0 L691.9,283.0 L692.3,331.3 L692.7,282.8 L693.1,331.0 L693.5,283.6 L693.9,331.3 L694.3,283.9 L694.7,330.8 L695.1,283.9 L695.5,332.0 L695.9,284.4 L696.3,332.2 L696.7,284.8 L697.1,331.9 L697.5,285.0 L697.9,332.6 L698.3,285.5 L698.7,332.4 L699.1,286.1 L699.5,332.6 L699.9,286.9 L700.3,332.4 L700.7,286.5 L701.1,328.5 L701.5,287.9 L701.9,328.3 L702.3,288.1 L702.7,328.2 L703.1,288.5 L703.5,331.4 L703.9,288.2 L704.3,332.4 L704.7,288.7 L705.1,332.7 L705.5,288.9 L705.9,333.0 L706.3,289.2 L706.7,333.7 L707.1,288.8 L707.5,334.6 L707.9,290.1 L708.3,335.0 L708.7,289.9 L709.1,334.5 L709.5,290.0 L709.9,335.6 L710.3,289.8 L710.7,336.5 L711.1,290.3 L711.5,335.7 L711.9,291.1 L712.3,337.1 L712.7,292.0 L713.1,337.2 L713.5,291.8 L713.9,338.1 L714.3,292.0 L714.7,337.2 L715.1,292.8 L715.5,336.2 L715.9,292.1 L716.3,336.5 L716.7,291.9 L717.1,337.8 L717.5,292.8 L717.9,339.1 L718.3,297.4 L718.7,340.4 L719.1,295.9 L719.5,341.0 L719.9,295.5 L720.3,341.5 L720.7,295.8 L721.1,339.5 L721.5,290.9 L721.9,338.5 L722.3,291.6 L722.7,336.8 L723.1,292.2 L723.5,333.6 L723.9,291.5 L724.3,332.2 L724.7,291.1 L725.1,332.3 L725.5,291.0 L725.9,335.5 L726.3,291.0 L726.7,334.9 L727.1,291.7 L727.5,334.1 L727.9,290.8 L728.3,333.5 L728.7,295.8 L729.1,333.5 L729.5,295.4 L729.9,332.7 L730.3,294.9 L730.7,332.5 L731.1,290.2 L731.5,333.5 L731.9,289.9 L732.3,333.2 L732.7,291.3 L733.1,333.2 L733.5,290.9 L733.9,334.2 L734.3,291.3 L734.7,332.9 L735.1,290.8 L735.5,334.1 L735.9,291.3 L736.3,336.3 L736.7,291.3 L737.1,336.8 L737.5,291.5 L737.9,333.5 L738.3,290.9 L738.7,333.8 L739.1,291.1 L739.5,333.3 L739.9,291.8 L740.3,333.0 L740.7,292.2 L741.1,332.6 L741.5,292.7 L741.9,334.3 L742.3,293.0 L742.7,334.2 L743.1,296.8 L743.5,334.8 L743.9,297.0 L744.3,334.1 L744.7,292.9 L745.1,333.3 L745.5,290.5 L745.9,333.5 L746.3,287.7 L746.7,333.1 L747.1,283.8 L747.5,326.4 L747.9,279.7 L748.3,321.3 L748.7,276.5 L749.1,319.5 L749.5,274.3 L749.9,317.0 L750.3,273.4 L750.7,317.6 L751.1,275.9 L751.5,313.6 L751.9,278.1 L752.3,315.3 L752.7,280.1 L753.1,315.2 L753.5,281.2 L753.9,314.7 L754.3,281.0 L754.7,315.9 L755.1,281.9 L755.5,320.7 L755.9,282.3 L756.3,322.3 L756.7,283.8 L757.1,323.2 L757.5,284.8 L757.9,324.2 L758.3,284.3 L758.7,326.3 L759.1,284.9 L759.5,329.3 L759.9,285.6 L760.3,328.9 L760.7,285.8 L761.1,328.3 L761.5,285.4 L761.9,326.1 L762.3,286.2 L762.7,328.6 L763.1,287.1 L763.5,329.7 L763.9,287.0 L764.3,331.2 L764.7,287.0 L765.1,333.8 L765.5,288.4 L765.9,335.2 L766.3,292.4 L766.7,335.4 L767.1,291.2 L767.5,328.9 L767.9,290.3 L768.3,326.3 L768.7,284.9 L769.1,328.3 L769.5,281.7 L769.9,326.3 L770.3,278.4 L770.7,324.4 L771.1,276.5 L771.5,321.8 L771.9,274.1 L772.3,320.0 L772.7,271.4 L773.1,315.5 L773.5,267.9 L773.9,313.2 L774.3,264.7 L774.7,310.3 L775.1,260.3 L775.5,305.3 L775.9,258.1 L776.3,299.9 L776.7,255.1 L777.1,294.7 L777.5,252.2 L777.9,291.3 L778.3,249.5 L778.7,288.1 L779.1,247.1 L779.5,285.5 L779.9,246.3 L780.3,282.4 L780.7,243.1 L781.1,279.0 L781.5,240.7 L781.9,275.8 L782.3,238.2 L782.7,273.0 L783.1,236.5 L783.5,272.5 L783.9,234.8 L784.3,270.7 L784.7,232.0 L785.1,268.3 L785.5,228.7 L785.9,266.3 L786.3,225.3 L786.7,264.3 L787.1,222.1 L787.5,262.2 L787.9,219.8 L788.3,260.0 L788.7,218.6 L789.1,257.8 L789.5,217.7 L789.9,255.2 L790.3,216.2 L790.7,253.8 L791.1,215.8 L791.5,252.8 L791.9,216.9 L792.3,251.6 L792.7,216.0 L793.1,250.4 L793.5,214.5 L793.9,249.3 L794.3,212.9 L794.7,247.3 L795.1,208.9 L795.5,245.5 L795.9,207.5 L796.3,245.0 L796.7,205.8 L797.1,243.5 L797.5,204.9 L797.9,242.0 L798.3,203.9 L798.7,241.4 L799.1,202.0 L799.5,240.4 L799.9,201.4 L800.3,239.5 L800.7,200.6 L801.1,238.0 L801.5,199.9 L801.9,238.0 L802.3,199.1 L802.7,237.7 L803.1,198.4 L803.5,239.2 L803.9,198.9 L804.3,238.9 L804.7,198.4 L805.1,239.7 L805.5,199.9 L805.9,239.6 L806.3,202.7 L806.7,240.4 L807.1,203.1 L807.5,243.1 L807.9,201.8 L808.3,244.1 L808.7,204.1 L809.1,244.3 L809.5,204.8 L809.9,241.1 L810.3,205.2 L810.7,242.2 L811.1,207.2 L811.5,242.6 L811.9,207.7 L812.3,245.0 L812.7,207.3 L813.1,245.4 L813.5,207.1 L813.9,245.2 L814.3,206.2 L814.7,242.7 L815.1,207.8 L815.5,242.6 L815.9,210.1 L816.3,244.2 L816.7,212.0 L817.1,248.8 L817.5,212.8 L817.9,249.1 L818.3,213.3 L818.7,248.5 L819.1,213.7 L819.5,249.9 L819.9,213.0 L820.3,251.8 L820.7,215.0 L821.1,255.0 L821.5,216.4 L821.9,254.4 L822.3,216.9 L822.7,253.2 L823.1,216.5 L823.5,253.5 L823.9,216.5 L824.3,252.9 L824.7,216.3 L825.1,247.8 L825.5,217.9 L825.9,246.8 L826.3,219.9 L826.7,244.0 L827.1,222.4 L827.5,245.0 L827.9,222.2 L828.3,246.6 L828.7,222.5 L829.1,251.5 L829.5,223.0 L829.9,249.1 L830.3,223.1 L830.7,248.6 L831.1,224.5 L831.5,247.1 L831.9,224.6 L832.3,247.5 L832.7,225.4 L833.1,247.8 L833.5,226.7 L833.9,248.8 L834.3,227.5 L834.7,249.4 L835.1,228.0 L835.5,246.3 L835.9,227.9 L836.3,247.2 L836.7,229.2 L837.1,247.8 L837.5,228.5 L837.9,251.9 L838.3,228.4 L838.7,252.7 L839.1,231.6 L839.5,253.8 L839.9,231.9 L840.3,254.3 L840.7,232.4 L841.1,255.7 L841.5,232.1 L841.9,258.2 L842.3,232.5 L842.7,257.9" fill="none" stroke="#ED7D31" stroke-width="3" stroke-linejoin="round" stroke-linecap="round"/>
<line x1="238.4" y1="325.0" x2="238.4" y2="339.4" stroke="#ED7D31" stroke-width="2.8" stroke-linecap="round"/>
<line x1="277.5" y1="325.0" x2="277.5" y2="339.6" stroke="#ED7D31" stroke-width="2.8" stroke-linecap="round"/>
<path d="M38.3,260.9 L39.1,260.1 L39.9,260.8 L40.7,260.1 L41.5,260.3 L42.3,260.5 L43.1,259.9 L43.9,259.8 L44.7,259.5 L45.5,260.0 L46.3,260.0 L47.1,260.7 L47.9,260.4 L48.7,260.6 L49.5,260.8 L50.3,260.8 L51.1,261.9 L51.9,262.3 L52.7,260.5 L53.5,260.6 L54.3,260.7 L55.1,262.2 L55.9,261.9 L56.7,260.6 L57.5,260.7 L58.3,260.6 L59.1,261.0 L59.9,261.2 L60.7,261.4 L61.5,261.2 L62.3,261.1 L63.1,260.8 L63.9,260.9 L64.7,260.8 L65.5,261.1 L66.3,261.3 L67.1,261.0 L67.9,260.6 L68.7,260.6 L69.5,261.0 L70.3,260.6 L71.1,261.2 L71.9,260.6 L72.7,260.9 L73.5,261.1 L74.3,261.3 L75.1,261.1 L75.9,261.1 L76.7,261.1 L77.5,260.9 L78.3,260.5 L79.1,260.7 L79.9,260.3 L80.7,260.3 L81.5,261.2 L82.3,260.4 L83.1,260.5 L83.9,260.9 L84.7,261.0 L85.5,260.8 L86.3,260.6 L87.1,261.0 L87.9,260.5 L88.7,260.2 L89.5,260.0 L90.3,260.1 L91.1,260.3 L91.9,260.0 L92.7,260.0 L93.5,260.7 L94.3,260.5 L95.1,260.2 L95.9,260.4 L96.7,260.3 L97.5,260.5 L98.3,260.6 L99.1,260.5 L99.9,260.1 L100.7,260.3 L101.5,259.9 L102.3,260.4 L103.1,260.3 L103.9,260.8 L104.7,260.6 L105.5,260.5 L106.3,262.2 L107.1,262.4 L107.9,262.2 L108.7,262.4 L109.5,259.7 L110.3,260.1 L111.1,259.7 L111.9,259.9 L112.7,259.9 L113.5,259.8 L114.3,260.0 L115.1,259.8 L115.9,259.9 L116.7,259.8 L117.5,260.0 L118.3,259.7 L119.1,259.8 L119.9,259.6 L120.7,259.3 L121.5,259.2 L122.3,259.6 L123.1,259.5 L123.9,259.6 L124.7,260.0 L125.5,259.8 L126.3,259.8 L127.1,260.0 L127.9,259.0 L128.7,259.4 L129.5,259.7 L130.3,259.5 L131.1,259.3 L131.9,259.5 L132.7,259.7 L133.5,259.0 L134.3,259.2 L135.1,259.4 L135.9,259.3 L136.7,259.5 L137.5,259.6 L138.3,259.3 L139.1,259.3 L139.9,258.8 L140.7,259.2 L141.5,258.7 L142.3,258.8 L143.1,258.9 L143.9,258.4 L144.7,258.4 L145.5,258.1 L146.3,258.3 L147.1,258.5 L147.9,257.9 L148.7,258.4 L149.5,258.3 L150.3,257.9 L151.1,258.1 L151.9,258.1 L152.7,258.3 L153.5,257.9 L154.3,257.6 L155.1,257.9 L155.9,258.0 L156.7,258.0 L157.5,257.3 L158.3,257.3 L159.1,257.4 L159.9,257.4 L160.7,257.2 L161.5,257.4 L162.3,257.0 L163.1,256.8 L163.9,257.1 L164.7,256.7 L165.5,257.1 L166.3,258.5 L167.1,258.8 L167.9,258.8 L168.7,259.0 L169.5,259.0 L170.3,257.0 L171.1,256.8 L171.9,257.2 L172.7,256.8 L173.5,257.2 L174.3,256.7 L175.1,256.2 L175.9,256.1 L176.7,256.1 L177.5,256.2 L178.3,256.3 L179.1,255.7 L179.9,256.9 L180.7,257.3 L181.5,257.3 L182.3,256.7 L183.1,256.1 L183.9,256.0 L184.7,256.3 L185.5,255.7 L186.3,255.2 L187.1,256.0 L187.9,255.9 L188.7,255.0 L189.5,255.5 L190.3,255.3 L191.1,254.8 L191.9,254.9 L192.7,255.4 L193.5,255.0 L194.3,254.7 L195.1,254.5 L195.9,254.7 L196.7,254.8 L197.5,254.7 L198.3,255.0 L199.1,254.2 L199.9,254.8 L200.7,254.5 L201.5,254.8 L202.3,254.7 L203.1,254.4 L203.9,254.2 L204.7,254.3 L205.5,254.2 L206.3,254.8 L207.1,254.2 L207.9,254.4 L208.7,254.3 L209.5,253.7 L210.3,254.3 L211.1,253.9 L211.9,253.6 L212.7,253.4 L213.5,253.5 L214.3,253.5 L215.1,253.2 L215.9,253.5 L216.7,253.5 L217.5,253.1 L218.3,253.8 L219.1,253.5 L219.9,253.4 L220.7,253.5 L221.5,253.6 L222.3,253.6 L223.1,253.3 L223.9,253.2 L224.7,253.5 L225.5,253.1 L226.3,252.9 L227.1,253.2 L227.9,253.2 L228.7,252.9 L229.5,253.2 L230.3,253.3 L231.1,253.1 L231.9,253.0 L232.7,252.9 L233.5,253.1 L234.3,254.1 L235.1,253.9 L235.9,254.3 L236.7,253.9 L237.5,252.3 L238.3,255.4 L239.1,255.1 L239.9,252.3 L240.7,252.5 L241.5,252.6 L242.3,252.8 L243.1,252.8 L243.9,252.9 L244.7,252.9 L245.5,253.2 L246.3,253.1 L247.1,253.0 L247.9,252.8 L248.7,253.3 L249.5,252.6 L250.3,253.1 L251.1,252.9 L251.9,252.9 L252.7,252.8 L253.5,252.8 L254.3,252.3 L255.1,252.0 L255.9,252.4 L256.7,252.4 L257.5,251.8 L258.3,252.0 L259.1,252.3 L259.9,252.1 L260.7,252.0 L261.5,252.0 L262.3,251.9 L263.1,252.3 L263.9,252.3 L264.7,252.5 L265.5,252.2 L266.3,252.6 L267.1,252.9 L267.9,253.1 L268.7,252.9 L269.5,252.8 L270.3,253.3 L271.1,253.7 L271.9,254.0 L272.7,253.9 L273.5,254.3 L274.3,254.4 L275.1,254.5 L275.9,255.3 L276.7,255.4 L277.5,255.0 L278.3,255.4 L279.1,255.1 L279.9,254.8 L280.7,254.6 L281.5,254.9 L282.3,255.2 L283.1,255.5 L283.9,255.2 L284.7,255.2 L285.5,255.5 L286.3,255.7 L287.1,255.8 L287.9,255.5 L288.7,256.3 L289.5,256.4 L290.3,256.4 L291.1,256.1 L291.9,256.4 L292.7,256.2 L293.5,256.5 L294.3,256.3 L295.1,256.7 L295.9,256.3 L296.7,256.7 L297.5,256.2 L298.3,256.3 L299.1,256.4 L299.9,256.4 L300.7,256.5 L301.5,256.7 L302.3,257.1 L303.1,257.2 L303.9,257.1 L304.7,257.5 L305.5,257.3 L306.3,257.4 L307.1,256.8 L307.9,257.0 L308.7,257.2 L309.5,257.1 L310.3,256.7 L311.1,257.3 L311.9,257.2 L312.7,257.0 L313.5,257.0 L314.3,257.5 L315.1,257.8 L315.9,257.0 L316.7,257.8 L317.5,257.6 L318.3,257.5 L319.1,258.1 L319.9,257.6 L320.7,257.7 L321.5,258.1 L322.3,257.5 L323.1,257.8 L323.9,258.0 L324.7,257.8 L325.5,257.5 L326.3,258.1 L327.1,257.7 L327.9,258.0 L328.7,257.6 L329.5,258.1 L330.3,258.4 L331.1,257.9 L331.9,258.0 L332.7,259.0 L333.5,258.2 L334.3,258.4 L335.1,258.6 L335.9,258.9 L336.7,258.7 L337.5,258.9 L338.3,259.0 L339.1,258.7 L339.9,258.9 L340.7,258.9 L341.5,258.7 L342.3,259.4 L343.1,259.0 L343.9,258.6 L344.7,258.6 L345.5,258.7 L346.3,259.1 L347.1,259.1 L347.9,259.5 L348.7,259.1 L349.5,259.5 L350.3,260.0 L351.1,259.2 L351.9,259.1 L352.7,259.2 L353.5,259.6 L354.3,259.6 L355.1,259.6 L355.9,259.3 L356.7,259.3 L357.5,259.2 L358.3,259.2 L359.1,259.0 L359.9,259.8 L360.7,259.4 L361.5,259.7 L362.3,259.7 L363.1,259.4 L363.9,259.0 L364.7,259.5 L365.5,259.5 L366.3,259.5 L367.1,259.5 L367.9,259.3 L368.7,259.1 L369.5,258.8 L370.3,259.3 L371.1,259.0 L371.9,259.0 L372.7,258.9 L373.5,259.3 L374.3,258.9 L375.1,260.7 L375.9,260.8 L376.7,261.0 L377.5,259.3 L378.3,259.0 L379.1,258.5 L379.9,258.7 L380.7,258.9 L381.5,258.8 L382.3,259.3 L383.1,260.9 L383.9,260.0 L384.7,259.0 L385.5,258.7 L386.3,258.9 L387.1,258.6 L387.9,258.6 L388.7,258.4 L389.5,258.6 L390.3,258.9 L391.1,258.2 L391.9,258.2 L392.7,258.7 L393.5,258.6 L394.3,258.7 L395.1,258.6 L395.9,258.5 L396.7,257.8 L397.5,257.6 L398.3,257.6 L399.1,257.5 L399.9,258.1 L400.7,257.3 L401.5,257.2 L402.3,257.8 L403.1,256.9 L403.9,256.7 L404.7,256.2 L405.5,256.5 L406.3,255.9 L407.1,255.3 L407.9,255.6 L408.7,255.2 L409.5,254.8 L410.3,256.1 L411.1,256.0 L411.9,255.8 L412.7,254.3 L413.5,253.7 L414.3,252.9 L415.1,252.8 L415.9,252.3 L416.7,251.9 L417.5,251.3 L418.3,253.0 L419.1,253.1 L419.9,250.4 L420.7,249.6 L421.5,249.1 L422.3,248.5 L423.1,248.3 L423.9,247.4 L424.7,247.0 L425.5,247.2 L426.3,247.0 L427.1,245.9 L427.9,245.2 L428.7,244.1 L429.5,243.2 L430.3,242.0 L431.1,241.7 L431.9,241.3 L432.7,241.2 L433.5,240.9 L434.3,241.1 L435.1,240.3 L435.9,240.4 L436.7,240.7 L437.5,239.6 L438.3,242.0 L439.1,241.8 L439.9,241.5 L440.7,241.1 L441.5,240.7 L442.3,238.6 L443.1,238.8 L443.9,238.6 L444.7,241.1 L445.5,241.0 L446.3,241.2 L447.1,239.2 L447.9,239.3 L448.7,242.5 L449.5,242.7 L450.3,242.0 L451.1,238.4 L451.9,238.2 L452.7,237.2 L453.5,238.0 L454.3,237.1 L455.1,237.1 L455.9,236.3 L456.7,236.0 L457.5,236.5 L458.3,236.5 L459.1,235.0 L459.9,234.4 L460.7,233.8 L461.5,233.4 L462.3,233.1 L463.1,232.1 L463.9,231.0 L464.7,230.5 L465.5,230.7 L466.3,229.9 L467.1,228.9 L467.9,229.7 L468.7,228.8 L469.5,230.2 L470.3,230.7 L471.1,229.7 L471.9,229.3 L472.7,229.4 L473.5,226.4 L474.3,225.9 L475.1,226.2 L475.9,226.3 L476.7,225.8 L477.5,226.0 L478.3,226.3 L479.1,226.1 L479.9,227.8 L480.7,227.9 L481.5,229.3 L482.3,229.8 L483.1,230.6 L483.9,231.1 L484.7,230.4 L485.5,228.7 L486.3,227.7 L487.1,227.4 L487.9,226.5 L488.7,225.3 L489.5,223.8 L490.3,223.3 L491.1,222.6 L491.9,221.5 L492.7,221.8 L493.5,221.5 L494.3,221.0 L495.1,220.5 L495.9,221.0 L496.7,222.2 L497.5,223.2 L498.3,223.0 L499.1,224.9 L499.9,225.7 L500.7,225.2 L501.5,224.8 L502.3,223.5 L503.1,222.7 L503.9,222.6 L504.7,221.9 L505.5,220.4 L506.3,219.5 L507.1,218.6 L507.9,218.3 L508.7,217.6 L509.5,216.4 L510.3,216.3 L511.1,214.9 L511.9,214.1 L512.7,213.4 L513.5,213.2 L514.3,212.7 L515.1,211.8 L515.9,211.7 L516.7,210.8 L517.5,210.5 L518.3,209.5 L519.1,209.2 L519.9,208.6 L520.7,208.3 L521.5,208.4 L522.3,206.6 L523.1,205.4 L523.9,203.6 L524.7,201.5 L525.5,199.9 L526.3,198.3 L527.1,195.7 L527.9,194.5 L528.7,193.5 L529.5,191.8 L530.3,191.3 L531.1,190.0 L531.9,188.8 L532.7,187.6 L533.5,187.4 L534.3,186.7 L535.1,185.1 L535.9,184.4 L536.7,183.5 L537.5,181.9 L538.3,181.3 L539.1,180.6 L539.9,183.5 L540.7,182.4 L541.5,182.0 L542.3,180.1 L543.1,179.6 L543.9,175.8 L544.7,175.4 L545.5,175.1 L546.3,174.0 L547.1,173.3 L547.9,171.8 L548.7,172.1 L549.5,170.8 L550.3,170.4 L551.1,169.8 L551.9,168.4 L552.7,168.8 L553.5,167.9 L554.3,167.3 L555.1,167.0 L555.9,166.6 L556.7,166.1 L557.5,165.0 L558.3,165.2 L559.1,164.9 L559.9,163.3 L560.7,163.8 L561.5,163.0 L562.3,162.5 L563.1,162.3 L563.9,161.9 L564.7,161.7 L565.5,161.8 L566.3,161.3 L567.1,160.9 L567.9,160.3 L568.7,159.5 L569.5,159.6 L570.3,158.7 L571.1,158.7 L571.9,158.2 L572.7,157.9 L573.5,157.7 L574.3,156.9 L575.1,157.3 L575.9,156.7 L576.7,156.9 L577.5,157.3 L578.3,158.3 L579.1,158.5 L579.9,158.3 L580.7,157.1 L581.5,157.6 L582.3,154.7 L583.1,154.3 L583.9,154.8 L584.7,154.5 L585.5,153.8 L586.3,153.9 L587.1,153.1 L587.9,152.9 L588.7,153.4 L589.5,152.9 L590.3,152.7 L591.1,152.5 L591.9,152.1 L592.7,151.8 L593.5,152.1 L594.3,151.8 L595.1,150.9 L595.9,151.7 L596.7,152.0 L597.5,151.1 L598.3,151.4 L599.1,150.3 L599.9,150.3 L600.7,151.1 L601.5,150.8 L602.3,150.9 L603.1,151.3 L603.9,154.2 L604.7,156.5 L605.5,159.7 L606.3,163.2 L607.1,166.6 L607.9,170.0 L608.7,171.4 L609.5,172.5 L610.3,174.0 L611.1,175.5 L611.9,176.8 L612.7,177.6 L613.5,178.2 L614.3,178.9 L615.1,179.9 L615.9,180.3 L616.7,180.5 L617.5,183.7 L618.3,184.4 L619.1,185.0 L619.9,184.9 L620.7,183.3 L621.5,183.1 L622.3,182.7 L623.1,182.3 L623.9,182.6 L624.7,182.9 L625.5,182.4 L626.3,182.2 L627.1,181.8 L627.9,183.8 L628.7,183.5 L629.5,184.0 L630.3,183.8 L631.1,182.9 L631.9,180.8 L632.7,184.9 L633.5,184.7 L634.3,185.2 L635.1,184.9 L635.9,182.1 L636.7,181.3 L637.5,181.1 L638.3,181.7 L639.1,181.7 L639.9,182.0 L640.7,184.5 L641.5,184.4 L642.3,185.8 L643.1,186.9 L643.9,188.1 L644.7,186.4 L645.5,187.9 L646.3,188.7 L647.1,188.9 L647.9,189.8 L648.7,190.0 L649.5,190.4 L650.3,190.6 L651.1,191.0 L651.9,194.5 L652.7,195.6 L653.5,191.9 L654.3,192.3 L655.1,192.3 L655.9,191.9 L656.7,193.2 L657.5,193.1 L658.3,193.0 L659.1,194.0 L659.9,193.8 L660.7,194.4 L661.5,195.1 L662.3,198.2 L663.1,198.9 L663.9,198.7 L664.7,195.8 L665.5,195.1 L666.3,194.8 L667.1,195.2 L667.9,195.2 L668.7,194.1 L669.5,194.6 L670.3,194.7 L671.1,194.4 L671.9,195.0 L672.7,194.7 L673.5,193.6 L674.3,193.2 L675.1,196.1 L675.9,195.9 L676.7,192.6 L677.5,192.5 L678.3,192.8 L679.1,198.0 L679.9,198.1 L680.7,198.4 L681.5,192.9 L682.3,193.3 L683.1,192.6 L683.9,197.7 L684.7,198.0 L685.5,198.6 L686.3,198.1 L687.1,193.5 L687.9,192.7 L688.7,192.9 L689.5,193.0 L690.3,192.5 L691.1,192.6 L691.9,193.0 L692.7,191.9 L693.5,191.2 L694.3,190.2 L695.1,190.7 L695.9,189.8 L696.7,192.2 L697.5,193.3 L698.3,193.3 L699.1,194.0 L699.9,195.5 L700.7,195.4 L701.5,195.1 L702.3,194.2 L703.1,198.7 L703.9,197.4 L704.7,196.6 L705.5,196.6 L706.3,192.3 L707.1,192.9 L707.9,193.0 L708.7,195.3 L709.5,194.3 L710.3,194.9 L711.1,194.6 L711.9,191.6 L712.7,191.9 L713.5,191.5 L714.3,191.3 L715.1,191.7 L715.9,190.6 L716.7,190.6 L717.5,190.8 L718.3,191.0 L719.1,190.8 L719.9,190.7 L720.7,191.8 L721.5,190.4 L722.3,190.1 L723.1,190.6 L723.9,190.9 L724.7,190.1 L725.5,189.8 L726.3,191.7 L727.1,192.3 L727.9,192.4 L728.7,192.3 L729.5,192.4 L730.3,189.8 L731.1,189.5 L731.9,190.1 L732.7,189.9 L733.5,192.8 L734.3,193.2 L735.1,188.4 L735.9,188.9 L736.7,188.5 L737.5,188.2 L738.3,188.4 L739.1,188.7 L739.9,187.7 L740.7,188.1 L741.5,186.8 L742.3,187.0 L743.1,186.3 L743.9,186.5 L744.7,186.1 L745.5,185.8 L746.3,187.3 L747.1,186.9 L747.9,186.1 L748.7,185.9 L749.5,186.2 L750.3,186.5 L751.1,189.5 L751.9,189.2 L752.7,189.7 L753.5,186.6 L754.3,186.2 L755.1,186.5 L755.9,185.7 L756.7,184.4 L757.5,184.7 L758.3,188.3 L759.1,187.6 L759.9,187.8 L760.7,182.3 L761.5,182.9 L762.3,182.3 L763.1,181.9 L763.9,185.1 L764.7,185.1 L765.5,184.7 L766.3,184.3 L767.1,180.3 L767.9,179.9 L768.7,182.0 L769.5,181.5 L770.3,179.8 L771.1,179.0 L771.9,178.1 L772.7,177.9 L773.5,179.0 L774.3,177.4 L775.1,177.4 L775.9,177.5 L776.7,176.9 L777.5,175.9 L778.3,178.6 L779.1,178.5 L779.9,178.3 L780.7,175.8 L781.5,175.4 L782.3,174.8 L783.1,174.7 L783.9,173.8 L784.7,173.9 L785.5,173.1 L786.3,172.9 L787.1,172.9 L787.9,171.6 L788.7,171.9 L789.5,170.4 L790.3,169.6 L791.1,169.0 L791.9,169.1 L792.7,169.2 L793.5,168.3 L794.3,166.4 L795.1,165.7 L795.9,164.6 L796.7,163.9 L797.5,163.3 L798.3,162.2 L799.1,161.8 L799.9,160.9 L800.7,160.3 L801.5,159.7 L802.3,158.3 L803.1,155.3 L803.9,153.2 L804.7,150.6 L805.5,152.3 L806.3,151.1 L807.1,149.6 L807.9,147.7 L808.7,146.9 L809.5,142.7 L810.3,141.0 L811.1,140.4 L811.9,138.9 L812.7,137.4 L813.5,135.7 L814.3,136.3 L815.1,135.6 L815.9,133.7 L816.7,133.3 L817.5,131.5 L818.3,128.2 L819.1,129.2 L819.9,128.4 L820.7,127.0 L821.5,125.3 L822.3,124.9 L823.1,125.0 L823.9,124.0 L824.7,124.2 L825.5,124.7 L826.3,126.0 L827.1,125.3 L827.9,125.4 L828.7,124.6 L829.5,124.2 L830.3,124.8 L831.1,124.4 L831.9,123.5 L832.7,122.7 L833.5,122.8 L834.3,122.4 L835.1,121.5 L835.9,120.5 L836.7,120.2 L837.5,119.8 L838.3,119.0 L839.1,118.4 L839.9,118.3 L840.7,118.9 L841.5,119.3 L842.3,118.4 L842.7,143.4 L841.9,144.2 L841.1,144.7 L840.3,144.0 L839.5,143.7 L838.7,142.5 L837.9,142.5 L837.1,142.1 L836.3,142.9 L835.5,143.1 L834.7,143.5 L833.9,144.2 L833.1,144.4 L832.3,145.3 L831.5,145.2 L830.7,145.6 L829.9,146.2 L829.1,146.5 L828.3,147.4 L827.5,147.6 L826.7,149.1 L825.9,150.0 L825.1,152.1 L824.3,152.5 L823.5,154.2 L822.7,154.3 L821.9,155.1 L821.1,153.8 L820.3,154.4 L819.5,155.3 L818.7,155.3 L817.9,155.9 L817.1,159.0 L816.3,160.4 L815.5,161.5 L814.7,163.2 L813.9,163.9 L813.1,164.9 L812.3,166.0 L811.5,167.2 L810.7,168.8 L809.9,170.7 L809.1,172.0 L808.3,173.1 L807.5,173.4 L806.7,175.6 L805.9,178.0 L805.1,180.7 L804.3,185.0 L803.5,186.3 L802.7,188.5 L801.9,189.1 L801.1,189.7 L800.3,191.0 L799.5,192.4 L798.7,192.8 L797.9,193.1 L797.1,194.2 L796.3,194.8 L795.5,194.5 L794.7,195.7 L793.9,196.4 L793.1,196.5 L792.3,197.5 L791.5,197.8 L790.7,198.3 L789.9,199.8 L789.1,200.5 L788.3,200.8 L787.5,201.6 L786.7,202.5 L785.9,202.7 L785.1,203.1 L784.3,203.2 L783.5,204.2 L782.7,203.8 L781.9,204.8 L781.1,204.3 L780.3,205.1 L779.5,206.0 L778.7,206.0 L777.9,205.6 L777.1,206.9 L776.3,202.4 L775.5,202.8 L774.7,207.5 L773.9,208.9 L773.1,208.9 L772.3,209.8 L771.5,210.0 L770.7,207.5 L769.9,208.9 L769.1,209.0 L768.3,209.3 L767.5,210.1 L766.7,212.5 L765.9,213.7 L765.1,214.9 L764.3,215.4 L763.5,216.5 L762.7,217.0 L761.9,216.7 L761.1,216.5 L760.3,216.3 L759.5,215.8 L758.7,216.2 L757.9,216.2 L757.1,216.6 L756.3,217.1 L755.5,213.4 L754.7,213.8 L753.9,214.7 L753.1,215.6 L752.3,215.5 L751.5,220.6 L750.7,223.5 L749.9,223.8 L749.1,221.6 L748.3,221.4 L747.5,220.6 L746.7,220.6 L745.9,219.6 L745.1,220.3 L744.3,220.9 L743.5,221.2 L742.7,221.0 L741.9,215.7 L741.1,215.5 L740.3,216.8 L739.5,216.9 L738.7,216.8 L737.9,221.5 L737.1,219.6 L736.3,219.2 L735.5,218.7 L734.7,218.9 L733.9,220.0 L733.1,220.1 L732.3,220.7 L731.5,221.0 L730.7,223.5 L729.9,224.5 L729.1,224.7 L728.3,224.7 L727.5,225.1 L726.7,225.2 L725.9,224.5 L725.1,224.3 L724.3,221.3 L723.5,221.2 L722.7,225.1 L721.9,224.1 L721.1,224.1 L720.3,223.9 L719.5,219.0 L718.7,219.4 L717.9,218.8 L717.1,220.6 L716.3,220.7 L715.5,220.7 L714.7,223.7 L713.9,224.3 L713.1,224.1 L712.3,223.0 L711.5,223.4 L710.7,223.1 L709.9,223.2 L709.1,223.3 L708.3,222.4 L707.5,222.3 L706.7,221.9 L705.9,221.2 L705.1,220.7 L704.3,223.4 L703.5,221.8 L702.7,222.7 L701.9,223.9 L701.1,227.0 L700.3,228.9 L699.5,231.2 L698.7,228.8 L697.9,227.9 L697.1,227.1 L696.3,226.6 L695.5,221.9 L694.7,221.2 L693.9,225.5 L693.1,226.1 L692.3,226.2 L691.5,226.1 L690.7,225.8 L689.9,225.6 L689.1,226.4 L688.3,226.3 L687.5,226.3 L686.7,225.7 L685.9,226.9 L685.1,226.2 L684.3,226.5 L683.5,225.8 L682.7,225.8 L681.9,226.6 L681.1,226.5 L680.3,226.7 L679.5,226.9 L678.7,227.2 L677.9,226.1 L677.1,226.6 L676.3,226.1 L675.5,226.3 L674.7,226.4 L673.9,222.6 L673.1,222.9 L672.3,223.0 L671.5,223.0 L670.7,223.0 L669.9,227.1 L669.1,227.0 L668.3,227.2 L667.5,227.4 L666.7,226.2 L665.9,226.1 L665.1,226.6 L664.3,228.0 L663.5,228.2 L662.7,229.0 L661.9,229.5 L661.1,229.3 L660.3,229.2 L659.5,230.2 L658.7,230.3 L657.9,230.9 L657.1,230.6 L656.3,227.5 L655.5,228.1 L654.7,232.7 L653.9,232.2 L653.1,231.3 L652.3,231.5 L651.5,231.8 L650.7,228.4 L649.9,228.5 L649.1,227.7 L648.3,227.6 L647.5,227.4 L646.7,229.4 L645.9,227.7 L645.1,223.8 L644.3,222.6 L643.5,221.4 L642.7,223.5 L641.9,221.4 L641.1,218.3 L640.3,216.6 L639.5,217.1 L638.7,218.0 L637.9,217.4 L637.1,217.1 L636.3,217.6 L635.5,218.0 L634.7,219.9 L633.9,220.4 L633.1,220.4 L632.3,220.6 L631.5,221.0 L630.7,221.0 L629.9,220.6 L629.1,221.1 L628.3,221.1 L627.5,221.5 L626.7,221.6 L625.9,221.9 L625.1,220.7 L624.3,221.3 L623.5,221.8 L622.7,221.2 L621.9,221.0 L621.1,219.7 L620.3,220.7 L619.5,222.0 L618.7,222.4 L617.9,222.2 L617.1,221.3 L616.3,221.0 L615.5,220.8 L614.7,220.3 L613.9,219.1 L613.1,218.7 L612.3,216.2 L611.5,215.3 L610.7,214.1 L609.9,215.3 L609.1,213.6 L608.3,212.0 L607.5,210.7 L606.7,209.2 L605.9,207.3 L605.1,203.1 L604.3,195.7 L603.5,191.7 L602.7,189.9 L601.9,188.5 L601.1,190.6 L600.3,190.6 L599.5,186.9 L598.7,188.1 L597.9,188.0 L597.1,188.6 L596.3,188.3 L595.5,192.6 L594.7,193.1 L593.9,192.8 L593.1,192.9 L592.3,193.0 L591.5,192.5 L590.7,192.7 L589.9,192.7 L589.1,192.7 L588.3,193.2 L587.5,191.3 L586.7,192.4 L585.9,192.8 L585.1,195.3 L584.3,192.8 L583.5,193.4 L582.7,196.5 L581.9,195.4 L581.1,193.4 L580.3,193.8 L579.5,193.5 L578.7,193.9 L577.9,195.5 L577.1,196.3 L576.3,197.0 L575.5,197.4 L574.7,197.7 L573.9,197.4 L573.1,196.9 L572.3,197.3 L571.5,198.0 L570.7,198.8 L569.9,199.4 L569.1,196.8 L568.3,196.7 L567.5,199.2 L566.7,199.6 L565.9,196.5 L565.1,197.2 L564.3,198.2 L563.5,201.8 L562.7,202.0 L561.9,202.0 L561.1,203.1 L560.3,203.5 L559.5,203.2 L558.7,204.4 L557.9,204.3 L557.1,205.2 L556.3,205.6 L555.5,206.4 L554.7,206.0 L553.9,205.9 L553.1,207.2 L552.3,207.3 L551.5,208.2 L550.7,208.8 L549.9,209.2 L549.1,209.7 L548.3,209.8 L547.5,210.0 L546.7,211.0 L545.9,211.1 L545.1,212.1 L544.3,213.3 L543.5,213.1 L542.7,214.4 L541.9,215.3 L541.1,216.5 L540.3,218.1 L539.5,218.2 L538.7,220.2 L537.9,220.9 L537.1,221.7 L536.3,222.6 L535.5,223.7 L534.7,224.7 L533.9,225.6 L533.1,226.4 L532.3,227.3 L531.5,229.1 L530.7,230.2 L529.9,231.7 L529.1,233.7 L528.3,235.5 L527.5,237.7 L526.7,240.0 L525.9,242.4 L525.1,243.8 L524.3,244.4 L523.5,245.8 L522.7,245.8 L521.9,248.8 L521.1,249.9 L520.3,250.1 L519.5,250.3 L518.7,251.3 L517.9,251.0 L517.1,251.8 L516.3,251.9 L515.5,253.0 L514.7,253.8 L513.9,254.6 L513.1,254.9 L512.3,254.6 L511.5,255.6 L510.7,256.4 L509.9,257.1 L509.1,258.8 L508.3,260.1 L507.5,260.1 L506.7,261.5 L505.9,261.9 L505.1,262.6 L504.3,263.6 L503.5,265.8 L502.7,266.3 L501.9,267.6 L501.1,269.0 L500.3,269.7 L499.5,269.4 L498.7,268.3 L497.9,267.2 L497.1,267.1 L496.3,265.8 L495.5,265.2 L494.7,265.0 L493.9,264.9 L493.1,266.2 L492.3,266.1 L491.5,266.4 L490.7,264.4 L489.9,265.4 L489.1,268.2 L488.3,269.7 L487.5,272.4 L486.7,276.0 L485.9,276.4 L485.1,276.9 L484.3,277.0 L483.5,275.9 L482.7,275.7 L481.9,275.0 L481.1,275.0 L480.3,273.9 L479.5,273.3 L478.7,272.3 L477.9,270.9 L477.1,267.3 L476.3,268.0 L475.5,267.8 L474.7,267.9 L473.9,268.1 L473.1,272.0 L472.3,273.0 L471.5,273.2 L470.7,273.9 L469.9,275.5 L469.1,275.6 L468.3,276.2 L467.5,276.7 L466.7,277.5 L465.9,278.1 L465.1,278.5 L464.3,278.1 L463.5,277.6 L462.7,277.5 L461.9,278.5 L461.1,278.8 L460.3,280.1 L459.5,280.4 L458.7,281.0 L457.9,281.3 L457.1,282.2 L456.3,279.6 L455.5,280.1 L454.7,280.1 L453.9,280.2 L453.1,280.7 L452.3,285.0 L451.5,285.0 L450.7,285.2 L449.9,284.6 L449.1,284.7 L448.3,281.6 L447.5,281.0 L446.7,282.9 L445.9,282.6 L445.1,283.1 L444.3,283.0 L443.5,283.0 L442.7,285.3 L441.9,284.7 L441.1,284.6 L440.3,284.8 L439.5,285.0 L438.7,284.6 L437.9,285.3 L437.1,285.6 L436.3,285.3 L435.5,286.3 L434.7,287.0 L433.9,287.2 L433.1,286.8 L432.3,287.4 L431.5,287.8 L430.7,288.7 L429.9,289.2 L429.1,288.8 L428.3,289.2 L427.5,289.9 L426.7,290.2 L425.9,288.9 L425.1,289.1 L424.3,289.4 L423.5,289.9 L422.7,293.5 L421.9,294.1 L421.1,294.4 L420.3,294.8 L419.5,295.4 L418.7,295.0 L417.9,295.2 L417.1,295.5 L416.3,296.0 L415.5,296.4 L414.7,297.0 L413.9,297.4 L413.1,296.5 L412.3,297.1 L411.5,296.9 L410.7,297.7 L409.9,298.3 L409.1,298.8 L408.3,298.9 L407.5,299.1 L406.7,299.1 L405.9,298.0 L405.1,297.7 L404.3,297.7 L403.5,299.5 L402.7,299.7 L401.9,300.3 L401.1,300.8 L400.3,300.7 L399.5,300.8 L398.7,300.5 L397.9,300.6 L397.1,301.1 L396.3,301.5 L395.5,301.4 L394.7,301.1 L393.9,301.1 L393.1,300.9 L392.3,301.5 L391.5,302.0 L390.7,302.1 L389.9,301.6 L389.1,301.8 L388.3,302.1 L387.5,301.5 L386.7,302.1 L385.9,302.1 L385.1,302.7 L384.3,302.3 L383.5,302.4 L382.7,302.6 L381.9,302.5 L381.1,302.8 L380.3,303.1 L379.5,302.7 L378.7,302.4 L377.9,303.0 L377.1,303.2 L376.3,303.4 L375.5,303.1 L374.7,303.3 L373.9,303.0 L373.1,303.2 L372.3,304.0 L371.5,303.6 L370.7,303.6 L369.9,304.1 L369.1,303.6 L368.3,303.8 L367.5,303.9 L366.7,303.9 L365.9,304.0 L365.1,304.0 L364.3,301.4 L363.5,301.5 L362.7,304.2 L361.9,304.7 L361.1,304.2 L360.3,304.1 L359.5,304.6 L358.7,304.9 L357.9,304.7 L357.1,304.7 L356.3,305.2 L355.5,304.9 L354.7,305.5 L353.9,305.1 L353.1,304.9 L352.3,305.5 L351.5,304.8 L350.7,305.0 L349.9,305.0 L349.1,304.7 L348.3,304.7 L347.5,304.8 L346.7,305.4 L345.9,305.3 L345.1,305.7 L344.3,305.9 L343.5,305.8 L342.7,306.7 L341.9,306.3 L341.1,306.9 L340.3,306.8 L339.5,306.0 L338.7,306.6 L337.9,306.8 L337.1,306.3 L336.3,306.7 L335.5,307.0 L334.7,306.6 L333.9,306.2 L333.1,306.3 L332.3,306.4 L331.5,305.7 L330.7,305.8 L329.9,305.2 L329.1,305.4 L328.3,305.2 L327.5,304.5 L326.7,304.8 L325.9,304.3 L325.1,304.3 L324.3,304.6 L323.5,304.2 L322.7,303.9 L321.9,303.9 L321.1,303.6 L320.3,304.3 L319.5,303.5 L318.7,303.5 L317.9,303.3 L317.1,302.4 L316.3,302.8 L315.5,302.9 L314.7,302.4 L313.9,302.9 L313.1,303.1 L312.3,303.0 L311.5,301.3 L310.7,301.6 L309.9,301.5 L309.1,301.2 L308.3,303.0 L307.5,302.8 L306.7,302.8 L305.9,302.7 L305.1,302.1 L304.3,302.8 L303.5,302.2 L302.7,302.0 L301.9,301.9 L301.1,301.7 L300.3,301.5 L299.5,301.8 L298.7,301.4 L297.9,301.9 L297.1,301.5 L296.3,301.1 L295.5,301.4 L294.7,300.9 L293.9,300.9 L293.1,300.5 L292.3,300.3 L291.5,300.4 L290.7,300.0 L289.9,300.2 L289.1,299.9 L288.3,299.2 L287.5,299.2 L286.7,299.0 L285.9,298.7 L285.1,298.5 L284.3,298.8 L283.5,297.2 L282.7,296.8 L281.9,297.0 L281.1,296.2 L280.3,296.5 L279.5,298.0 L278.7,298.0 L277.9,297.7 L277.1,294.1 L276.3,294.3 L275.5,294.5 L274.7,296.9 L273.9,297.0 L273.1,297.1 L272.3,296.7 L271.5,296.9 L270.7,296.9 L269.9,296.6 L269.1,296.7 L268.3,296.7 L267.5,296.7 L266.7,296.8 L265.9,296.2 L265.1,296.9 L264.3,296.8 L263.5,296.5 L262.7,296.7 L261.9,296.2 L261.1,296.0 L260.3,296.7 L259.5,296.5 L258.7,296.5 L257.9,296.4 L257.1,296.7 L256.3,296.7 L255.5,296.8 L254.7,296.0 L253.9,296.3 L253.1,296.5 L252.3,296.5 L251.5,296.0 L250.7,296.4 L249.9,295.8 L249.1,296.6 L248.3,296.6 L247.5,296.7 L246.7,296.7 L245.9,296.7 L245.1,293.7 L244.3,293.9 L243.5,294.1 L242.7,294.2 L241.9,294.4 L241.1,297.1 L240.3,296.5 L239.5,296.8 L238.7,296.6 L237.9,296.5 L237.1,296.1 L236.3,296.6 L235.5,295.9 L234.7,295.6 L233.9,295.8 L233.1,296.3 L232.3,295.6 L231.5,295.7 L230.7,296.0 L229.9,295.8 L229.1,295.4 L228.3,295.4 L227.5,295.5 L226.7,295.4 L225.9,295.0 L225.1,295.4 L224.3,295.7 L223.5,295.2 L222.7,295.5 L221.9,295.8 L221.1,295.8 L220.3,295.7 L219.5,296.1 L218.7,296.2 L217.9,295.7 L217.1,294.0 L216.3,294.0 L215.5,294.2 L214.7,294.2 L213.9,293.6 L213.1,296.3 L212.3,295.9 L211.5,296.2 L210.7,295.8 L209.9,295.9 L209.1,296.8 L208.3,296.6 L207.5,297.0 L206.7,296.8 L205.9,296.2 L205.1,297.0 L204.3,297.2 L203.5,297.2 L202.7,297.3 L201.9,297.4 L201.1,297.6 L200.3,297.7 L199.5,297.7 L198.7,297.4 L197.9,297.7 L197.1,297.5 L196.3,297.8 L195.5,297.9 L194.7,295.4 L193.9,295.2 L193.1,298.1 L192.3,297.7 L191.5,297.6 L190.7,297.9 L189.9,298.3 L189.1,298.1 L188.3,298.1 L187.5,298.7 L186.7,298.7 L185.9,298.4 L185.1,298.0 L184.3,298.4 L183.5,298.5 L182.7,298.3 L181.9,297.9 L181.1,298.5 L180.3,298.6 L179.5,299.0 L178.7,298.8 L177.9,299.0 L177.1,298.7 L176.3,299.1 L175.5,298.6 L174.7,298.7 L173.9,298.6 L173.1,299.1 L172.3,299.1 L171.5,298.9 L170.7,299.3 L169.9,299.0 L169.1,299.1 L168.3,299.3 L167.5,299.4 L166.7,299.5 L165.9,299.3 L165.1,299.0 L164.3,299.7 L163.5,299.2 L162.7,299.0 L161.9,299.4 L161.1,299.2 L160.3,299.2 L159.5,299.4 L158.7,300.0 L157.9,299.7 L157.1,298.1 L156.3,298.1 L155.5,298.0 L154.7,300.1 L153.9,300.1 L153.1,300.5 L152.3,300.3 L151.5,300.5 L150.7,300.6 L149.9,300.5 L149.1,300.2 L148.3,300.2 L147.5,300.8 L146.7,300.8 L145.9,301.0 L145.1,301.3 L144.3,300.7 L143.5,301.2 L142.7,301.4 L141.9,300.9 L141.1,300.9 L140.3,300.8 L139.5,301.0 L138.7,300.9 L137.9,301.3 L137.1,301.2 L136.3,301.9 L135.5,301.7 L134.7,301.6 L133.9,301.7 L133.1,299.2 L132.3,299.3 L131.5,299.5 L130.7,301.6 L129.9,301.8 L129.1,301.3 L128.3,301.6 L127.5,301.9 L126.7,301.8 L125.9,302.3 L125.1,302.2 L124.3,301.7 L123.5,301.9 L122.7,302.3 L121.9,302.3 L121.1,302.1 L120.3,302.4 L119.5,302.4 L118.7,302.8 L117.9,302.5 L117.1,302.3 L116.3,302.3 L115.5,303.0 L114.7,302.7 L113.9,302.4 L113.1,302.8 L112.3,301.9 L111.5,301.4 L110.7,300.4 L109.9,300.8 L109.1,300.6 L108.3,302.7 L107.5,303.2 L106.7,303.2 L105.9,303.1 L105.1,303.1 L104.3,303.3 L103.5,302.9 L102.7,302.6 L101.9,303.4 L101.1,303.6 L100.3,301.0 L99.5,301.3 L98.7,303.8 L97.9,303.7 L97.1,304.0 L96.3,303.6 L95.5,304.1 L94.7,304.0 L93.9,304.0 L93.1,304.4 L92.3,304.0 L91.5,303.8 L90.7,304.4 L89.9,304.4 L89.1,303.9 L88.3,304.5 L87.5,304.2 L86.7,304.5 L85.9,304.4 L85.1,304.3 L84.3,304.1 L83.5,304.1 L82.7,304.3 L81.9,302.8 L81.1,302.6 L80.3,302.3 L79.5,302.0 L78.7,303.9 L77.9,304.4 L77.1,304.1 L76.3,304.1 L75.5,304.1 L74.7,303.8 L73.9,303.5 L73.1,303.0 L72.3,303.2 L71.5,303.6 L70.7,303.8 L69.9,303.6 L69.1,303.6 L68.3,303.3 L67.5,303.2 L66.7,302.9 L65.9,303.0 L65.1,303.3 L64.3,303.4 L63.5,302.6 L62.7,303.3 L61.9,303.1 L61.1,303.0 L60.3,302.9 L59.5,302.7 L58.7,302.6 L57.9,302.9 L57.1,302.6 L56.3,302.8 L55.5,302.7 L54.7,300.2 L53.9,299.8 L53.1,299.9 L52.3,302.5 L51.5,302.7 L50.7,302.5 L49.9,302.3 L49.1,302.2 L48.3,301.9 L47.5,302.3 L46.7,302.5 L45.9,302.0 L45.1,301.9 L44.3,302.3 L43.5,301.6 L42.7,301.8 L41.9,301.6 L41.1,302.2 L40.3,302.0 L39.5,301.7 L38.7,301.8Z" fill="#A5A5A5"/><path d="M38.3,260.9 L38.7,301.8 L39.1,260.1 L39.5,301.7 L39.9,260.8 L40.3,302.0 L40.7,260.1 L41.1,302.2 L41.5,260.3 L41.9,301.6 L42.3,260.5 L42.7,301.8 L43.1,259.9 L43.5,301.6 L43.9,259.8 L44.3,302.3 L44.7,259.5 L45.1,301.9 L45.5,260.0 L45.9,302.0 L46.3,260.0 L46.7,302.5 L47.1,260.7 L47.5,302.3 L47.9,260.4 L48.3,301.9 L48.7,260.6 L49.1,302.2 L49.5,260.8 L49.9,302.3 L50.3,260.8 L50.7,302.5 L51.1,261.9 L51.5,302.7 L51.9,262.3 L52.3,302.5 L52.7,260.5 L53.1,299.9 L53.5,260.6 L53.9,299.8 L54.3,260.7 L54.7,300.2 L55.1,262.2 L55.5,302.7 L55.9,261.9 L56.3,302.8 L56.7,260.6 L57.1,302.6 L57.5,260.7 L57.9,302.9 L58.3,260.6 L58.7,302.6 L59.1,261.0 L59.5,302.7 L59.9,261.2 L60.3,302.9 L60.7,261.4 L61.1,303.0 L61.5,261.2 L61.9,303.1 L62.3,261.1 L62.7,303.3 L63.1,260.8 L63.5,302.6 L63.9,260.9 L64.3,303.4 L64.7,260.8 L65.1,303.3 L65.5,261.1 L65.9,303.0 L66.3,261.3 L66.7,302.9 L67.1,261.0 L67.5,303.2 L67.9,260.6 L68.3,303.3 L68.7,260.6 L69.1,303.6 L69.5,261.0 L69.9,303.6 L70.3,260.6 L70.7,303.8 L71.1,261.2 L71.5,303.6 L71.9,260.6 L72.3,303.2 L72.7,260.9 L73.1,303.0 L73.5,261.1 L73.9,303.5 L74.3,261.3 L74.7,303.8 L75.1,261.1 L75.5,304.1 L75.9,261.1 L76.3,304.1 L76.7,261.1 L77.1,304.1 L77.5,260.9 L77.9,304.4 L78.3,260.5 L78.7,303.9 L79.1,260.7 L79.5,302.0 L79.9,260.3 L80.3,302.3 L80.7,260.3 L81.1,302.6 L81.5,261.2 L81.9,302.8 L82.3,260.4 L82.7,304.3 L83.1,260.5 L83.5,304.1 L83.9,260.9 L84.3,304.1 L84.7,261.0 L85.1,304.3 L85.5,260.8 L85.9,304.4 L86.3,260.6 L86.7,304.5 L87.1,261.0 L87.5,304.2 L87.9,260.5 L88.3,304.5 L88.7,260.2 L89.1,303.9 L89.5,260.0 L89.9,304.4 L90.3,260.1 L90.7,304.4 L91.1,260.3 L91.5,303.8 L91.9,260.0 L92.3,304.0 L92.7,260.0 L93.1,304.4 L93.5,260.7 L93.9,304.0 L94.3,260.5 L94.7,304.0 L95.1,260.2 L95.5,304.1 L95.9,260.4 L96.3,303.6 L96.7,260.3 L97.1,304.0 L97.5,260.5 L97.9,303.7 L98.3,260.6 L98.7,303.8 L99.1,260.5 L99.5,301.3 L99.9,260.1 L100.3,301.0 L100.7,260.3 L101.1,303.6 L101.5,259.9 L101.9,303.4 L102.3,260.4 L102.7,302.6 L103.1,260.3 L103.5,302.9 L103.9,260.8 L104.3,303.3 L104.7,260.6 L105.1,303.1 L105.5,260.5 L105.9,303.1 L106.3,262.2 L106.7,303.2 L107.1,262.4 L107.5,303.2 L107.9,262.2 L108.3,302.7 L108.7,262.4 L109.1,300.6 L109.5,259.7 L109.9,300.8 L110.3,260.1 L110.7,300.4 L111.1,259.7 L111.5,301.4 L111.9,259.9 L112.3,301.9 L112.7,259.9 L113.1,302.8 L113.5,259.8 L113.9,302.4 L114.3,260.0 L114.7,302.7 L115.1,259.8 L115.5,303.0 L115.9,259.9 L116.3,302.3 L116.7,259.8 L117.1,302.3 L117.5,260.0 L117.9,302.5 L118.3,259.7 L118.7,302.8 L119.1,259.8 L119.5,302.4 L119.9,259.6 L120.3,302.4 L120.7,259.3 L121.1,302.1 L121.5,259.2 L121.9,302.3 L122.3,259.6 L122.7,302.3 L123.1,259.5 L123.5,301.9 L123.9,259.6 L124.3,301.7 L124.7,260.0 L125.1,302.2 L125.5,259.8 L125.9,302.3 L126.3,259.8 L126.7,301.8 L127.1,260.0 L127.5,301.9 L127.9,259.0 L128.3,301.6 L128.7,259.4 L129.1,301.3 L129.5,259.7 L129.9,301.8 L130.3,259.5 L130.7,301.6 L131.1,259.3 L131.5,299.5 L131.9,259.5 L132.3,299.3 L132.7,259.7 L133.1,299.2 L133.5,259.0 L133.9,301.7 L134.3,259.2 L134.7,301.6 L135.1,259.4 L135.5,301.7 L135.9,259.3 L136.3,301.9 L136.7,259.5 L137.1,301.2 L137.5,259.6 L137.9,301.3 L138.3,259.3 L138.7,300.9 L139.1,259.3 L139.5,301.0 L139.9,258.8 L140.3,300.8 L140.7,259.2 L141.1,300.9 L141.5,258.7 L141.9,300.9 L142.3,258.8 L142.7,301.4 L143.1,258.9 L143.5,301.2 L143.9,258.4 L144.3,300.7 L144.7,258.4 L145.1,301.3 L145.5,258.1 L145.9,301.0 L146.3,258.3 L146.7,300.8 L147.1,258.5 L147.5,300.8 L147.9,257.9 L148.3,300.2 L148.7,258.4 L149.1,300.2 L149.5,258.3 L149.9,300.5 L150.3,257.9 L150.7,300.6 L151.1,258.1 L151.5,300.5 L151.9,258.1 L152.3,300.3 L152.7,258.3 L153.1,300.5 L153.5,257.9 L153.9,300.1 L154.3,257.6 L154.7,300.1 L155.1,257.9 L155.5,298.0 L155.9,258.0 L156.3,298.1 L156.7,258.0 L157.1,298.1 L157.5,257.3 L157.9,299.7 L158.3,257.3 L158.7,300.0 L159.1,257.4 L159.5,299.4 L159.9,257.4 L160.3,299.2 L160.7,257.2 L161.1,299.2 L161.5,257.4 L161.9,299.4 L162.3,257.0 L162.7,299.0 L163.1,256.8 L163.5,299.2 L163.9,257.1 L164.3,299.7 L164.7,256.7 L165.1,299.0 L165.5,257.1 L165.9,299.3 L166.3,258.5 L166.7,299.5 L167.1,258.8 L167.5,299.4 L167.9,258.8 L168.3,299.3 L168.7,259.0 L169.1,299.1 L169.5,259.0 L169.9,299.0 L170.3,257.0 L170.7,299.3 L171.1,256.8 L171.5,298.9 L171.9,257.2 L172.3,299.1 L172.7,256.8 L173.1,299.1 L173.5,257.2 L173.9,298.6 L174.3,256.7 L174.7,298.7 L175.1,256.2 L175.5,298.6 L175.9,256.1 L176.3,299.1 L176.7,256.1 L177.1,298.7 L177.5,256.2 L177.9,299.0 L178.3,256.3 L178.7,298.8 L179.1,255.7 L179.5,299.0 L179.9,256.9 L180.3,298.6 L180.7,257.3 L181.1,298.5 L181.5,257.3 L181.9,297.9 L182.3,256.7 L182.7,298.3 L183.1,256.1 L183.5,298.5 L183.9,256.0 L184.3,298.4 L184.7,256.3 L185.1,298.0 L185.5,255.7 L185.9,298.4 L186.3,255.2 L186.7,298.7 L187.1,256.0 L187.5,298.7 L187.9,255.9 L188.3,298.1 L188.7,255.0 L189.1,298.1 L189.5,255.5 L189.9,298.3 L190.3,255.3 L190.7,297.9 L191.1,254.8 L191.5,297.6 L191.9,254.9 L192.3,297.7 L192.7,255.4 L193.1,298.1 L193.5,255.0 L193.9,295.2 L194.3,254.7 L194.7,295.4 L195.1,254.5 L195.5,297.9 L195.9,254.7 L196.3,297.8 L196.7,254.8 L197.1,297.5 L197.5,254.7 L197.9,297.7 L198.3,255.0 L198.7,297.4 L199.1,254.2 L199.5,297.7 L199.9,254.8 L200.3,297.7 L200.7,254.5 L201.1,297.6 L201.5,254.8 L201.9,297.4 L202.3,254.7 L202.7,297.3 L203.1,254.4 L203.5,297.2 L203.9,254.2 L204.3,297.2 L204.7,254.3 L205.1,297.0 L205.5,254.2 L205.9,296.2 L206.3,254.8 L206.7,296.8 L207.1,254.2 L207.5,297.0 L207.9,254.4 L208.3,296.6 L208.7,254.3 L209.1,296.8 L209.5,253.7 L209.9,295.9 L210.3,254.3 L210.7,295.8 L211.1,253.9 L211.5,296.2 L211.9,253.6 L212.3,295.9 L212.7,253.4 L213.1,296.3 L213.5,253.5 L213.9,293.6 L214.3,253.5 L214.7,294.2 L215.1,253.2 L215.5,294.2 L215.9,253.5 L216.3,294.0 L216.7,253.5 L217.1,294.0 L217.5,253.1 L217.9,295.7 L218.3,253.8 L218.7,296.2 L219.1,253.5 L219.5,296.1 L219.9,253.4 L220.3,295.7 L220.7,253.5 L221.1,295.8 L221.5,253.6 L221.9,295.8 L222.3,253.6 L222.7,295.5 L223.1,253.3 L223.5,295.2 L223.9,253.2 L224.3,295.7 L224.7,253.5 L225.1,295.4 L225.5,253.1 L225.9,295.0 L226.3,252.9 L226.7,295.4 L227.1,253.2 L227.5,295.5 L227.9,253.2 L228.3,295.4 L228.7,252.9 L229.1,295.4 L229.5,253.2 L229.9,295.8 L230.3,253.3 L230.7,296.0 L231.1,253.1 L231.5,295.7 L231.9,253.0 L232.3,295.6 L232.7,252.9 L233.1,296.3 L233.5,253.1 L233.9,295.8 L234.3,254.1 L234.7,295.6 L235.1,253.9 L235.5,295.9 L235.9,254.3 L236.3,296.6 L236.7,253.9 L237.1,296.1 L237.5,252.3 L237.9,296.5 L238.3,255.4 L238.7,296.6 L239.1,255.1 L239.5,296.8 L239.9,252.3 L240.3,296.5 L240.7,252.5 L241.1,297.1 L241.5,252.6 L241.9,294.4 L242.3,252.8 L242.7,294.2 L243.1,252.8 L243.5,294.1 L243.9,252.9 L244.3,293.9 L244.7,252.9 L245.1,293.7 L245.5,253.2 L245.9,296.7 L246.3,253.1 L246.7,296.7 L247.1,253.0 L247.5,296.7 L247.9,252.8 L248.3,296.6 L248.7,253.3 L249.1,296.6 L249.5,252.6 L249.9,295.8 L250.3,253.1 L250.7,296.4 L251.1,252.9 L251.5,296.0 L251.9,252.9 L252.3,296.5 L252.7,252.8 L253.1,296.5 L253.5,252.8 L253.9,296.3 L254.3,252.3 L254.7,296.0 L255.1,252.0 L255.5,296.8 L255.9,252.4 L256.3,296.7 L256.7,252.4 L257.1,296.7 L257.5,251.8 L257.9,296.4 L258.3,252.0 L258.7,296.5 L259.1,252.3 L259.5,296.5 L259.9,252.1 L260.3,296.7 L260.7,252.0 L261.1,296.0 L261.5,252.0 L261.9,296.2 L262.3,251.9 L262.7,296.7 L263.1,252.3 L263.5,296.5 L263.9,252.3 L264.3,296.8 L264.7,252.5 L265.1,296.9 L265.5,252.2 L265.9,296.2 L266.3,252.6 L266.7,296.8 L267.1,252.9 L267.5,296.7 L267.9,253.1 L268.3,296.7 L268.7,252.9 L269.1,296.7 L269.5,252.8 L269.9,296.6 L270.3,253.3 L270.7,296.9 L271.1,253.7 L271.5,296.9 L271.9,254.0 L272.3,296.7 L272.7,253.9 L273.1,297.1 L273.5,254.3 L273.9,297.0 L274.3,254.4 L274.7,296.9 L275.1,254.5 L275.5,294.5 L275.9,255.3 L276.3,294.3 L276.7,255.4 L277.1,294.1 L277.5,255.0 L277.9,297.7 L278.3,255.4 L278.7,298.0 L279.1,255.1 L279.5,298.0 L279.9,254.8 L280.3,296.5 L280.7,254.6 L281.1,296.2 L281.5,254.9 L281.9,297.0 L282.3,255.2 L282.7,296.8 L283.1,255.5 L283.5,297.2 L283.9,255.2 L284.3,298.8 L284.7,255.2 L285.1,298.5 L285.5,255.5 L285.9,298.7 L286.3,255.7 L286.7,299.0 L287.1,255.8 L287.5,299.2 L287.9,255.5 L288.3,299.2 L288.7,256.3 L289.1,299.9 L289.5,256.4 L289.9,300.2 L290.3,256.4 L290.7,300.0 L291.1,256.1 L291.5,300.4 L291.9,256.4 L292.3,300.3 L292.7,256.2 L293.1,300.5 L293.5,256.5 L293.9,300.9 L294.3,256.3 L294.7,300.9 L295.1,256.7 L295.5,301.4 L295.9,256.3 L296.3,301.1 L296.7,256.7 L297.1,301.5 L297.5,256.2 L297.9,301.9 L298.3,256.3 L298.7,301.4 L299.1,256.4 L299.5,301.8 L299.9,256.4 L300.3,301.5 L300.7,256.5 L301.1,301.7 L301.5,256.7 L301.9,301.9 L302.3,257.1 L302.7,302.0 L303.1,257.2 L303.5,302.2 L303.9,257.1 L304.3,302.8 L304.7,257.5 L305.1,302.1 L305.5,257.3 L305.9,302.7 L306.3,257.4 L306.7,302.8 L307.1,256.8 L307.5,302.8 L307.9,257.0 L308.3,303.0 L308.7,257.2 L309.1,301.2 L309.5,257.1 L309.9,301.5 L310.3,256.7 L310.7,301.6 L311.1,257.3 L311.5,301.3 L311.9,257.2 L312.3,303.0 L312.7,257.0 L313.1,303.1 L313.5,257.0 L313.9,302.9 L314.3,257.5 L314.7,302.4 L315.1,257.8 L315.5,302.9 L315.9,257.0 L316.3,302.8 L316.7,257.8 L317.1,302.4 L317.5,257.6 L317.9,303.3 L318.3,257.5 L318.7,303.5 L319.1,258.1 L319.5,303.5 L319.9,257.6 L320.3,304.3 L320.7,257.7 L321.1,303.6 L321.5,258.1 L321.9,303.9 L322.3,257.5 L322.7,303.9 L323.1,257.8 L323.5,304.2 L323.9,258.0 L324.3,304.6 L324.7,257.8 L325.1,304.3 L325.5,257.5 L325.9,304.3 L326.3,258.1 L326.7,304.8 L327.1,257.7 L327.5,304.5 L327.9,258.0 L328.3,305.2 L328.7,257.6 L329.1,305.4 L329.5,258.1 L329.9,305.2 L330.3,258.4 L330.7,305.8 L331.1,257.9 L331.5,305.7 L331.9,258.0 L332.3,306.4 L332.7,259.0 L333.1,306.3 L333.5,258.2 L333.9,306.2 L334.3,258.4 L334.7,306.6 L335.1,258.6 L335.5,307.0 L335.9,258.9 L336.3,306.7 L336.7,258.7 L337.1,306.3 L337.5,258.9 L337.9,306.8 L338.3,259.0 L338.7,306.6 L339.1,258.7 L339.5,306.0 L339.9,258.9 L340.3,306.8 L340.7,258.9 L341.1,306.9 L341.5,258.7 L341.9,306.3 L342.3,259.4 L342.7,306.7 L343.1,259.0 L343.5,305.8 L343.9,258.6 L344.3,305.9 L344.7,258.6 L345.1,305.7 L345.5,258.7 L345.9,305.3 L346.3,259.1 L346.7,305.4 L347.1,259.1 L347.5,304.8 L347.9,259.5 L348.3,304.7 L348.7,259.1 L349.1,304.7 L349.5,259.5 L349.9,305.0 L350.3,260.0 L350.7,305.0 L351.1,259.2 L351.5,304.8 L351.9,259.1 L352.3,305.5 L352.7,259.2 L353.1,304.9 L353.5,259.6 L353.9,305.1 L354.3,259.6 L354.7,305.5 L355.1,259.6 L355.5,304.9 L355.9,259.3 L356.3,305.2 L356.7,259.3 L357.1,304.7 L357.5,259.2 L357.9,304.7 L358.3,259.2 L358.7,304.9 L359.1,259.0 L359.5,304.6 L359.9,259.8 L360.3,304.1 L360.7,259.4 L361.1,304.2 L361.5,259.7 L361.9,304.7 L362.3,259.7 L362.7,304.2 L363.1,259.4 L363.5,301.5 L363.9,259.0 L364.3,301.4 L364.7,259.5 L365.1,304.0 L365.5,259.5 L365.9,304.0 L366.3,259.5 L366.7,303.9 L367.1,259.5 L367.5,303.9 L367.9,259.3 L368.3,303.8 L368.7,259.1 L369.1,303.6 L369.5,258.8 L369.9,304.1 L370.3,259.3 L370.7,303.6 L371.1,259.0 L371.5,303.6 L371.9,259.0 L372.3,304.0 L372.7,258.9 L373.1,303.2 L373.5,259.3 L373.9,303.0 L374.3,258.9 L374.7,303.3 L375.1,260.7 L375.5,303.1 L375.9,260.8 L376.3,303.4 L376.7,261.0 L377.1,303.2 L377.5,259.3 L377.9,303.0 L378.3,259.0 L378.7,302.4 L379.1,258.5 L379.5,302.7 L379.9,258.7 L380.3,303.1 L380.7,258.9 L381.1,302.8 L381.5,258.8 L381.9,302.5 L382.3,259.3 L382.7,302.6 L383.1,260.9 L383.5,302.4 L383.9,260.0 L384.3,302.3 L384.7,259.0 L385.1,302.7 L385.5,258.7 L385.9,302.1 L386.3,258.9 L386.7,302.1 L387.1,258.6 L387.5,301.5 L387.9,258.6 L388.3,302.1 L388.7,258.4 L389.1,301.8 L389.5,258.6 L389.9,301.6 L390.3,258.9 L390.7,302.1 L391.1,258.2 L391.5,302.0 L391.9,258.2 L392.3,301.5 L392.7,258.7 L393.1,300.9 L393.5,258.6 L393.9,301.1 L394.3,258.7 L394.7,301.1 L395.1,258.6 L395.5,301.4 L395.9,258.5 L396.3,301.5 L396.7,257.8 L397.1,301.1 L397.5,257.6 L397.9,300.6 L398.3,257.6 L398.7,300.5 L399.1,257.5 L399.5,300.8 L399.9,258.1 L400.3,300.7 L400.7,257.3 L401.1,300.8 L401.5,257.2 L401.9,300.3 L402.3,257.8 L402.7,299.7 L403.1,256.9 L403.5,299.5 L403.9,256.7 L404.3,297.7 L404.7,256.2 L405.1,297.7 L405.5,256.5 L405.9,298.0 L406.3,255.9 L406.7,299.1 L407.1,255.3 L407.5,299.1 L407.9,255.6 L408.3,298.9 L408.7,255.2 L409.1,298.8 L409.5,254.8 L409.9,298.3 L410.3,256.1 L410.7,297.7 L411.1,256.0 L411.5,296.9 L411.9,255.8 L412.3,297.1 L412.7,254.3 L413.1,296.5 L413.5,253.7 L413.9,297.4 L414.3,252.9 L414.7,297.0 L415.1,252.8 L415.5,296.4 L415.9,252.3 L416.3,296.0 L416.7,251.9 L417.1,295.5 L417.5,251.3 L417.9,295.2 L418.3,253.0 L418.7,295.0 L419.1,253.1 L419.5,295.4 L419.9,250.4 L420.3,294.8 L420.7,249.6 L421.1,294.4 L421.5,249.1 L421.9,294.1 L422.3,248.5 L422.7,293.5 L423.1,248.3 L423.5,289.9 L423.9,247.4 L424.3,289.4 L424.7,247.0 L425.1,289.1 L425.5,247.2 L425.9,288.9 L426.3,247.0 L426.7,290.2 L427.1,245.9 L427.5,289.9 L427.9,245.2 L428.3,289.2 L428.7,244.1 L429.1,288.8 L429.5,243.2 L429.9,289.2 L430.3,242.0 L430.7,288.7 L431.1,241.7 L431.5,287.8 L431.9,241.3 L432.3,287.4 L432.7,241.2 L433.1,286.8 L433.5,240.9 L433.9,287.2 L434.3,241.1 L434.7,287.0 L435.1,240.3 L435.5,286.3 L435.9,240.4 L436.3,285.3 L436.7,240.7 L437.1,285.6 L437.5,239.6 L437.9,285.3 L438.3,242.0 L438.7,284.6 L439.1,241.8 L439.5,285.0 L439.9,241.5 L440.3,284.8 L440.7,241.1 L441.1,284.6 L441.5,240.7 L441.9,284.7 L442.3,238.6 L442.7,285.3 L443.1,238.8 L443.5,283.0 L443.9,238.6 L444.3,283.0 L444.7,241.1 L445.1,283.1 L445.5,241.0 L445.9,282.6 L446.3,241.2 L446.7,282.9 L447.1,239.2 L447.5,281.0 L447.9,239.3 L448.3,281.6 L448.7,242.5 L449.1,284.7 L449.5,242.7 L449.9,284.6 L450.3,242.0 L450.7,285.2 L451.1,238.4 L451.5,285.0 L451.9,238.2 L452.3,285.0 L452.7,237.2 L453.1,280.7 L453.5,238.0 L453.9,280.2 L454.3,237.1 L454.7,280.1 L455.1,237.1 L455.5,280.1 L455.9,236.3 L456.3,279.6 L456.7,236.0 L457.1,282.2 L457.5,236.5 L457.9,281.3 L458.3,236.5 L458.7,281.0 L459.1,235.0 L459.5,280.4 L459.9,234.4 L460.3,280.1 L460.7,233.8 L461.1,278.8 L461.5,233.4 L461.9,278.5 L462.3,233.1 L462.7,277.5 L463.1,232.1 L463.5,277.6 L463.9,231.0 L464.3,278.1 L464.7,230.5 L465.1,278.5 L465.5,230.7 L465.9,278.1 L466.3,229.9 L466.7,277.5 L467.1,228.9 L467.5,276.7 L467.9,229.7 L468.3,276.2 L468.7,228.8 L469.1,275.6 L469.5,230.2 L469.9,275.5 L470.3,230.7 L470.7,273.9 L471.1,229.7 L471.5,273.2 L471.9,229.3 L472.3,273.0 L472.7,229.4 L473.1,272.0 L473.5,226.4 L473.9,268.1 L474.3,225.9 L474.7,267.9 L475.1,226.2 L475.5,267.8 L475.9,226.3 L476.3,268.0 L476.7,225.8 L477.1,267.3 L477.5,226.0 L477.9,270.9 L478.3,226.3 L478.7,272.3 L479.1,226.1 L479.5,273.3 L479.9,227.8 L480.3,273.9 L480.7,227.9 L481.1,275.0 L481.5,229.3 L481.9,275.0 L482.3,229.8 L482.7,275.7 L483.1,230.6 L483.5,275.9 L483.9,231.1 L484.3,277.0 L484.7,230.4 L485.1,276.9 L485.5,228.7 L485.9,276.4 L486.3,227.7 L486.7,276.0 L487.1,227.4 L487.5,272.4 L487.9,226.5 L488.3,269.7 L488.7,225.3 L489.1,268.2 L489.5,223.8 L489.9,265.4 L490.3,223.3 L490.7,264.4 L491.1,222.6 L491.5,266.4 L491.9,221.5 L492.3,266.1 L492.7,221.8 L493.1,266.2 L493.5,221.5 L493.9,264.9 L494.3,221.0 L494.7,265.0 L495.1,220.5 L495.5,265.2 L495.9,221.0 L496.3,265.8 L496.7,222.2 L497.1,267.1 L497.5,223.2 L497.9,267.2 L498.3,223.0 L498.7,268.3 L499.1,224.9 L499.5,269.4 L499.9,225.7 L500.3,269.7 L500.7,225.2 L501.1,269.0 L501.5,224.8 L501.9,267.6 L502.3,223.5 L502.7,266.3 L503.1,222.7 L503.5,265.8 L503.9,222.6 L504.3,263.6 L504.7,221.9 L505.1,262.6 L505.5,220.4 L505.9,261.9 L506.3,219.5 L506.7,261.5 L507.1,218.6 L507.5,260.1 L507.9,218.3 L508.3,260.1 L508.7,217.6 L509.1,258.8 L509.5,216.4 L509.9,257.1 L510.3,216.3 L510.7,256.4 L511.1,214.9 L511.5,255.6 L511.9,214.1 L512.3,254.6 L512.7,213.4 L513.1,254.9 L513.5,213.2 L513.9,254.6 L514.3,212.7 L514.7,253.8 L515.1,211.8 L515.5,253.0 L515.9,211.7 L516.3,251.9 L516.7,210.8 L517.1,251.8 L517.5,210.5 L517.9,251.0 L518.3,209.5 L518.7,251.3 L519.1,209.2 L519.5,250.3 L519.9,208.6 L520.3,250.1 L520.7,208.3 L521.1,249.9 L521.5,208.4 L521.9,248.8 L522.3,206.6 L522.7,245.8 L523.1,205.4 L523.5,245.8 L523.9,203.6 L524.3,244.4 L524.7,201.5 L525.1,243.8 L525.5,199.9 L525.9,242.4 L526.3,198.3 L526.7,240.0 L527.1,195.7 L527.5,237.7 L527.9,194.5 L528.3,235.5 L528.7,193.5 L529.1,233.7 L529.5,191.8 L529.9,231.7 L530.3,191.3 L530.7,230.2 L531.1,190.0 L531.5,229.1 L531.9,188.8 L532.3,227.3 L532.7,187.6 L533.1,226.4 L533.5,187.4 L533.9,225.6 L534.3,186.7 L534.7,224.7 L535.1,185.1 L535.5,223.7 L535.9,184.4 L536.3,222.6 L536.7,183.5 L537.1,221.7 L537.5,181.9 L537.9,220.9 L538.3,181.3 L538.7,220.2 L539.1,180.6 L539.5,218.2 L539.9,183.5 L540.3,218.1 L540.7,182.4 L541.1,216.5 L541.5,182.0 L541.9,215.3 L542.3,180.1 L542.7,214.4 L543.1,179.6 L543.5,213.1 L543.9,175.8 L544.3,213.3 L544.7,175.4 L545.1,212.1 L545.5,175.1 L545.9,211.1 L546.3,174.0 L546.7,211.0 L547.1,173.3 L547.5,210.0 L547.9,171.8 L548.3,209.8 L548.7,172.1 L549.1,209.7 L549.5,170.8 L549.9,209.2 L550.3,170.4 L550.7,208.8 L551.1,169.8 L551.5,208.2 L551.9,168.4 L552.3,207.3 L552.7,168.8 L553.1,207.2 L553.5,167.9 L553.9,205.9 L554.3,167.3 L554.7,206.0 L555.1,167.0 L555.5,206.4 L555.9,166.6 L556.3,205.6 L556.7,166.1 L557.1,205.2 L557.5,165.0 L557.9,204.3 L558.3,165.2 L558.7,204.4 L559.1,164.9 L559.5,203.2 L559.9,163.3 L560.3,203.5 L560.7,163.8 L561.1,203.1 L561.5,163.0 L561.9,202.0 L562.3,162.5 L562.7,202.0 L563.1,162.3 L563.5,201.8 L563.9,161.9 L564.3,198.2 L564.7,161.7 L565.1,197.2 L565.5,161.8 L565.9,196.5 L566.3,161.3 L566.7,199.6 L567.1,160.9 L567.5,199.2 L567.9,160.3 L568.3,196.7 L568.7,159.5 L569.1,196.8 L569.5,159.6 L569.9,199.4 L570.3,158.7 L570.7,198.8 L571.1,158.7 L571.5,198.0 L571.9,158.2 L572.3,197.3 L572.7,157.9 L573.1,196.9 L573.5,157.7 L573.9,197.4 L574.3,156.9 L574.7,197.7 L575.1,157.3 L575.5,197.4 L575.9,156.7 L576.3,197.0 L576.7,156.9 L577.1,196.3 L577.5,157.3 L577.9,195.5 L578.3,158.3 L578.7,193.9 L579.1,158.5 L579.5,193.5 L579.9,158.3 L580.3,193.8 L580.7,157.1 L581.1,193.4 L581.5,157.6 L581.9,195.4 L582.3,154.7 L582.7,196.5 L583.1,154.3 L583.5,193.4 L583.9,154.8 L584.3,192.8 L584.7,154.5 L585.1,195.3 L585.5,153.8 L585.9,192.8 L586.3,153.9 L586.7,192.4 L587.1,153.1 L587.5,191.3 L587.9,152.9 L588.3,193.2 L588.7,153.4 L589.1,192.7 L589.5,152.9 L589.9,192.7 L590.3,152.7 L590.7,192.7 L591.1,152.5 L591.5,192.5 L591.9,152.1 L592.3,193.0 L592.7,151.8 L593.1,192.9 L593.5,152.1 L593.9,192.8 L594.3,151.8 L594.7,193.1 L595.1,150.9 L595.5,192.6 L595.9,151.7 L596.3,188.3 L596.7,152.0 L597.1,188.6 L597.5,151.1 L597.9,188.0 L598.3,151.4 L598.7,188.1 L599.1,150.3 L599.5,186.9 L599.9,150.3 L600.3,190.6 L600.7,151.1 L601.1,190.6 L601.5,150.8 L601.9,188.5 L602.3,150.9 L602.7,189.9 L603.1,151.3 L603.5,191.7 L603.9,154.2 L604.3,195.7 L604.7,156.5 L605.1,203.1 L605.5,159.7 L605.9,207.3 L606.3,163.2 L606.7,209.2 L607.1,166.6 L607.5,210.7 L607.9,170.0 L608.3,212.0 L608.7,171.4 L609.1,213.6 L609.5,172.5 L609.9,215.3 L610.3,174.0 L610.7,214.1 L611.1,175.5 L611.5,215.3 L611.9,176.8 L612.3,216.2 L612.7,177.6 L613.1,218.7 L613.5,178.2 L613.9,219.1 L614.3,178.9 L614.7,220.3 L615.1,179.9 L615.5,220.8 L615.9,180.3 L616.3,221.0 L616.7,180.5 L617.1,221.3 L617.5,183.7 L617.9,222.2 L618.3,184.4 L618.7,222.4 L619.1,185.0 L619.5,222.0 L619.9,184.9 L620.3,220.7 L620.7,183.3 L621.1,219.7 L621.5,183.1 L621.9,221.0 L622.3,182.7 L622.7,221.2 L623.1,182.3 L623.5,221.8 L623.9,182.6 L624.3,221.3 L624.7,182.9 L625.1,220.7 L625.5,182.4 L625.9,221.9 L626.3,182.2 L626.7,221.6 L627.1,181.8 L627.5,221.5 L627.9,183.8 L628.3,221.1 L628.7,183.5 L629.1,221.1 L629.5,184.0 L629.9,220.6 L630.3,183.8 L630.7,221.0 L631.1,182.9 L631.5,221.0 L631.9,180.8 L632.3,220.6 L632.7,184.9 L633.1,220.4 L633.5,184.7 L633.9,220.4 L634.3,185.2 L634.7,219.9 L635.1,184.9 L635.5,218.0 L635.9,182.1 L636.3,217.6 L636.7,181.3 L637.1,217.1 L637.5,181.1 L637.9,217.4 L638.3,181.7 L638.7,218.0 L639.1,181.7 L639.5,217.1 L639.9,182.0 L640.3,216.6 L640.7,184.5 L641.1,218.3 L641.5,184.4 L641.9,221.4 L642.3,185.8 L642.7,223.5 L643.1,186.9 L643.5,221.4 L643.9,188.1 L644.3,222.6 L644.7,186.4 L645.1,223.8 L645.5,187.9 L645.9,227.7 L646.3,188.7 L646.7,229.4 L647.1,188.9 L647.5,227.4 L647.9,189.8 L648.3,227.6 L648.7,190.0 L649.1,227.7 L649.5,190.4 L649.9,228.5 L650.3,190.6 L650.7,228.4 L651.1,191.0 L651.5,231.8 L651.9,194.5 L652.3,231.5 L652.7,195.6 L653.1,231.3 L653.5,191.9 L653.9,232.2 L654.3,192.3 L654.7,232.7 L655.1,192.3 L655.5,228.1 L655.9,191.9 L656.3,227.5 L656.7,193.2 L657.1,230.6 L657.5,193.1 L657.9,230.9 L658.3,193.0 L658.7,230.3 L659.1,194.0 L659.5,230.2 L659.9,193.8 L660.3,229.2 L660.7,194.4 L661.1,229.3 L661.5,195.1 L661.9,229.5 L662.3,198.2 L662.7,229.0 L663.1,198.9 L663.5,228.2 L663.9,198.7 L664.3,228.0 L664.7,195.8 L665.1,226.6 L665.5,195.1 L665.9,226.1 L666.3,194.8 L666.7,226.2 L667.1,195.2 L667.5,227.4 L667.9,195.2 L668.3,227.2 L668.7,194.1 L669.1,227.0 L669.5,194.6 L669.9,227.1 L670.3,194.7 L670.7,223.0 L671.1,194.4 L671.5,223.0 L671.9,195.0 L672.3,223.0 L672.7,194.7 L673.1,222.9 L673.5,193.6 L673.9,222.6 L674.3,193.2 L674.7,226.4 L675.1,196.1 L675.5,226.3 L675.9,195.9 L676.3,226.1 L676.7,192.6 L677.1,226.6 L677.5,192.5 L677.9,226.1 L678.3,192.8 L678.7,227.2 L679.1,198.0 L679.5,226.9 L679.9,198.1 L680.3,226.7 L680.7,198.4 L681.1,226.5 L681.5,192.9 L681.9,226.6 L682.3,193.3 L682.7,225.8 L683.1,192.6 L683.5,225.8 L683.9,197.7 L684.3,226.5 L684.7,198.0 L685.1,226.2 L685.5,198.6 L685.9,226.9 L686.3,198.1 L686.7,225.7 L687.1,193.5 L687.5,226.3 L687.9,192.7 L688.3,226.3 L688.7,192.9 L689.1,226.4 L689.5,193.0 L689.9,225.6 L690.3,192.5 L690.7,225.8 L691.1,192.6 L691.5,226.1 L691.9,193.0 L692.3,226.2 L692.7,191.9 L693.1,226.1 L693.5,191.2 L693.9,225.5 L694.3,190.2 L694.7,221.2 L695.1,190.7 L695.5,221.9 L695.9,189.8 L696.3,226.6 L696.7,192.2 L697.1,227.1 L697.5,193.3 L697.9,227.9 L698.3,193.3 L698.7,228.8 L699.1,194.0 L699.5,231.2 L699.9,195.5 L700.3,228.9 L700.7,195.4 L701.1,227.0 L701.5,195.1 L701.9,223.9 L702.3,194.2 L702.7,222.7 L703.1,198.7 L703.5,221.8 L703.9,197.4 L704.3,223.4 L704.7,196.6 L705.1,220.7 L705.5,196.6 L705.9,221.2 L706.3,192.3 L706.7,221.9 L707.1,192.9 L707.5,222.3 L707.9,193.0 L708.3,222.4 L708.7,195.3 L709.1,223.3 L709.5,194.3 L709.9,223.2 L710.3,194.9 L710.7,223.1 L711.1,194.6 L711.5,223.4 L711.9,191.6 L712.3,223.0 L712.7,191.9 L713.1,224.1 L713.5,191.5 L713.9,224.3 L714.3,191.3 L714.7,223.7 L715.1,191.7 L715.5,220.7 L715.9,190.6 L716.3,220.7 L716.7,190.6 L717.1,220.6 L717.5,190.8 L717.9,218.8 L718.3,191.0 L718.7,219.4 L719.1,190.8 L719.5,219.0 L719.9,190.7 L720.3,223.9 L720.7,191.8 L721.1,224.1 L721.5,190.4 L721.9,224.1 L722.3,190.1 L722.7,225.1 L723.1,190.6 L723.5,221.2 L723.9,190.9 L724.3,221.3 L724.7,190.1 L725.1,224.3 L725.5,189.8 L725.9,224.5 L726.3,191.7 L726.7,225.2 L727.1,192.3 L727.5,225.1 L727.9,192.4 L728.3,224.7 L728.7,192.3 L729.1,224.7 L729.5,192.4 L729.9,224.5 L730.3,189.8 L730.7,223.5 L731.1,189.5 L731.5,221.0 L731.9,190.1 L732.3,220.7 L732.7,189.9 L733.1,220.1 L733.5,192.8 L733.9,220.0 L734.3,193.2 L734.7,218.9 L735.1,188.4 L735.5,218.7 L735.9,188.9 L736.3,219.2 L736.7,188.5 L737.1,219.6 L737.5,188.2 L737.9,221.5 L738.3,188.4 L738.7,216.8 L739.1,188.7 L739.5,216.9 L739.9,187.7 L740.3,216.8 L740.7,188.1 L741.1,215.5 L741.5,186.8 L741.9,215.7 L742.3,187.0 L742.7,221.0 L743.1,186.3 L743.5,221.2 L743.9,186.5 L744.3,220.9 L744.7,186.1 L745.1,220.3 L745.5,185.8 L745.9,219.6 L746.3,187.3 L746.7,220.6 L747.1,186.9 L747.5,220.6 L747.9,186.1 L748.3,221.4 L748.7,185.9 L749.1,221.6 L749.5,186.2 L749.9,223.8 L750.3,186.5 L750.7,223.5 L751.1,189.5 L751.5,220.6 L751.9,189.2 L752.3,215.5 L752.7,189.7 L753.1,215.6 L753.5,186.6 L753.9,214.7 L754.3,186.2 L754.7,213.8 L755.1,186.5 L755.5,213.4 L755.9,185.7 L756.3,217.1 L756.7,184.4 L757.1,216.6 L757.5,184.7 L757.9,216.2 L758.3,188.3 L758.7,216.2 L759.1,187.6 L759.5,215.8 L759.9,187.8 L760.3,216.3 L760.7,182.3 L761.1,216.5 L761.5,182.9 L761.9,216.7 L762.3,182.3 L762.7,217.0 L763.1,181.9 L763.5,216.5 L763.9,185.1 L764.3,215.4 L764.7,185.1 L765.1,214.9 L765.5,184.7 L765.9,213.7 L766.3,184.3 L766.7,212.5 L767.1,180.3 L767.5,210.1 L767.9,179.9 L768.3,209.3 L768.7,182.0 L769.1,209.0 L769.5,181.5 L769.9,208.9 L770.3,179.8 L770.7,207.5 L771.1,179.0 L771.5,210.0 L771.9,178.1 L772.3,209.8 L772.7,177.9 L773.1,208.9 L773.5,179.0 L773.9,208.9 L774.3,177.4 L774.7,207.5 L775.1,177.4 L775.5,202.8 L775.9,177.5 L776.3,202.4 L776.7,176.9 L777.1,206.9 L777.5,175.9 L777.9,205.6 L778.3,178.6 L778.7,206.0 L779.1,178.5 L779.5,206.0 L779.9,178.3 L780.3,205.1 L780.7,175.8 L781.1,204.3 L781.5,175.4 L781.9,204.8 L782.3,174.8 L782.7,203.8 L783.1,174.7 L783.5,204.2 L783.9,173.8 L784.3,203.2 L784.7,173.9 L785.1,203.1 L785.5,173.1 L785.9,202.7 L786.3,172.9 L786.7,202.5 L787.1,172.9 L787.5,201.6 L787.9,171.6 L788.3,200.8 L788.7,171.9 L789.1,200.5 L789.5,170.4 L789.9,199.8 L790.3,169.6 L790.7,198.3 L791.1,169.0 L791.5,197.8 L791.9,169.1 L792.3,197.5 L792.7,169.2 L793.1,196.5 L793.5,168.3 L793.9,196.4 L794.3,166.4 L794.7,195.7 L795.1,165.7 L795.5,194.5 L795.9,164.6 L796.3,194.8 L796.7,163.9 L797.1,194.2 L797.5,163.3 L797.9,193.1 L798.3,162.2 L798.7,192.8 L799.1,161.8 L799.5,192.4 L799.9,160.9 L800.3,191.0 L800.7,160.3 L801.1,189.7 L801.5,159.7 L801.9,189.1 L802.3,158.3 L802.7,188.5 L803.1,155.3 L803.5,186.3 L803.9,153.2 L804.3,185.0 L804.7,150.6 L805.1,180.7 L805.5,152.3 L805.9,178.0 L806.3,151.1 L806.7,175.6 L807.1,149.6 L807.5,173.4 L807.9,147.7 L808.3,173.1 L808.7,146.9 L809.1,172.0 L809.5,142.7 L809.9,170.7 L810.3,141.0 L810.7,168.8 L811.1,140.4 L811.5,167.2 L811.9,138.9 L812.3,166.0 L812.7,137.4 L813.1,164.9 L813.5,135.7 L813.9,163.9 L814.3,136.3 L814.7,163.2 L815.1,135.6 L815.5,161.5 L815.9,133.7 L816.3,160.4 L816.7,133.3 L817.1,159.0 L817.5,131.5 L817.9,155.9 L818.3,128.2 L818.7,155.3 L819.1,129.2 L819.5,155.3 L819.9,128.4 L820.3,154.4 L820.7,127.0 L821.1,153.8 L821.5,125.3 L821.9,155.1 L822.3,124.9 L822.7,154.3 L823.1,125.0 L823.5,154.2 L823.9,124.0 L824.3,152.5 L824.7,124.2 L825.1,152.1 L825.5,124.7 L825.9,150.0 L826.3,126.0 L826.7,149.1 L827.1,125.3 L827.5,147.6 L827.9,125.4 L828.3,147.4 L828.7,124.6 L829.1,146.5 L829.5,124.2 L829.9,146.2 L830.3,124.8 L830.7,145.6 L831.1,124.4 L831.5,145.2 L831.9,123.5 L832.3,145.3 L832.7,122.7 L833.1,144.4 L833.5,122.8 L833.9,144.2 L834.3,122.4 L834.7,143.5 L835.1,121.5 L835.5,143.1 L835.9,120.5 L836.3,142.9 L836.7,120.2 L837.1,142.1 L837.5,119.8 L837.9,142.5 L838.3,119.0 L838.7,142.5 L839.1,118.4 L839.5,143.7 L839.9,118.3 L840.3,144.0 L840.7,118.9 L841.1,144.7 L841.5,119.3 L841.9,144.2 L842.3,118.4 L842.7,143.4" fill="none" stroke="#A5A5A5" stroke-width="3" stroke-linejoin="round" stroke-linecap="round"/>
<line x1="272.8" y1="230.2" x2="272.8" y2="255.0" stroke="#A5A5A5" stroke-width="3" stroke-linecap="round"/>
<line x1="474.5" y1="201.0" x2="474.5" y2="230.0" stroke="#A5A5A5" stroke-width="3" stroke-linecap="round"/>
</g>
<g>
<text transform="translate(26.2,17.1) scale(1.04,1.02)" text-anchor="end">170</text>
<text transform="translate(26.2,46.1) scale(1.04,1.02)" text-anchor="end">160</text>
<text transform="translate(26.2,75.1) scale(1.04,1.02)" text-anchor="end">150</text>
<text transform="translate(26.2,104.1) scale(1.04,1.02)" text-anchor="end">140</text>
<text transform="translate(26.2,133.1) scale(1.04,1.02)" text-anchor="end">130</text>
<text transform="translate(26.2,162.1) scale(1.04,1.02)" text-anchor="end">120</text>
<text transform="translate(26.2,191.0) scale(1.04,1.02)" text-anchor="end">110</text>
<text transform="translate(26.2,220.0) scale(1.04,1.02)" text-anchor="end">100</text>
<text transform="translate(26.2,249.0) scale(1.04,1.02)" text-anchor="end">90</text>
<text transform="translate(26.2,278.0) scale(1.04,1.02)" text-anchor="end">80</text>
<text transform="translate(26.2,306.9) scale(1.04,1.02)" text-anchor="end">70</text>
<text transform="translate(26.2,335.9) scale(1.04,1.02)" text-anchor="end">60</text>
<text transform="translate(26.2,364.9) scale(1.04,1.02)" text-anchor="end">50</text>
</g>
<g>
<text transform="translate(37.20,368.0) rotate(-90) scale(1.05,1.02)" text-anchor="end" y="3.7">0</text>
<text transform="translate(51.85,368.0) rotate(-90) scale(1.05,1.02)" text-anchor="end" y="3.7">10.568</text>
<text transform="translate(66.50,368.0) rotate(-90) scale(1.05,1.02)" text-anchor="end" y="3.7">21.493</text>
<text transform="translate(81.15,368.0) rotate(-90) scale(1.05,1.02)" text-anchor="end" y="3.7">32.846</text>
<text transform="translate(95.80,368.0) rotate(-90) scale(1.05,1.02)" text-anchor="end" y="3.7">44.668</text>
<text transform="translate(110.45,368.0) rotate(-90) scale(1.05,1.02)" text-anchor="end" y="3.7">56.921</text>
<text transform="translate(125.10,368.0) rotate(-90) scale(1.05,1.02)" text-anchor="end" y="3.7">69.486</text>
<text transform="translate(139.75,368.0) rotate(-90) scale(1.05,1.02)" text-anchor="end" y="3.7">82.48</text>
<text transform="translate(154.40,368.0) rotate(-90) scale(1.05,1.02)" text-anchor="end" y="3.7">95.855</text>
<text transform="translate(169.05,368.0) rotate(-90) scale(1.05,1.02)" text-anchor="end" y="3.7">109.62</text>
<text transform="translate(183.70,368.0) rotate(-90) scale(1.05,1.02)" text-anchor="end" y="3.7">123.695</text>
<text transform="translate(198.35,368.0) rotate(-90) scale(1.05,1.02)" text-anchor="end" y="3.7">138.071</text>
<text transform="translate(213.00,368.0) rotate(-90) scale(1.05,1.02)" text-anchor="end" y="3.7">152.829</text>
<text transform="translate(227.65,368.0) rotate(-90) scale(1.05,1.02)" text-anchor="end" y="3.7">167.829</text>
<text transform="translate(242.30,368.0) rotate(-90) scale(1.05,1.02)" text-anchor="end" y="3.7">183.298</text>
<text transform="translate(256.95,368.0) rotate(-90) scale(1.05,1.02)" text-anchor="end" y="3.7">198.941</text>
<text transform="translate(271.60,368.0) rotate(-90) scale(1.05,1.02)" text-anchor="end" y="3.7">214.99</text>
<text transform="translate(286.25,368.0) rotate(-90) scale(1.05,1.02)" text-anchor="end" y="3.7">231.378</text>
<text transform="translate(300.90,368.0) rotate(-90) scale(1.05,1.02)" text-anchor="end" y="3.7">248.192</text>
<text transform="translate(315.55,368.0) rotate(-90) scale(1.05,1.02)" text-anchor="end" y="3.7">265.27</text>
<text transform="translate(330.20,368.0) rotate(-90) scale(1.05,1.02)" text-anchor="end" y="3.7">282.811</text>
<text transform="translate(344.85,368.0) rotate(-90) scale(1.05,1.02)" text-anchor="end" y="3.7">300.698</text>
<text transform="translate(359.50,368.0) rotate(-90) scale(1.05,1.02)" text-anchor="end" y="3.7">318.906</text>
<text transform="translate(374.15,368.0) rotate(-90) scale(1.05,1.02)" text-anchor="end" y="3.7">337.471</text>
<text transform="translate(388.80,368.0) rotate(-90) scale(1.05,1.02)" text-anchor="end" y="3.7">356.352</text>
<text transform="translate(403.45,368.0) rotate(-90) scale(1.05,1.02)" text-anchor="end" y="3.7">375.85</text>
<text transform="translate(418.10,368.0) rotate(-90) scale(1.05,1.02)" text-anchor="end" y="3.7">395.497</text>
<text transform="translate(432.75,368.0) rotate(-90) scale(1.05,1.02)" text-anchor="end" y="3.7">415.513</text>
<text transform="translate(447.40,368.0) rotate(-90) scale(1.05,1.02)" text-anchor="end" y="3.7">435.866</text>
<text transform="translate(462.05,368.0) rotate(-90) scale(1.05,1.02)" text-anchor="end" y="3.7">456.59</text>
<text transform="translate(476.70,368.0) rotate(-90) scale(1.05,1.02)" text-anchor="end" y="3.7">477.723</text>
<text transform="translate(491.35,368.0) rotate(-90) scale(1.05,1.02)" text-anchor="end" y="3.7">499.397</text>
<text transform="translate(506.00,368.0) rotate(-90) scale(1.05,1.02)" text-anchor="end" y="3.7">521.069</text>
<text transform="translate(520.65,368.0) rotate(-90) scale(1.05,1.02)" text-anchor="end" y="3.7">543.371</text>
<text transform="translate(535.30,368.0) rotate(-90) scale(1.05,1.02)" text-anchor="end" y="3.7">565.828</text>
<text transform="translate(549.95,368.0) rotate(-90) scale(1.05,1.02)" text-anchor="end" y="3.7">588.762</text>
<text transform="translate(564.60,368.0) rotate(-90) scale(1.05,1.02)" text-anchor="end" y="3.7">611.952</text>
<text transform="translate(579.25,368.0) rotate(-90) scale(1.05,1.02)" text-anchor="end" y="3.7">635.215</text>
<text transform="translate(593.90,368.0) rotate(-90) scale(1.05,1.02)" text-anchor="end" y="3.7">658.902</text>
<text transform="translate(608.55,368.0) rotate(-90) scale(1.05,1.02)" text-anchor="end" y="3.7">683.089</text>
<text transform="translate(623.20,368.0) rotate(-90) scale(1.05,1.02)" text-anchor="end" y="3.7">707.916</text>
<text transform="translate(637.85,368.0) rotate(-90) scale(1.05,1.02)" text-anchor="end" y="3.7">733.214</text>
<text transform="translate(652.50,368.0) rotate(-90) scale(1.05,1.02)" text-anchor="end" y="3.7">758.837</text>
<text transform="translate(667.15,368.0) rotate(-90) scale(1.05,1.02)" text-anchor="end" y="3.7">784.689</text>
<text transform="translate(681.80,368.0) rotate(-90) scale(1.05,1.02)" text-anchor="end" y="3.7">810.929</text>
<text transform="translate(696.45,368.0) rotate(-90) scale(1.05,1.02)" text-anchor="end" y="3.7">837.865</text>
<text transform="translate(711.10,368.0) rotate(-90) scale(1.05,1.02)" text-anchor="end" y="3.7">864.938</text>
<text transform="translate(725.75,368.0) rotate(-90) scale(1.05,1.02)" text-anchor="end" y="3.7">892.428</text>
<text transform="translate(740.40,368.0) rotate(-90) scale(1.05,1.02)" text-anchor="end" y="3.7">920.305</text>
<text transform="translate(755.05,368.0) rotate(-90) scale(1.05,1.02)" text-anchor="end" y="3.7">948.431</text>
<text transform="translate(769.70,368.0) rotate(-90) scale(1.05,1.02)" text-anchor="end" y="3.7">976.803</text>
<text transform="translate(784.35,368.0) rotate(-90) scale(1.05,1.02)" text-anchor="end" y="3.7">1005.08</text>
<text transform="translate(799.00,368.0) rotate(-90) scale(1.05,1.02)" text-anchor="end" y="3.7">1034.223</text>
<text transform="translate(813.65,368.0) rotate(-90) scale(1.05,1.02)" text-anchor="end" y="3.7">1064.298</text>
<text transform="translate(828.30,368.0) rotate(-90) scale(1.05,1.02)" text-anchor="end" y="3.7">1094.995</text>
</g>
<g>
<line x1="294.7" y1="434.4" x2="319.5" y2="434.4" stroke="#5B9BD5" stroke-width="3" stroke-linecap="round"/>
<text x="322.4" y="437.3" font-size="10.7" textLength="50.4" lengthAdjust="spacingAndGlyphs">Temp 3 (F)</text>
<line x1="391.1" y1="434.4" x2="415.9" y2="434.4" stroke="#ED7D31" stroke-width="3" stroke-linecap="round"/>
<text x="418.8" y="437.3" font-size="10.7" textLength="50.4" lengthAdjust="spacingAndGlyphs">Temp 1 (F)</text>
<line x1="487.5" y1="434.4" x2="512.3" y2="434.4" stroke="#A5A5A5" stroke-width="3" stroke-linecap="round"/>
<text x="515.2" y="437.3" font-size="10.7" textLength="50.4" lengthAdjust="spacingAndGlyphs">Temp 2 (F)</text>
</g>
<g class="tip">
<rect x="211" y="41.5" width="56.5" height="15" fill="#7f7f7f"/>
<rect x="210.5" y="41" width="57.5" height="16" fill="none" stroke="#bdbdbd" stroke-width="1" opacity="0.6"/>
<rect x="204.5" y="34.5" width="60.5" height="19" fill="#ffffff" stroke="#E3E3E3" stroke-width="1"/>
<line x1="205" y1="42.4" x2="264.5" y2="42.4" stroke="#DADADA" stroke-width="1"/>
<text x="210.3" y="47.9" textLength="47.5" lengthAdjust="spacingAndGlyphs">Plot Area</text>
</g>
</svg>
</body></html>
